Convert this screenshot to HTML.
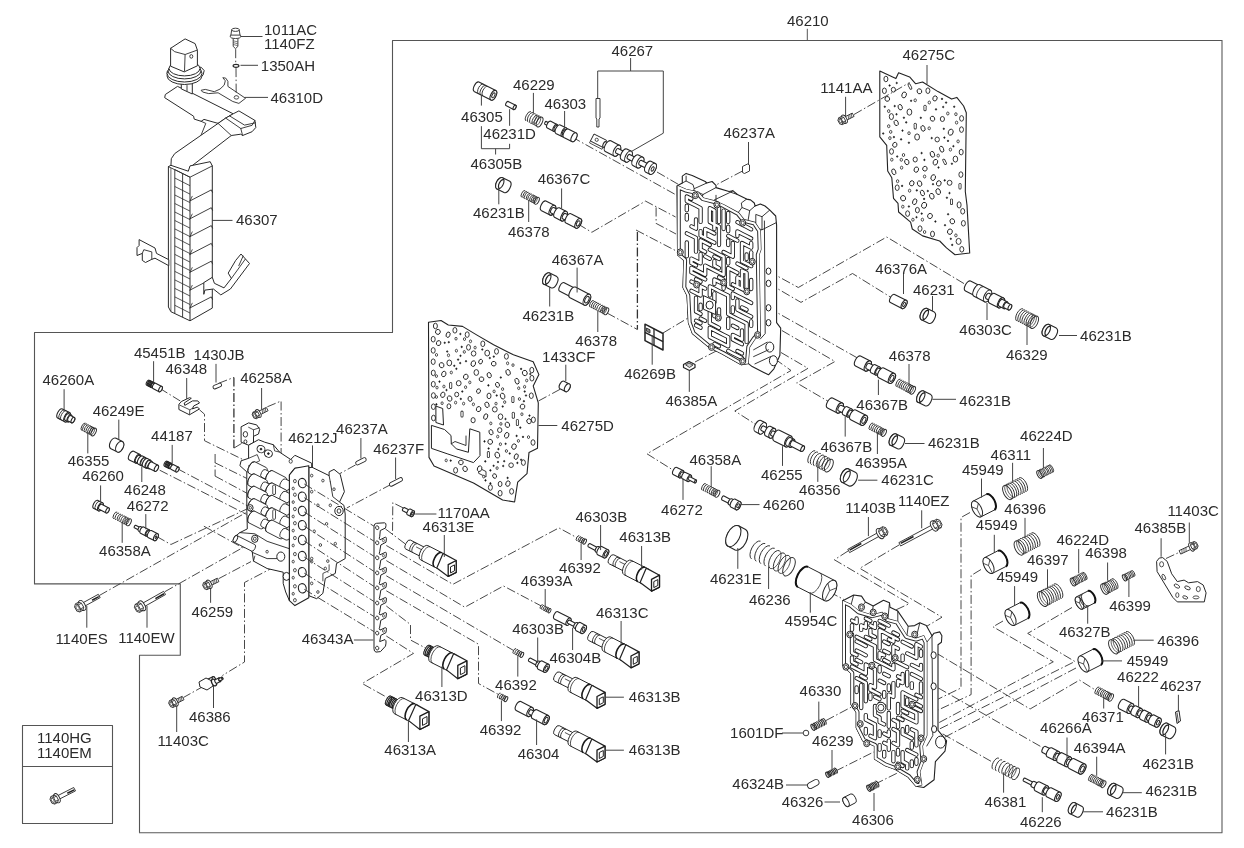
<!DOCTYPE html><html><head><meta charset="utf-8"><title>46210 valve body</title><style>html,body{margin:0;padding:0;background:#fff}svg{display:block;will-change:transform;font-family:"Liberation Sans",sans-serif}</style></head><body><svg width="1244" height="848" viewBox="0 0 1244 848"><path d="M1222 40.5 L392.5 40.5 L392.5 332.5 L34.5 332.5 L34.5 583.9 L180.3 583.9 L180.3 655.2 L139.5 655.2 L139.5 832.8" stroke="#555" stroke-width="1.1" fill="none" stroke-linejoin="round" />
<path d="M1222 40 L1222 832.8 L139 832.8" stroke="#5a5a5a" stroke-width="1.1" fill="none" stroke-linejoin="round" />
<line x1="807.3" y1="28.8" x2="807.3" y2="40.5" stroke="#555" stroke-width="1" />
<path d="M22.5 725.5 L112.5 725.5 L112.5 823.5 L22.5 823.5 Z" stroke="#555" stroke-width="1.1" fill="none" stroke-linejoin="round" />
<line x1="22.5" y1="766.5" x2="112.5" y2="766.5" stroke="#555" stroke-width="1.1" />
<path d="M159.7 388.3 L180.3 401" stroke="#333" stroke-width="0.9" fill="none" stroke-dasharray="9 2.5 1.5 2.5"/>
<path d="M199.5 409.8 L204.5 414.2 L204.5 440.7 L248 462" stroke="#333" stroke-width="0.9" fill="none" stroke-dasharray="9 2.5 1.5 2.5"/>
<path d="M215.1 454 L215.1 476.1" stroke="#333" stroke-width="0.9" fill="none" stroke-dasharray="9 2.5 1.5 2.5"/>
<path d="M215.1 462.8 L248 479" stroke="#333" stroke-width="0.9" fill="none" stroke-dasharray="9 2.5 1.5 2.5"/>
<path d="M215.1 476.1 L248 493.8" stroke="#333" stroke-width="0.9" fill="none" stroke-dasharray="9 2.5 1.5 2.5"/>
<path d="M267.3 406.8 L281.1 401 L281.1 467.3" stroke="#333" stroke-width="0.9" fill="none" stroke-dasharray="9 2.5 1.5 2.5"/>
<path d="M177.4 468.7 L249.6 507" stroke="#333" stroke-width="0.9" fill="none" stroke-dasharray="9 2.5 1.5 2.5"/>
<path d="M159.7 470.2 L246.6 514.4" stroke="#333" stroke-width="0.9" fill="none" stroke-dasharray="9 2.5 1.5 2.5"/>
<path d="M156.7 536.5 L170.9 544.5 L248 508.5" stroke="#333" stroke-width="0.9" fill="none" stroke-dasharray="9 2.5 1.5 2.5"/>
<path d="M203.9 526.2 L243.7 548.3 L255.5 541" stroke="#333" stroke-width="0.9" fill="none" stroke-dasharray="9 2.5 1.5 2.5"/>
<path d="M99.3 595.5 L248 511.5" stroke="#333" stroke-width="0.9" fill="none" stroke-dasharray="9 2.5 1.5 2.5"/>
<path d="M165 591.6 L255.5 540.4" stroke="#333" stroke-width="0.9" fill="none" stroke-dasharray="9 2.5 1.5 2.5"/>
<path d="M218.6 578.7 L251 561.6" stroke="#333" stroke-width="0.9" fill="none" stroke-dasharray="9 2.5 1.5 2.5"/>
<path d="M276 566 L244.5 582.5 L244.5 662 L222.4 675.5" stroke="#333" stroke-width="0.9" fill="none" stroke-dasharray="9 2.5 1.5 2.5"/>
<path d="M204 686 L183.4 697.5" stroke="#333" stroke-width="0.9" fill="none" stroke-dasharray="9 2.5 1.5 2.5"/>
<path d="M355.6 464.9 L339.7 473.7" stroke="#333" stroke-width="0.9" fill="none" stroke-dasharray="9 2.5 1.5 2.5"/>
<path d="M391 484.4 L346.8 508" stroke="#333" stroke-width="0.9" fill="none" stroke-dasharray="9 2.5 1.5 2.5"/>
<path d="M403.4 508 L392.8 502.7 L392.5 535.6" stroke="#333" stroke-width="0.9" fill="none" stroke-dasharray="9 2.5 1.5 2.5"/>
<path d="M385.5 529 L406.7 545" stroke="#333" stroke-width="0.9" fill="none" stroke-dasharray="9 2.5 1.5 2.5"/>
<path d="M386.3 545.5 L452.9 584.3 L558.9 527.9 L577.7 538.1" stroke="#333" stroke-width="0.9" fill="none" stroke-dasharray="9 2.5 1.5 2.5"/>
<path d="M386.3 560.6 L464.8 607.2 L503.5 586 L541.1 605.9" stroke="#333" stroke-width="0.9" fill="none" stroke-dasharray="9 2.5 1.5 2.5"/>
<path d="M386.3 575.8 L514.4 651" stroke="#333" stroke-width="0.9" fill="none" stroke-dasharray="9 2.5 1.5 2.5"/>
<path d="M386.3 590.8 L478.5 644.2 L478.5 683.5 L499 694.8" stroke="#333" stroke-width="0.9" fill="none" stroke-dasharray="9 2.5 1.5 2.5"/>
<path d="M386.3 606 L410.5 624.5 L410.5 640 L425.5 648" stroke="#333" stroke-width="0.9" fill="none" stroke-dasharray="9 2.5 1.5 2.5"/>
<path d="M386.3 636 L413.5 653.4 L362.2 683.5 L387.9 697.9" stroke="#333" stroke-width="0.9" fill="none" stroke-dasharray="9 2.5 1.5 2.5"/>
<path d="M572 137 L677.7 195.8" stroke="#333" stroke-width="0.9" fill="none" stroke-dasharray="9 2.5 1.5 2.5"/>
<path d="M657 172 L679.8 185.2" stroke="#333" stroke-width="0.9" fill="none" stroke-dasharray="9 2.5 1.5 2.5"/>
<path d="M578 224 L591.8 232.3 L645.5 201.1 L675.6 217" stroke="#333" stroke-width="0.9" fill="none" stroke-dasharray="9 2.5 1.5 2.5"/>
<path d="M656.1 207.5 L656.1 223.4 L676 234" stroke="#333" stroke-width="0.9" fill="none" stroke-dasharray="9 2.5 1.5 2.5"/>
<path d="M636 230 L684 255" stroke="#333" stroke-width="0.9" fill="none" stroke-dasharray="9 2.5 1.5 2.5"/>
<path d="M742.5 171 L716 185" stroke="#333" stroke-width="0.9" fill="none" stroke-dasharray="9 2.5 1.5 2.5"/>
<path d="M663 333 L688 318" stroke="#333" stroke-width="0.9" fill="none" stroke-dasharray="9 2.5 1.5 2.5"/>
<path d="M695 362 L722 348" stroke="#333" stroke-width="0.9" fill="none" stroke-dasharray="9 2.5 1.5 2.5"/>
<path d="M560.1 389.3 L537.5 401.5" stroke="#333" stroke-width="0.9" fill="none" stroke-dasharray="9 2.5 1.5 2.5"/>
<path d="M607 313 L637.4 329.5" stroke="#333" stroke-width="0.9" fill="none" stroke-dasharray="9 2.5 1.5 2.5"/>
<path d="M768.5 271.2 L798.3 287.5 L886.7 237 L968 286" stroke="#333" stroke-width="0.9" fill="none" stroke-dasharray="9 2.5 1.5 2.5"/>
<path d="M768.5 283.4 L801 302.4 L852.5 273.5 L892 298" stroke="#333" stroke-width="0.9" fill="none" stroke-dasharray="9 2.5 1.5 2.5"/>
<path d="M768.5 307.8 L857.5 358" stroke="#333" stroke-width="0.9" fill="none" stroke-dasharray="9 2.5 1.5 2.5"/>
<path d="M768.5 322.7 L835 361.5 L796.7 382.9 L829.3 402" stroke="#333" stroke-width="0.9" fill="none" stroke-dasharray="9 2.5 1.5 2.5"/>
<path d="M781 352.5 L808 368.3 L734.8 411 L757.7 425.7" stroke="#333" stroke-width="0.9" fill="none" stroke-dasharray="9 2.5 1.5 2.5"/>
<path d="M775 359 L791 370.5 L647 453.8 L674 470.7" stroke="#333" stroke-width="0.9" fill="none" stroke-dasharray="9 2.5 1.5 2.5"/>
<path d="M848 551 L834.4 559.8 L909.3 603.7 L892.4 611.5" stroke="#333" stroke-width="0.9" fill="none" stroke-dasharray="9 2.5 1.5 2.5"/>
<path d="M899 545 L859.8 568.3 L942 617.2 L925 627.3" stroke="#333" stroke-width="0.9" fill="none" stroke-dasharray="9 2.5 1.5 2.5"/>
<path d="M829.5 592 L844 599.6" stroke="#333" stroke-width="0.9" fill="none" stroke-dasharray="9 2.5 1.5 2.5"/>
<path d="M970 512.5 L961 517.5 L961 688 L938.3 699" stroke="#333" stroke-width="0.9" fill="none" stroke-dasharray="9 2.5 1.5 2.5"/>
<path d="M981 569.5 L971.1 575.5 L971.1 694.6 L938.3 709.9" stroke="#333" stroke-width="0.9" fill="none" stroke-dasharray="9 2.5 1.5 2.5"/>
<path d="M1003 621 L993 626.8 L1053.3 661.8 L938.3 723" stroke="#333" stroke-width="0.9" fill="none" stroke-dasharray="9 2.5 1.5 2.5"/>
<path d="M1072 607.5 L1027.7 633.4 L1074.9 661.5 L938.3 729.6" stroke="#333" stroke-width="0.9" fill="none" stroke-dasharray="9 2.5 1.5 2.5"/>
<path d="M1076 668 L942.7 738.3" stroke="#333" stroke-width="0.9" fill="none" stroke-dasharray="9 2.5 1.5 2.5"/>
<path d="M936.1 653 L1030.1 709 L1079.5 680.1 L1095.7 690.2" stroke="#333" stroke-width="0.9" fill="none" stroke-dasharray="9 2.5 1.5 2.5"/>
<path d="M938.3 688 L1045.4 749.2" stroke="#333" stroke-width="0.9" fill="none" stroke-dasharray="9 2.5 1.5 2.5"/>
<path d="M942.7 733.9 L993 762.4" stroke="#333" stroke-width="0.9" fill="none" stroke-dasharray="9 2.5 1.5 2.5"/>
<path d="M826 720.5 L855.3 705" stroke="#333" stroke-width="0.9" fill="none" stroke-dasharray="9 2.5 1.5 2.5"/>
<path d="M835.5 771.1 L874.9 751.4" stroke="#333" stroke-width="0.9" fill="none" stroke-dasharray="9 2.5 1.5 2.5"/>
<path d="M874.9 784.2 L896.8 773.3" stroke="#333" stroke-width="0.9" fill="none" stroke-dasharray="9 2.5 1.5 2.5"/>
<path d="M1166 558.5 L1180 552" stroke="#333" stroke-width="0.9" fill="none" stroke-dasharray="9 2.5 1.5 2.5"/>
<path d="M233.9 377.4 L233.9 448.1" stroke="#333" stroke-width="1.3" fill="none" stroke-dasharray="9 2.5 1.5 2.5"/>
<path d="M218.6 383.3 L233.9 377.4" stroke="#333" stroke-width="0.9" fill="none" stroke-dasharray="9 2.5 1.5 2.5"/>
<path d="M233.9 448.1 L243.7 442.2" stroke="#333" stroke-width="0.9" fill="none" stroke-dasharray="9 2.5 1.5 2.5"/>
<path d="M637.4 232 L637.4 329.5" stroke="#333" stroke-width="1.3" fill="none" stroke-dasharray="9 2.5 1.5 2.5"/>
<path d="M894.6 294.4 L906.2 300.3 A2.3 4.6 27 0 1 902 308.5 L890.4 302.6 A2.3 4.6 27 0 1 894.6 294.4 Z" stroke="#262626" stroke-width="1.1" fill="#fff" stroke-linejoin="round"/>
<ellipse cx="904.1" cy="304.4" rx="2.3" ry="4.6" transform="rotate(27 904.1 304.4)" stroke="#262626" stroke-width="1.1" fill="#fff"/>
<ellipse cx="904.1" cy="304.4" rx="1.1" ry="2.3" transform="rotate(27 904.1 304.4)" stroke="#262626" stroke-width="0.9900000000000001" fill="#fff"/>
<path d="M927.2 308.5 L934.3 312.1 A3.5 6.3 27 0 1 928.6 323.3 L921.4 319.7 A3.5 6.3 27 0 1 927.2 308.5 Z" stroke="#262626" stroke-width="1.1" fill="#fff" stroke-linejoin="round"/>
<ellipse cx="924.3" cy="314.1" rx="3.5" ry="6.3" transform="rotate(27 924.3 314.1)" stroke="#262626" stroke-width="1.1" fill="#fff"/>
<path d="M928.6 310.6 A2.8 5 27 0 0 924.1 319.6" stroke="#222" stroke-width="1.2" fill="none"/>
<path d="M970.5 281.1 L979.4 285.6 A2.8 5.5 27 0 1 974.4 295.4 L965.5 290.9 A2.8 5.5 27 0 1 970.5 281.1 Z" stroke="#262626" stroke-width="1.1" fill="#fff" stroke-linejoin="round"/>
<ellipse cx="976.9" cy="290.5" rx="2.8" ry="5.5" transform="rotate(27 976.9 290.5)" stroke="#262626" stroke-width="1.1" fill="#fff"/>
<path d="M979.9 284.7 L990.6 290.2 A3.2 6.5 27 0 1 984.7 301.8 L974 296.3 A3.2 6.5 27 0 1 979.9 284.7 Z" stroke="#262626" stroke-width="1.1" fill="#fff" stroke-linejoin="round"/>
<ellipse cx="987.6" cy="296" rx="3.2" ry="6.5" transform="rotate(27 987.6 296)" stroke="#262626" stroke-width="1.1" fill="#fff"/>
<path d="M989 293.3 L993.4 295.6 A1.5 3 27 0 1 990.7 300.9 L986.2 298.7 A1.5 3 27 0 1 989 293.3 Z" stroke="#262626" stroke-width="1.1" fill="#fff" stroke-linejoin="round"/>
<ellipse cx="992.1" cy="298.3" rx="1.5" ry="3" transform="rotate(27 992.1 298.3)" stroke="#262626" stroke-width="1.1" fill="#fff"/>
<path d="M994.6 293.4 L1003.5 297.9 A2.8 5.5 27 0 1 998.5 307.7 L989.6 303.2 A2.8 5.5 27 0 1 994.6 293.4 Z" stroke="#262626" stroke-width="1.1" fill="#fff" stroke-linejoin="round"/>
<ellipse cx="1001" cy="302.8" rx="2.8" ry="5.5" transform="rotate(27 1001 302.8)" stroke="#262626" stroke-width="1.1" fill="#fff"/>
<path d="M1002.7 299.4 L1007.1 301.7 A1.9 3.8 27 0 1 1003.7 308.5 L999.2 306.2 A1.9 3.8 27 0 1 1002.7 299.4 Z" stroke="#262626" stroke-width="1.1" fill="#fff" stroke-linejoin="round"/>
<ellipse cx="1005.4" cy="305.1" rx="1.9" ry="3.8" transform="rotate(27 1005.4 305.1)" stroke="#262626" stroke-width="1.1" fill="#fff"/>
<path d="M1006.8 302.4 L1011.2 304.7 A1.5 3 27 0 1 1008.5 310 L1004.1 307.7 A1.5 3 27 0 1 1006.8 302.4 Z" stroke="#262626" stroke-width="1.1" fill="#fff" stroke-linejoin="round"/>
<ellipse cx="1009.9" cy="307.3" rx="1.5" ry="3" transform="rotate(27 1009.9 307.3)" stroke="#262626" stroke-width="1.1" fill="#fff"/>
<path d="M983.4 286.6 A3.2 6.5 27 0 0 977.5 298.1" stroke="#262626" stroke-width="0.9" fill="none"/>
<path d="M1023.1 308.9 L1037.3 316.2 A3.4 6.8 27 0 1 1031.2 328.3 L1016.9 321.1 A3.4 6.8 27 0 1 1023.1 308.9 Z" stroke="none" stroke-width="0" fill="#fff" stroke-linejoin="round"/>
<path d="M1023.1 308.9 A3.4 6.8 27 0 0 1016.9 321.1" stroke="#2a2a2a" stroke-width="0.95" fill="none"/>
<path d="M1025.1 310 A3.4 6.8 27 0 0 1018.9 322.1" stroke="#2a2a2a" stroke-width="0.95" fill="none"/>
<path d="M1027.2 311 A3.4 6.8 27 0 0 1021 323.1" stroke="#2a2a2a" stroke-width="0.95" fill="none"/>
<path d="M1029.2 312.1 A3.4 6.8 27 0 0 1023 324.2" stroke="#2a2a2a" stroke-width="0.95" fill="none"/>
<path d="M1031.2 313.1 A3.4 6.8 27 0 0 1025.1 325.2" stroke="#2a2a2a" stroke-width="0.95" fill="none"/>
<path d="M1033.3 314.1 A3.4 6.8 27 0 0 1027.1 326.2" stroke="#2a2a2a" stroke-width="0.95" fill="none"/>
<path d="M1035.3 315.2 A3.4 6.8 27 0 0 1029.1 327.3" stroke="#2a2a2a" stroke-width="0.95" fill="none"/>
<ellipse cx="1034.3" cy="322.3" rx="3.4" ry="6.8" transform="rotate(27 1034.3 322.3)" stroke="#2a2a2a" stroke-width="0.95" fill="none"/>
<path d="M1031.2 313.1 A3.4 6.8 27 0 1 1025.1 325.2" stroke="#2a2a2a" stroke-width="0.76" fill="none"/>
<path d="M1033.3 314.1 A3.4 6.8 27 0 1 1027.1 326.2" stroke="#2a2a2a" stroke-width="0.76" fill="none"/>
<path d="M1035.3 315.2 A3.4 6.8 27 0 1 1029.1 327.3" stroke="#2a2a2a" stroke-width="0.76" fill="none"/>
<path d="M1049.2 324.5 L1056.3 328.1 A3.5 6.3 27 0 1 1050.6 339.3 L1043.4 335.7 A3.5 6.3 27 0 1 1049.2 324.5 Z" stroke="#262626" stroke-width="1.1" fill="#fff" stroke-linejoin="round"/>
<ellipse cx="1046.3" cy="330.1" rx="3.5" ry="6.3" transform="rotate(27 1046.3 330.1)" stroke="#262626" stroke-width="1.1" fill="#fff"/>
<path d="M1050.6 326.6 A2.8 5 27 0 0 1046.1 335.6" stroke="#222" stroke-width="1.2" fill="none"/>
<path d="M860.5 356.1 L870.3 361.1 A2.8 5.5 27 0 1 865.3 370.9 L855.5 365.9 A2.8 5.5 27 0 1 860.5 356.1 Z" stroke="#262626" stroke-width="1.1" fill="#fff" stroke-linejoin="round"/>
<ellipse cx="867.8" cy="366" rx="2.8" ry="5.5" transform="rotate(27 867.8 366)" stroke="#262626" stroke-width="1.1" fill="#fff"/>
<path d="M869.2 363.3 L874.5 366 A1.5 3 27 0 1 871.8 371.4 L866.4 368.7 A1.5 3 27 0 1 869.2 363.3 Z" stroke="#262626" stroke-width="1.1" fill="#fff" stroke-linejoin="round"/>
<ellipse cx="873.1" cy="368.7" rx="1.5" ry="3" transform="rotate(27 873.1 368.7)" stroke="#262626" stroke-width="1.1" fill="#fff"/>
<path d="M875.2 364.7 L879.6 367 A2.2 4.5 27 0 1 875.6 375 L871.1 372.7 A2.2 4.5 27 0 1 875.2 364.7 Z" stroke="#262626" stroke-width="1.1" fill="#fff" stroke-linejoin="round"/>
<ellipse cx="877.6" cy="371" rx="2.2" ry="4.5" transform="rotate(27 877.6 371)" stroke="#262626" stroke-width="1.1" fill="#fff"/>
<path d="M879 368.3 L882.5 370.1 A1.5 3 27 0 1 879.8 375.5 L876.2 373.7 A1.5 3 27 0 1 879 368.3 Z" stroke="#262626" stroke-width="1.1" fill="#fff" stroke-linejoin="round"/>
<ellipse cx="881.2" cy="372.8" rx="1.5" ry="3" transform="rotate(27 881.2 372.8)" stroke="#262626" stroke-width="1.1" fill="#fff"/>
<path d="M883.7 367.9 L894.4 373.4 A2.8 5.5 27 0 1 889.4 383.2 L878.7 377.7 A2.8 5.5 27 0 1 883.7 367.9 Z" stroke="#262626" stroke-width="1.1" fill="#fff" stroke-linejoin="round"/>
<ellipse cx="891.9" cy="378.3" rx="2.8" ry="5.5" transform="rotate(27 891.9 378.3)" stroke="#262626" stroke-width="1.1" fill="#fff"/>
<ellipse cx="891.9" cy="378.3" rx="1.6" ry="3.3" transform="rotate(27 891.9 378.3)" stroke="#262626" stroke-width="0.9900000000000001" fill="#fff"/>
<path d="M900.5 379.2 L914.7 386.4 A2.1 4.3 27 0 1 910.8 394.1 L896.5 386.8 A2.1 4.3 27 0 1 900.5 379.2 Z" stroke="none" stroke-width="0" fill="#fff" stroke-linejoin="round"/>
<path d="M900.5 379.2 A2.1 4.3 27 0 0 896.5 386.8" stroke="#2a2a2a" stroke-width="0.95" fill="none"/>
<path d="M902.2 380.1 A2.1 4.3 27 0 0 898.3 387.7" stroke="#2a2a2a" stroke-width="0.95" fill="none"/>
<path d="M904 381 A2.1 4.3 27 0 0 900.1 388.6" stroke="#2a2a2a" stroke-width="0.95" fill="none"/>
<path d="M905.8 381.9 A2.1 4.3 27 0 0 901.9 389.6" stroke="#2a2a2a" stroke-width="0.95" fill="none"/>
<path d="M907.6 382.8 A2.1 4.3 27 0 0 903.7 390.5" stroke="#2a2a2a" stroke-width="0.95" fill="none"/>
<path d="M909.4 383.7 A2.1 4.3 27 0 0 905.5 391.4" stroke="#2a2a2a" stroke-width="0.95" fill="none"/>
<path d="M911.1 384.6 A2.1 4.3 27 0 0 907.2 392.3" stroke="#2a2a2a" stroke-width="0.95" fill="none"/>
<path d="M912.9 385.5 A2.1 4.3 27 0 0 909 393.2" stroke="#2a2a2a" stroke-width="0.95" fill="none"/>
<ellipse cx="912.8" cy="390.3" rx="2.1" ry="4.3" transform="rotate(27 912.8 390.3)" stroke="#2a2a2a" stroke-width="0.95" fill="none"/>
<path d="M909.4 383.7 A2.1 4.3 27 0 1 905.5 391.4" stroke="#2a2a2a" stroke-width="0.76" fill="none"/>
<path d="M911.1 384.6 A2.1 4.3 27 0 1 907.2 392.3" stroke="#2a2a2a" stroke-width="0.76" fill="none"/>
<path d="M912.9 385.5 A2.1 4.3 27 0 1 909 393.2" stroke="#2a2a2a" stroke-width="0.76" fill="none"/>
<path d="M923.7 391 L930.8 394.6 A3.5 6.3 27 0 1 925.1 405.8 L917.9 402.2 A3.5 6.3 27 0 1 923.7 391 Z" stroke="#262626" stroke-width="1.1" fill="#fff" stroke-linejoin="round"/>
<ellipse cx="920.8" cy="396.6" rx="3.5" ry="6.3" transform="rotate(27 920.8 396.6)" stroke="#262626" stroke-width="1.1" fill="#fff"/>
<path d="M925.1 393.1 A2.8 5 27 0 0 920.6 402.1" stroke="#222" stroke-width="1.2" fill="none"/>
<path d="M832.5 398.1 L842.3 403.1 A2.8 5.5 27 0 1 837.3 412.9 L827.5 407.9 A2.8 5.5 27 0 1 832.5 398.1 Z" stroke="#262626" stroke-width="1.1" fill="#fff" stroke-linejoin="round"/>
<ellipse cx="839.8" cy="408" rx="2.8" ry="5.5" transform="rotate(27 839.8 408)" stroke="#262626" stroke-width="1.1" fill="#fff"/>
<path d="M841.2 405.3 L846.5 408 A1.5 3 27 0 1 843.8 413.4 L838.4 410.7 A1.5 3 27 0 1 841.2 405.3 Z" stroke="#262626" stroke-width="1.1" fill="#fff" stroke-linejoin="round"/>
<ellipse cx="845.1" cy="410.7" rx="1.5" ry="3" transform="rotate(27 845.1 410.7)" stroke="#262626" stroke-width="1.1" fill="#fff"/>
<path d="M847.2 406.7 L851.6 409 A2.2 4.5 27 0 1 847.6 417 L843.1 414.7 A2.2 4.5 27 0 1 847.2 406.7 Z" stroke="#262626" stroke-width="1.1" fill="#fff" stroke-linejoin="round"/>
<ellipse cx="849.6" cy="413" rx="2.2" ry="4.5" transform="rotate(27 849.6 413)" stroke="#262626" stroke-width="1.1" fill="#fff"/>
<path d="M851 410.3 L854.5 412.1 A1.5 3 27 0 1 851.8 417.5 L848.2 415.7 A1.5 3 27 0 1 851 410.3 Z" stroke="#262626" stroke-width="1.1" fill="#fff" stroke-linejoin="round"/>
<ellipse cx="853.2" cy="414.8" rx="1.5" ry="3" transform="rotate(27 853.2 414.8)" stroke="#262626" stroke-width="1.1" fill="#fff"/>
<path d="M855.7 409.9 L866.4 415.4 A2.8 5.5 27 0 1 861.4 425.2 L850.7 419.7 A2.8 5.5 27 0 1 855.7 409.9 Z" stroke="#262626" stroke-width="1.1" fill="#fff" stroke-linejoin="round"/>
<ellipse cx="863.9" cy="420.3" rx="2.8" ry="5.5" transform="rotate(27 863.9 420.3)" stroke="#262626" stroke-width="1.1" fill="#fff"/>
<ellipse cx="863.9" cy="420.3" rx="1.6" ry="3.3" transform="rotate(27 863.9 420.3)" stroke="#262626" stroke-width="0.9900000000000001" fill="#fff"/>
<path d="M873.2 423.1 L885.7 429.5 A1.9 3.8 27 0 1 882.2 436.2 L869.8 429.9 A1.9 3.8 27 0 1 873.2 423.1 Z" stroke="none" stroke-width="0" fill="#fff" stroke-linejoin="round"/>
<path d="M873.2 423.1 A1.9 3.8 27 0 0 869.8 429.9" stroke="#2a2a2a" stroke-width="0.95" fill="none"/>
<path d="M875 424 A1.9 3.8 27 0 0 871.6 430.8" stroke="#2a2a2a" stroke-width="0.95" fill="none"/>
<path d="M876.8 424.9 A1.9 3.8 27 0 0 873.3 431.7" stroke="#2a2a2a" stroke-width="0.95" fill="none"/>
<path d="M878.6 425.8 A1.9 3.8 27 0 0 875.1 432.6" stroke="#2a2a2a" stroke-width="0.95" fill="none"/>
<path d="M880.4 426.7 A1.9 3.8 27 0 0 876.9 433.5" stroke="#2a2a2a" stroke-width="0.95" fill="none"/>
<path d="M882.1 427.7 A1.9 3.8 27 0 0 878.7 434.4" stroke="#2a2a2a" stroke-width="0.95" fill="none"/>
<path d="M883.9 428.6 A1.9 3.8 27 0 0 880.5 435.3" stroke="#2a2a2a" stroke-width="0.95" fill="none"/>
<ellipse cx="884" cy="432.9" rx="1.9" ry="3.8" transform="rotate(27 884 432.9)" stroke="#2a2a2a" stroke-width="0.95" fill="none"/>
<path d="M880.4 426.7 A1.9 3.8 27 0 1 876.9 433.5" stroke="#2a2a2a" stroke-width="0.76" fill="none"/>
<path d="M882.1 427.7 A1.9 3.8 27 0 1 878.7 434.4" stroke="#2a2a2a" stroke-width="0.76" fill="none"/>
<path d="M883.9 428.6 A1.9 3.8 27 0 1 880.5 435.3" stroke="#2a2a2a" stroke-width="0.76" fill="none"/>
<path d="M896.2 434 L903.3 437.6 A3.5 6.3 27 0 1 897.6 448.8 L890.4 445.2 A3.5 6.3 27 0 1 896.2 434 Z" stroke="#262626" stroke-width="1.1" fill="#fff" stroke-linejoin="round"/>
<ellipse cx="893.3" cy="439.6" rx="3.5" ry="6.3" transform="rotate(27 893.3 439.6)" stroke="#262626" stroke-width="1.1" fill="#fff"/>
<path d="M897.6 436.1 A2.8 5 27 0 0 893.1 445.1" stroke="#222" stroke-width="1.2" fill="none"/>
<path d="M760.9 420.4 L765.3 422.7 A3.1 6.3 27 0 1 759.6 433.9 L755.1 431.6 A3.1 6.3 27 0 1 760.9 420.4 Z" stroke="#262626" stroke-width="1.1" fill="#fff" stroke-linejoin="round"/>
<ellipse cx="762.5" cy="428.3" rx="3.1" ry="6.3" transform="rotate(27 762.5 428.3)" stroke="#262626" stroke-width="1.1" fill="#fff"/>
<path d="M763.6 426 L768.9 428.8 A1.2 2.5 27 0 1 766.7 433.2 L761.3 430.5 A1.2 2.5 27 0 1 763.6 426 Z" stroke="#262626" stroke-width="1.1" fill="#fff" stroke-linejoin="round"/>
<ellipse cx="767.8" cy="431" rx="1.2" ry="2.5" transform="rotate(27 767.8 431)" stroke="#262626" stroke-width="1.1" fill="#fff"/>
<path d="M770.2 426.3 L774.7 428.5 A2.6 5.3 27 0 1 769.8 438 L765.4 435.7 A2.6 5.3 27 0 1 770.2 426.3 Z" stroke="#262626" stroke-width="1.1" fill="#fff" stroke-linejoin="round"/>
<ellipse cx="772.3" cy="433.3" rx="2.6" ry="5.3" transform="rotate(27 772.3 433.3)" stroke="#262626" stroke-width="1.1" fill="#fff"/>
<path d="M773.4 431 L777.8 433.3 A1.2 2.5 27 0 1 775.6 437.8 L771.1 435.5 A1.2 2.5 27 0 1 773.4 431 Z" stroke="#262626" stroke-width="1.1" fill="#fff" stroke-linejoin="round"/>
<ellipse cx="776.7" cy="435.5" rx="1.2" ry="2.5" transform="rotate(27 776.7 435.5)" stroke="#262626" stroke-width="1.1" fill="#fff"/>
<path d="M779.4 430.2 L791 436.1 A3 6 27 0 1 785.6 446.8 L774 440.9 A3 6 27 0 1 779.4 430.2 Z" stroke="#262626" stroke-width="1.1" fill="#fff" stroke-linejoin="round"/>
<ellipse cx="788.3" cy="441.4" rx="3" ry="6" transform="rotate(27 788.3 441.4)" stroke="#262626" stroke-width="1.1" fill="#fff"/>
<path d="M790.3 437.4 L793.9 439.2 A2.2 4.5 27 0 1 789.8 447.3 L786.3 445.4 A2.2 4.5 27 0 1 790.3 437.4 Z" stroke="#262626" stroke-width="1.1" fill="#fff" stroke-linejoin="round"/>
<ellipse cx="791.9" cy="443.3" rx="2.2" ry="4.5" transform="rotate(27 791.9 443.3)" stroke="#262626" stroke-width="1.1" fill="#fff"/>
<path d="M793.2 440.6 L803.9 446 A1.5 3 27 0 1 801.2 451.4 L790.5 445.9 A1.5 3 27 0 1 793.2 440.6 Z" stroke="#262626" stroke-width="1.1" fill="#fff" stroke-linejoin="round"/>
<ellipse cx="802.6" cy="448.7" rx="1.5" ry="3" transform="rotate(27 802.6 448.7)" stroke="#262626" stroke-width="1.1" fill="#fff"/>
<path d="M815.2 450.8 L832.1 459.4 A3.5 7 27 0 1 825.8 471.9 L808.8 463.2 A3.5 7 27 0 1 815.2 450.8 Z" stroke="none" stroke-width="0" fill="#fff" stroke-linejoin="round"/>
<path d="M815.2 450.8 A3.5 7 27 0 0 808.8 463.2" stroke="#2a2a2a" stroke-width="0.95" fill="none"/>
<path d="M818 452.2 A3.5 7 27 0 0 811.6 464.7" stroke="#2a2a2a" stroke-width="0.95" fill="none"/>
<path d="M820.8 453.6 A3.5 7 27 0 0 814.5 466.1" stroke="#2a2a2a" stroke-width="0.95" fill="none"/>
<path d="M823.6 455.1 A3.5 7 27 0 0 817.3 467.5" stroke="#2a2a2a" stroke-width="0.95" fill="none"/>
<path d="M826.5 456.5 A3.5 7 27 0 0 820.1 469" stroke="#2a2a2a" stroke-width="0.95" fill="none"/>
<path d="M829.3 458 A3.5 7 27 0 0 822.9 470.4" stroke="#2a2a2a" stroke-width="0.95" fill="none"/>
<ellipse cx="828.9" cy="465.6" rx="3.5" ry="7" transform="rotate(27 828.9 465.6)" stroke="#2a2a2a" stroke-width="0.95" fill="none"/>
<path d="M823.6 455.1 A3.5 7 27 0 1 817.3 467.5" stroke="#2a2a2a" stroke-width="0.76" fill="none"/>
<path d="M826.5 456.5 A3.5 7 27 0 1 820.1 469" stroke="#2a2a2a" stroke-width="0.76" fill="none"/>
<path d="M829.3 458 A3.5 7 27 0 1 822.9 470.4" stroke="#2a2a2a" stroke-width="0.76" fill="none"/>
<path d="M848.7 468.9 L855.8 472.5 A4.1 7.5 27 0 1 849 485.9 L841.9 482.3 A4.1 7.5 27 0 1 848.7 468.9 Z" stroke="#262626" stroke-width="1.1" fill="#fff" stroke-linejoin="round"/>
<ellipse cx="845.3" cy="475.6" rx="4.1" ry="7.5" transform="rotate(27 845.3 475.6)" stroke="#262626" stroke-width="1.1" fill="#fff"/>
<path d="M850.1 471.3 A3.3 6 27 0 0 844.6 482" stroke="#222" stroke-width="1.2" fill="none"/>
<path d="M676.8 467.4 L683.1 470.6 A2 4 27 0 1 679.4 477.7 L673.2 474.6 A2 4 27 0 1 676.8 467.4 Z" stroke="#262626" stroke-width="1.1" fill="#fff" stroke-linejoin="round"/>
<ellipse cx="681.2" cy="474.2" rx="2" ry="4" transform="rotate(27 681.2 474.2)" stroke="#262626" stroke-width="1.1" fill="#fff"/>
<path d="M682.4 472 L685 473.3 A1.2 2.5 27 0 1 682.8 477.8 L680.1 476.4 A1.2 2.5 27 0 1 682.4 472 Z" stroke="#262626" stroke-width="1.1" fill="#fff" stroke-linejoin="round"/>
<ellipse cx="683.9" cy="475.5" rx="1.2" ry="2.5" transform="rotate(27 683.9 475.5)" stroke="#262626" stroke-width="1.1" fill="#fff"/>
<path d="M685.5 472.4 L690.8 475.1 A1.8 3.5 27 0 1 687.7 481.4 L682.3 478.7 A1.8 3.5 27 0 1 685.5 472.4 Z" stroke="#262626" stroke-width="1.1" fill="#fff" stroke-linejoin="round"/>
<ellipse cx="689.3" cy="478.3" rx="1.8" ry="3.5" transform="rotate(27 689.3 478.3)" stroke="#262626" stroke-width="1.1" fill="#fff"/>
<path d="M690 476.8 L696.2 480 A0.8 1.6 27 0 1 694.8 482.9 L688.5 479.7 A0.8 1.6 27 0 1 690 476.8 Z" stroke="#262626" stroke-width="1.1" fill="#fff" stroke-linejoin="round"/>
<ellipse cx="695.5" cy="481.4" rx="0.8" ry="1.6" transform="rotate(27 695.5 481.4)" stroke="#262626" stroke-width="1.1" fill="#fff"/>
<path d="M705.7 483.6 L719.1 490.4 A1.9 3.8 27 0 1 715.6 497.2 L702.3 490.4 A1.9 3.8 27 0 1 705.7 483.6 Z" stroke="none" stroke-width="0" fill="#fff" stroke-linejoin="round"/>
<path d="M705.7 483.6 A1.9 3.8 27 0 0 702.3 490.4" stroke="#2a2a2a" stroke-width="0.95" fill="none"/>
<path d="M707.6 484.6 A1.9 3.8 27 0 0 704.2 491.4" stroke="#2a2a2a" stroke-width="0.95" fill="none"/>
<path d="M709.5 485.6 A1.9 3.8 27 0 0 706.1 492.3" stroke="#2a2a2a" stroke-width="0.95" fill="none"/>
<path d="M711.5 486.5 A1.9 3.8 27 0 0 708 493.3" stroke="#2a2a2a" stroke-width="0.95" fill="none"/>
<path d="M713.4 487.5 A1.9 3.8 27 0 0 709.9 494.3" stroke="#2a2a2a" stroke-width="0.95" fill="none"/>
<path d="M715.3 488.5 A1.9 3.8 27 0 0 711.8 495.3" stroke="#2a2a2a" stroke-width="0.95" fill="none"/>
<path d="M717.2 489.5 A1.9 3.8 27 0 0 713.7 496.2" stroke="#2a2a2a" stroke-width="0.95" fill="none"/>
<ellipse cx="717.4" cy="493.8" rx="1.9" ry="3.8" transform="rotate(27 717.4 493.8)" stroke="#2a2a2a" stroke-width="0.95" fill="none"/>
<path d="M713.4 487.5 A1.9 3.8 27 0 1 709.9 494.3" stroke="#2a2a2a" stroke-width="0.76" fill="none"/>
<path d="M715.3 488.5 A1.9 3.8 27 0 1 711.8 495.3" stroke="#2a2a2a" stroke-width="0.76" fill="none"/>
<path d="M717.2 489.5 A1.9 3.8 27 0 1 713.7 496.2" stroke="#2a2a2a" stroke-width="0.76" fill="none"/>
<path d="M724 496 L731.1 499.7 A1.1 2.2 27 0 1 729.1 503.6 L722 500 A1.1 2.2 27 0 1 724 496 Z" stroke="#262626" stroke-width="1.1" fill="#fff" stroke-linejoin="round"/>
<ellipse cx="730.1" cy="501.6" rx="1.1" ry="2.2" transform="rotate(27 730.1 501.6)" stroke="#262626" stroke-width="1.1" fill="#fff"/>
<path d="M731.6 498.8 L734.3 500.1 A1.6 3.2 27 0 1 731.3 505.8 L728.7 504.5 A1.6 3.2 27 0 1 731.6 498.8 Z" stroke="#262626" stroke-width="1.1" fill="#fff" stroke-linejoin="round"/>
<ellipse cx="732.8" cy="503" rx="1.6" ry="3.2" transform="rotate(27 732.8 503)" stroke="#262626" stroke-width="1.1" fill="#fff"/>
<path d="M734.8 499 L740.2 501.7 A2.2 4.5 27 0 1 736.1 509.7 L730.8 507 A2.2 4.5 27 0 1 734.8 499 Z" stroke="#262626" stroke-width="1.1" fill="#fff" stroke-linejoin="round"/>
<ellipse cx="738.1" cy="505.7" rx="2.2" ry="4.5" transform="rotate(27 738.1 505.7)" stroke="#262626" stroke-width="1.1" fill="#fff"/>
<ellipse cx="738.1" cy="505.7" rx="1.1" ry="2.2" transform="rotate(27 738.1 505.7)" stroke="#262626" stroke-width="0.9900000000000001" fill="#fff"/>
<path d="M973 501.2 L986.4 494.3 A4.4 8.8 -27 0 1 994.4 510 L981 516.8 A4.4 8.8 -27 0 1 973 501.2 Z" stroke="#262626" stroke-width="1" fill="#fff" stroke-linejoin="round"/>
<path d="M986.4 494.3 A4.4 8.8 -27 0 1 994.4 510" stroke="#111" stroke-width="2" fill="none"/>
<ellipse cx="977" cy="509" rx="4.4" ry="8.8" transform="rotate(-27 977 509)" stroke="#262626" stroke-width="1" fill="#fff"/>
<line x1="977" y1="509" x2="981" y2="516.8" stroke="#262626" stroke-width="0.8" />
<line x1="977" y1="509" x2="971.6" y2="506.8" stroke="#262626" stroke-width="0.8" />
<line x1="977" y1="509" x2="978.4" y2="503.3" stroke="#262626" stroke-width="0.8" />
<path d="M1004 485.6 L1019.1 477.8 A3.9 7.8 -27 0 1 1026.2 491.7 L1011 499.4 A3.9 7.8 -27 0 1 1004 485.6 Z" stroke="none" stroke-width="0" fill="#fff" stroke-linejoin="round"/>
<path d="M1006.1 484.4 A3.9 7.8 -27 0 1 1013.2 498.3" stroke="#2a2a2a" stroke-width="0.95" fill="none"/>
<path d="M1008.3 483.3 A3.9 7.8 -27 0 1 1015.4 497.2" stroke="#2a2a2a" stroke-width="0.95" fill="none"/>
<path d="M1010.5 482.2 A3.9 7.8 -27 0 1 1017.5 496.1" stroke="#2a2a2a" stroke-width="0.95" fill="none"/>
<path d="M1012.6 481.1 A3.9 7.8 -27 0 1 1019.7 495" stroke="#2a2a2a" stroke-width="0.95" fill="none"/>
<path d="M1014.8 480 A3.9 7.8 -27 0 1 1021.9 493.9" stroke="#2a2a2a" stroke-width="0.95" fill="none"/>
<path d="M1016.9 478.9 A3.9 7.8 -27 0 1 1024 492.8" stroke="#2a2a2a" stroke-width="0.95" fill="none"/>
<path d="M1019.1 477.8 A3.9 7.8 -27 0 1 1026.2 491.7" stroke="#2a2a2a" stroke-width="0.95" fill="none"/>
<ellipse cx="1007.5" cy="492.5" rx="3.9" ry="7.8" transform="rotate(-27 1007.5 492.5)" stroke="#2a2a2a" stroke-width="0.95" fill="none"/>
<path d="M1006.1 484.4 A3.9 7.8 -27 0 0 1013.2 498.3" stroke="#2a2a2a" stroke-width="0.76" fill="none"/>
<path d="M1008.3 483.3 A3.9 7.8 -27 0 0 1015.4 497.2" stroke="#2a2a2a" stroke-width="0.76" fill="none"/>
<path d="M1037.5 470.7 L1049.1 464.8 A2.1 4.3 -27 0 1 1053 472.4 L1041.5 478.3 A2.1 4.3 -27 0 1 1037.5 470.7 Z" stroke="none" stroke-width="0" fill="#fff" stroke-linejoin="round"/>
<path d="M1039 469.9 A2.1 4.3 -27 0 1 1042.9 477.6" stroke="#2a2a2a" stroke-width="0.95" fill="none"/>
<path d="M1040.4 469.2 A2.1 4.3 -27 0 1 1044.3 476.9" stroke="#2a2a2a" stroke-width="0.95" fill="none"/>
<path d="M1041.9 468.5 A2.1 4.3 -27 0 1 1045.8 476.1" stroke="#2a2a2a" stroke-width="0.95" fill="none"/>
<path d="M1043.3 467.7 A2.1 4.3 -27 0 1 1047.2 475.4" stroke="#2a2a2a" stroke-width="0.95" fill="none"/>
<path d="M1044.8 467 A2.1 4.3 -27 0 1 1048.7 474.6" stroke="#2a2a2a" stroke-width="0.95" fill="none"/>
<path d="M1046.2 466.2 A2.1 4.3 -27 0 1 1050.1 473.9" stroke="#2a2a2a" stroke-width="0.95" fill="none"/>
<path d="M1047.7 465.5 A2.1 4.3 -27 0 1 1051.6 473.2" stroke="#2a2a2a" stroke-width="0.95" fill="none"/>
<path d="M1049.1 464.8 A2.1 4.3 -27 0 1 1053 472.4" stroke="#2a2a2a" stroke-width="0.95" fill="none"/>
<ellipse cx="1039.5" cy="474.5" rx="2.1" ry="4.3" transform="rotate(-27 1039.5 474.5)" stroke="#2a2a2a" stroke-width="0.95" fill="none"/>
<path d="M1039 469.9 A2.1 4.3 -27 0 0 1042.9 477.6" stroke="#2a2a2a" stroke-width="0.76" fill="none"/>
<path d="M1040.4 469.2 A2.1 4.3 -27 0 0 1044.3 476.9" stroke="#2a2a2a" stroke-width="0.76" fill="none"/>
<path d="M1015.5 541.1 L1031.5 532.9 A3.9 7.8 -27 0 1 1038.6 546.8 L1022.5 554.9 A3.9 7.8 -27 0 1 1015.5 541.1 Z" stroke="none" stroke-width="0" fill="#fff" stroke-linejoin="round"/>
<path d="M1017.8 539.9 A3.9 7.8 -27 0 1 1024.8 553.8" stroke="#2a2a2a" stroke-width="0.95" fill="none"/>
<path d="M1020 538.7 A3.9 7.8 -27 0 1 1027.1 552.6" stroke="#2a2a2a" stroke-width="0.95" fill="none"/>
<path d="M1022.3 537.5 A3.9 7.8 -27 0 1 1029.4 551.4" stroke="#2a2a2a" stroke-width="0.95" fill="none"/>
<path d="M1024.6 536.4 A3.9 7.8 -27 0 1 1031.7 550.3" stroke="#2a2a2a" stroke-width="0.95" fill="none"/>
<path d="M1026.9 535.2 A3.9 7.8 -27 0 1 1034 549.1" stroke="#2a2a2a" stroke-width="0.95" fill="none"/>
<path d="M1029.2 534 A3.9 7.8 -27 0 1 1036.3 547.9" stroke="#2a2a2a" stroke-width="0.95" fill="none"/>
<path d="M1031.5 532.9 A3.9 7.8 -27 0 1 1038.6 546.8" stroke="#2a2a2a" stroke-width="0.95" fill="none"/>
<ellipse cx="1019" cy="548" rx="3.9" ry="7.8" transform="rotate(-27 1019 548)" stroke="#2a2a2a" stroke-width="0.95" fill="none"/>
<path d="M1017.8 539.9 A3.9 7.8 -27 0 0 1024.8 553.8" stroke="#2a2a2a" stroke-width="0.76" fill="none"/>
<path d="M1020 538.7 A3.9 7.8 -27 0 0 1027.1 552.6" stroke="#2a2a2a" stroke-width="0.76" fill="none"/>
<path d="M984.5 557.7 L997.9 550.8 A4.4 8.8 -27 0 1 1005.9 566.5 L992.5 573.3 A4.4 8.8 -27 0 1 984.5 557.7 Z" stroke="#262626" stroke-width="1" fill="#fff" stroke-linejoin="round"/>
<path d="M997.9 550.8 A4.4 8.8 -27 0 1 1005.9 566.5" stroke="#111" stroke-width="2" fill="none"/>
<ellipse cx="988.5" cy="565.5" rx="4.4" ry="8.8" transform="rotate(-27 988.5 565.5)" stroke="#262626" stroke-width="1" fill="#fff"/>
<line x1="988.5" y1="565.5" x2="992.5" y2="573.3" stroke="#262626" stroke-width="0.8" />
<line x1="988.5" y1="565.5" x2="983.1" y2="563.3" stroke="#262626" stroke-width="0.8" />
<line x1="988.5" y1="565.5" x2="989.9" y2="559.8" stroke="#262626" stroke-width="0.8" />
<path d="M1038.8 591.7 L1053.9 584 A4.1 8.2 -27 0 1 1061.4 598.6 L1046.2 606.3 A4.1 8.2 -27 0 1 1038.8 591.7 Z" stroke="none" stroke-width="0" fill="#fff" stroke-linejoin="round"/>
<path d="M1040.9 590.6 A4.1 8.2 -27 0 1 1048.4 605.2" stroke="#2a2a2a" stroke-width="0.95" fill="none"/>
<path d="M1043.1 589.5 A4.1 8.2 -27 0 1 1050.6 604.1" stroke="#2a2a2a" stroke-width="0.95" fill="none"/>
<path d="M1045.3 588.4 A4.1 8.2 -27 0 1 1052.7 603" stroke="#2a2a2a" stroke-width="0.95" fill="none"/>
<path d="M1047.4 587.3 A4.1 8.2 -27 0 1 1054.9 601.9" stroke="#2a2a2a" stroke-width="0.95" fill="none"/>
<path d="M1049.6 586.2 A4.1 8.2 -27 0 1 1057 600.8" stroke="#2a2a2a" stroke-width="0.95" fill="none"/>
<path d="M1051.8 585.1 A4.1 8.2 -27 0 1 1059.2 599.7" stroke="#2a2a2a" stroke-width="0.95" fill="none"/>
<path d="M1053.9 584 A4.1 8.2 -27 0 1 1061.4 598.6" stroke="#2a2a2a" stroke-width="0.95" fill="none"/>
<ellipse cx="1042.5" cy="599" rx="4.1" ry="8.2" transform="rotate(-27 1042.5 599)" stroke="#2a2a2a" stroke-width="0.95" fill="none"/>
<path d="M1040.9 590.6 A4.1 8.2 -27 0 0 1048.4 605.2" stroke="#2a2a2a" stroke-width="0.76" fill="none"/>
<path d="M1043.1 589.5 A4.1 8.2 -27 0 0 1050.6 604.1" stroke="#2a2a2a" stroke-width="0.76" fill="none"/>
<path d="M1071 578.2 L1082.6 572.3 A2.1 4.3 -27 0 1 1086.5 579.9 L1075 585.8 A2.1 4.3 -27 0 1 1071 578.2 Z" stroke="none" stroke-width="0" fill="#fff" stroke-linejoin="round"/>
<path d="M1072.5 577.4 A2.1 4.3 -27 0 1 1076.4 585.1" stroke="#2a2a2a" stroke-width="0.95" fill="none"/>
<path d="M1073.9 576.7 A2.1 4.3 -27 0 1 1077.8 584.4" stroke="#2a2a2a" stroke-width="0.95" fill="none"/>
<path d="M1075.4 576 A2.1 4.3 -27 0 1 1079.3 583.6" stroke="#2a2a2a" stroke-width="0.95" fill="none"/>
<path d="M1076.8 575.2 A2.1 4.3 -27 0 1 1080.7 582.9" stroke="#2a2a2a" stroke-width="0.95" fill="none"/>
<path d="M1078.3 574.5 A2.1 4.3 -27 0 1 1082.2 582.1" stroke="#2a2a2a" stroke-width="0.95" fill="none"/>
<path d="M1079.7 573.7 A2.1 4.3 -27 0 1 1083.6 581.4" stroke="#2a2a2a" stroke-width="0.95" fill="none"/>
<path d="M1081.2 573 A2.1 4.3 -27 0 1 1085.1 580.7" stroke="#2a2a2a" stroke-width="0.95" fill="none"/>
<path d="M1082.6 572.3 A2.1 4.3 -27 0 1 1086.5 579.9" stroke="#2a2a2a" stroke-width="0.95" fill="none"/>
<ellipse cx="1073" cy="582" rx="2.1" ry="4.3" transform="rotate(-27 1073 582)" stroke="#2a2a2a" stroke-width="0.95" fill="none"/>
<path d="M1072.5 577.4 A2.1 4.3 -27 0 0 1076.4 585.1" stroke="#2a2a2a" stroke-width="0.76" fill="none"/>
<path d="M1073.9 576.7 A2.1 4.3 -27 0 0 1077.8 584.4" stroke="#2a2a2a" stroke-width="0.76" fill="none"/>
<path d="M1101.9 583.8 L1111.7 578.8 A2.9 5.8 -27 0 1 1116.9 589.2 L1107.1 594.2 A2.9 5.8 -27 0 1 1101.9 583.8 Z" stroke="none" stroke-width="0" fill="#fff" stroke-linejoin="round"/>
<path d="M1103.5 583 A2.9 5.8 -27 0 1 1108.8 593.3" stroke="#2a2a2a" stroke-width="0.95" fill="none"/>
<path d="M1105.1 582.2 A2.9 5.8 -27 0 1 1110.4 592.5" stroke="#2a2a2a" stroke-width="0.95" fill="none"/>
<path d="M1106.8 581.3 A2.9 5.8 -27 0 1 1112 591.7" stroke="#2a2a2a" stroke-width="0.95" fill="none"/>
<path d="M1108.4 580.5 A2.9 5.8 -27 0 1 1113.7 590.8" stroke="#2a2a2a" stroke-width="0.95" fill="none"/>
<path d="M1110 579.7 A2.9 5.8 -27 0 1 1115.3 590" stroke="#2a2a2a" stroke-width="0.95" fill="none"/>
<path d="M1111.7 578.8 A2.9 5.8 -27 0 1 1116.9 589.2" stroke="#2a2a2a" stroke-width="0.95" fill="none"/>
<ellipse cx="1104.5" cy="589" rx="2.9" ry="5.8" transform="rotate(-27 1104.5 589)" stroke="#2a2a2a" stroke-width="0.95" fill="none"/>
<path d="M1103.5 583 A2.9 5.8 -27 0 0 1108.8 593.3" stroke="#2a2a2a" stroke-width="0.76" fill="none"/>
<path d="M1105.1 582.2 A2.9 5.8 -27 0 0 1110.4 592.5" stroke="#2a2a2a" stroke-width="0.76" fill="none"/>
<path d="M1123 574.8 L1131.4 570.5 A1.7 3.4 -27 0 1 1134.5 576.5 L1126 580.8 A1.7 3.4 -27 0 1 1123 574.8 Z" stroke="none" stroke-width="0" fill="#fff" stroke-linejoin="round"/>
<path d="M1124.4 574.1 A1.7 3.4 -27 0 1 1127.5 580.1" stroke="#2a2a2a" stroke-width="0.95" fill="none"/>
<path d="M1125.8 573.3 A1.7 3.4 -27 0 1 1128.9 579.4" stroke="#2a2a2a" stroke-width="0.95" fill="none"/>
<path d="M1127.2 572.6 A1.7 3.4 -27 0 1 1130.3 578.7" stroke="#2a2a2a" stroke-width="0.95" fill="none"/>
<path d="M1128.6 571.9 A1.7 3.4 -27 0 1 1131.7 578" stroke="#2a2a2a" stroke-width="0.95" fill="none"/>
<path d="M1130 571.2 A1.7 3.4 -27 0 1 1133.1 577.2" stroke="#2a2a2a" stroke-width="0.95" fill="none"/>
<path d="M1131.4 570.5 A1.7 3.4 -27 0 1 1134.5 576.5" stroke="#2a2a2a" stroke-width="0.95" fill="none"/>
<ellipse cx="1124.5" cy="577.8" rx="1.7" ry="3.4" transform="rotate(-27 1124.5 577.8)" stroke="#2a2a2a" stroke-width="0.95" fill="none"/>
<path d="M1124.4 574.1 A1.7 3.4 -27 0 0 1127.5 580.1" stroke="#2a2a2a" stroke-width="0.76" fill="none"/>
<path d="M1125.8 573.3 A1.7 3.4 -27 0 0 1128.9 579.4" stroke="#2a2a2a" stroke-width="0.76" fill="none"/>
<path d="M1006.5 609.7 L1019.9 602.8 A4.4 8.8 -27 0 1 1027.9 618.5 L1014.5 625.3 A4.4 8.8 -27 0 1 1006.5 609.7 Z" stroke="#262626" stroke-width="1" fill="#fff" stroke-linejoin="round"/>
<path d="M1019.9 602.8 A4.4 8.8 -27 0 1 1027.9 618.5" stroke="#111" stroke-width="2" fill="none"/>
<ellipse cx="1010.5" cy="617.5" rx="4.4" ry="8.8" transform="rotate(-27 1010.5 617.5)" stroke="#262626" stroke-width="1" fill="#fff"/>
<line x1="1010.5" y1="617.5" x2="1014.5" y2="625.3" stroke="#262626" stroke-width="0.8" />
<line x1="1010.5" y1="617.5" x2="1005.1" y2="615.3" stroke="#262626" stroke-width="0.8" />
<line x1="1010.5" y1="617.5" x2="1011.9" y2="611.8" stroke="#262626" stroke-width="0.8" />
<path d="M1076.4 596.9 L1088 591 A3.4 6.8 -27 0 1 1094.2 603.2 L1082.6 609.1 A3.4 6.8 -27 0 1 1076.4 596.9 Z" stroke="#262626" stroke-width="1" fill="#fff" stroke-linejoin="round"/>
<path d="M1088 591 A3.4 6.8 -27 0 1 1094.2 603.2" stroke="#111" stroke-width="2" fill="none"/>
<ellipse cx="1079.5" cy="603" rx="3.4" ry="6.8" transform="rotate(-27 1079.5 603)" stroke="#262626" stroke-width="1" fill="#fff"/>
<line x1="1079.5" y1="603" x2="1082.6" y2="609.1" stroke="#262626" stroke-width="0.8" />
<line x1="1079.5" y1="603" x2="1075.3" y2="601.3" stroke="#262626" stroke-width="0.8" />
<line x1="1079.5" y1="603" x2="1080.6" y2="598.6" stroke="#262626" stroke-width="0.8" />
<path d="M1080.9 594.7 A3.4 6.8 -27 0 0 1087 606.8" stroke="#262626" stroke-width="0.9" fill="none"/>
<path d="M1082.6 593.8 A3.4 6.8 -27 0 0 1088.8 605.9" stroke="#262626" stroke-width="0.9" fill="none"/>
<path d="M1110 639.9 L1126 631.7 A3.9 7.8 -27 0 1 1133.1 645.6 L1117 653.7 A3.9 7.8 -27 0 1 1110 639.9 Z" stroke="none" stroke-width="0" fill="#fff" stroke-linejoin="round"/>
<path d="M1112.3 638.7 A3.9 7.8 -27 0 1 1119.3 652.6" stroke="#2a2a2a" stroke-width="0.95" fill="none"/>
<path d="M1114.5 637.5 A3.9 7.8 -27 0 1 1121.6 651.4" stroke="#2a2a2a" stroke-width="0.95" fill="none"/>
<path d="M1116.8 636.3 A3.9 7.8 -27 0 1 1123.9 650.2" stroke="#2a2a2a" stroke-width="0.95" fill="none"/>
<path d="M1119.1 635.2 A3.9 7.8 -27 0 1 1126.2 649.1" stroke="#2a2a2a" stroke-width="0.95" fill="none"/>
<path d="M1121.4 634 A3.9 7.8 -27 0 1 1128.5 647.9" stroke="#2a2a2a" stroke-width="0.95" fill="none"/>
<path d="M1123.7 632.8 A3.9 7.8 -27 0 1 1130.8 646.7" stroke="#2a2a2a" stroke-width="0.95" fill="none"/>
<path d="M1126 631.7 A3.9 7.8 -27 0 1 1133.1 645.6" stroke="#2a2a2a" stroke-width="0.95" fill="none"/>
<ellipse cx="1113.5" cy="646.8" rx="3.9" ry="7.8" transform="rotate(-27 1113.5 646.8)" stroke="#2a2a2a" stroke-width="0.95" fill="none"/>
<path d="M1112.3 638.7 A3.9 7.8 -27 0 0 1119.3 652.6" stroke="#2a2a2a" stroke-width="0.76" fill="none"/>
<path d="M1114.5 637.5 A3.9 7.8 -27 0 0 1121.6 651.4" stroke="#2a2a2a" stroke-width="0.76" fill="none"/>
<path d="M1079.5 656.2 L1092.9 649.3 A4.4 8.8 -27 0 1 1100.9 665 L1087.5 671.8 A4.4 8.8 -27 0 1 1079.5 656.2 Z" stroke="#262626" stroke-width="1" fill="#fff" stroke-linejoin="round"/>
<path d="M1092.9 649.3 A4.4 8.8 -27 0 1 1100.9 665" stroke="#111" stroke-width="2" fill="none"/>
<ellipse cx="1083.5" cy="664" rx="4.4" ry="8.8" transform="rotate(-27 1083.5 664)" stroke="#262626" stroke-width="1" fill="#fff"/>
<line x1="1083.5" y1="664" x2="1087.5" y2="671.8" stroke="#262626" stroke-width="0.8" />
<line x1="1083.5" y1="664" x2="1078.1" y2="661.8" stroke="#262626" stroke-width="0.8" />
<line x1="1083.5" y1="664" x2="1084.9" y2="658.3" stroke="#262626" stroke-width="0.8" />
<path d="M1099.3 687.1 L1112.7 693.9 A2 4 27 0 1 1109 701.1 L1095.7 694.3 A2 4 27 0 1 1099.3 687.1 Z" stroke="none" stroke-width="0" fill="#fff" stroke-linejoin="round"/>
<path d="M1099.3 687.1 A2 4 27 0 0 1095.7 694.3" stroke="#2a2a2a" stroke-width="0.95" fill="none"/>
<path d="M1101 688 A2 4 27 0 0 1097.4 695.1" stroke="#2a2a2a" stroke-width="0.95" fill="none"/>
<path d="M1102.7 688.8 A2 4 27 0 0 1099 696" stroke="#2a2a2a" stroke-width="0.95" fill="none"/>
<path d="M1104.3 689.7 A2 4 27 0 0 1100.7 696.8" stroke="#2a2a2a" stroke-width="0.95" fill="none"/>
<path d="M1106 690.5 A2 4 27 0 0 1102.4 697.7" stroke="#2a2a2a" stroke-width="0.95" fill="none"/>
<path d="M1107.7 691.4 A2 4 27 0 0 1104 698.5" stroke="#2a2a2a" stroke-width="0.95" fill="none"/>
<path d="M1109.3 692.2 A2 4 27 0 0 1105.7 699.4" stroke="#2a2a2a" stroke-width="0.95" fill="none"/>
<path d="M1111 693.1 A2 4 27 0 0 1107.4 700.2" stroke="#2a2a2a" stroke-width="0.95" fill="none"/>
<ellipse cx="1110.9" cy="697.5" rx="2" ry="4" transform="rotate(27 1110.9 697.5)" stroke="#2a2a2a" stroke-width="0.95" fill="none"/>
<path d="M1107.7 691.4 A2 4 27 0 1 1104 698.5" stroke="#2a2a2a" stroke-width="0.76" fill="none"/>
<path d="M1109.3 692.2 A2 4 27 0 1 1105.7 699.4" stroke="#2a2a2a" stroke-width="0.76" fill="none"/>
<path d="M1111 693.1 A2 4 27 0 1 1107.4 700.2" stroke="#2a2a2a" stroke-width="0.76" fill="none"/>
<path d="M1123.9 699.3 L1132.8 703.8 A2.6 5.3 27 0 1 1128 713.3 L1119.1 708.7 A2.6 5.3 27 0 1 1123.9 699.3 Z" stroke="#262626" stroke-width="1.1" fill="#fff" stroke-linejoin="round"/>
<ellipse cx="1130.4" cy="708.5" rx="2.6" ry="5.3" transform="rotate(27 1130.4 708.5)" stroke="#262626" stroke-width="1.1" fill="#fff"/>
<path d="M1131.7 706 L1135.2 707.9 A1.4 2.8 27 0 1 1132.7 712.9 L1129.1 711 A1.4 2.8 27 0 1 1131.7 706 Z" stroke="#262626" stroke-width="1.1" fill="#fff" stroke-linejoin="round"/>
<ellipse cx="1134" cy="710.4" rx="1.4" ry="2.8" transform="rotate(27 1134 710.4)" stroke="#262626" stroke-width="1.1" fill="#fff"/>
<path d="M1136.2 705.9 L1141.6 708.6 A2.5 5 27 0 1 1137.1 717.5 L1131.7 714.8 A2.5 5 27 0 1 1136.2 705.9 Z" stroke="#262626" stroke-width="1.1" fill="#fff" stroke-linejoin="round"/>
<ellipse cx="1139.3" cy="713.1" rx="2.5" ry="5" transform="rotate(27 1139.3 713.1)" stroke="#262626" stroke-width="1.1" fill="#fff"/>
<path d="M1140.6 710.6 L1144.2 712.4 A1.4 2.8 27 0 1 1141.6 717.4 L1138 715.6 A1.4 2.8 27 0 1 1140.6 710.6 Z" stroke="#262626" stroke-width="1.1" fill="#fff" stroke-linejoin="round"/>
<ellipse cx="1142.9" cy="714.9" rx="1.4" ry="2.8" transform="rotate(27 1142.9 714.9)" stroke="#262626" stroke-width="1.1" fill="#fff"/>
<path d="M1145.2 710.4 L1150.5 713.2 A2.5 5 27 0 1 1146 722.1 L1140.6 719.4 A2.5 5 27 0 1 1145.2 710.4 Z" stroke="#262626" stroke-width="1.1" fill="#fff" stroke-linejoin="round"/>
<ellipse cx="1148.2" cy="717.6" rx="2.5" ry="5" transform="rotate(27 1148.2 717.6)" stroke="#262626" stroke-width="1.1" fill="#fff"/>
<path d="M1149.5 715.1 L1153.1 716.9 A1.4 2.8 27 0 1 1150.5 721.9 L1147 720.1 A1.4 2.8 27 0 1 1149.5 715.1 Z" stroke="#262626" stroke-width="1.1" fill="#fff" stroke-linejoin="round"/>
<ellipse cx="1151.8" cy="719.4" rx="1.4" ry="2.8" transform="rotate(27 1151.8 719.4)" stroke="#262626" stroke-width="1.1" fill="#fff"/>
<path d="M1154.1 715 L1160.3 718.2 A2.5 5 27 0 1 1155.8 727.1 L1149.5 723.9 A2.5 5 27 0 1 1154.1 715 Z" stroke="#262626" stroke-width="1.1" fill="#fff" stroke-linejoin="round"/>
<ellipse cx="1158" cy="722.6" rx="2.5" ry="5" transform="rotate(27 1158 722.6)" stroke="#262626" stroke-width="1.1" fill="#fff"/>
<ellipse cx="1158" cy="722.6" rx="1.2" ry="2.5" transform="rotate(27 1158 722.6)" stroke="#262626" stroke-width="0.9900000000000001" fill="#fff"/>
<path d="M1175.5 712 L1179 710.5 L1180.5 721 L1177 723.5 Z" stroke="#262626" stroke-width="1" fill="#fff" stroke-linejoin="round" />
<line x1="1177" y1="712.5" x2="1178.5" y2="722.5" stroke="#262626" stroke-width="0.8" />
<path d="M1167.2 723.3 L1174.4 726.9 A3.6 6.5 27 0 1 1168.5 738.5 L1161.3 734.9 A3.6 6.5 27 0 1 1167.2 723.3 Z" stroke="#262626" stroke-width="1.1" fill="#fff" stroke-linejoin="round"/>
<ellipse cx="1164.3" cy="729.1" rx="3.6" ry="6.5" transform="rotate(27 1164.3 729.1)" stroke="#262626" stroke-width="1.1" fill="#fff"/>
<path d="M1168.7 725.5 A2.9 5.2 27 0 0 1164 734.8" stroke="#222" stroke-width="1.2" fill="none"/>
<path d="M1045.6 746.4 L1050.9 749.1 A1.8 3.5 27 0 1 1047.8 755.3 L1042.4 752.6 A1.8 3.5 27 0 1 1045.6 746.4 Z" stroke="#262626" stroke-width="1.1" fill="#fff" stroke-linejoin="round"/>
<ellipse cx="1049.3" cy="752.2" rx="1.8" ry="3.5" transform="rotate(27 1049.3 752.2)" stroke="#262626" stroke-width="1.1" fill="#fff"/>
<path d="M1051.6 747.8 L1058.7 751.4 A2.5 5 27 0 1 1054.2 760.3 L1047.1 756.7 A2.5 5 27 0 1 1051.6 747.8 Z" stroke="#262626" stroke-width="1.1" fill="#fff" stroke-linejoin="round"/>
<ellipse cx="1056.5" cy="755.9" rx="2.5" ry="5" transform="rotate(27 1056.5 755.9)" stroke="#262626" stroke-width="1.1" fill="#fff"/>
<path d="M1057.8 753.2 L1061.4 755 A1.5 3 27 0 1 1058.7 760.3 L1055.1 758.5 A1.5 3 27 0 1 1057.8 753.2 Z" stroke="#262626" stroke-width="1.1" fill="#fff" stroke-linejoin="round"/>
<ellipse cx="1060" cy="757.7" rx="1.5" ry="3" transform="rotate(27 1060 757.7)" stroke="#262626" stroke-width="1.1" fill="#fff"/>
<path d="M1062.4 752.9 L1070.5 757 A2.6 5.3 27 0 1 1065.7 766.5 L1057.6 762.4 A2.6 5.3 27 0 1 1062.4 752.9 Z" stroke="#262626" stroke-width="1.1" fill="#fff" stroke-linejoin="round"/>
<ellipse cx="1068.1" cy="761.8" rx="2.6" ry="5.3" transform="rotate(27 1068.1 761.8)" stroke="#262626" stroke-width="1.1" fill="#fff"/>
<path d="M1069.4 759.1 L1073 760.9 A1.5 3 27 0 1 1070.3 766.2 L1066.7 764.4 A1.5 3 27 0 1 1069.4 759.1 Z" stroke="#262626" stroke-width="1.1" fill="#fff" stroke-linejoin="round"/>
<ellipse cx="1071.6" cy="763.6" rx="1.5" ry="3" transform="rotate(27 1071.6 763.6)" stroke="#262626" stroke-width="1.1" fill="#fff"/>
<path d="M1074.1 758.7 L1084.8 764.1 A2.8 5.5 27 0 1 1079.8 773.9 L1069.1 768.5 A2.8 5.5 27 0 1 1074.1 758.7 Z" stroke="#262626" stroke-width="1.1" fill="#fff" stroke-linejoin="round"/>
<ellipse cx="1082.3" cy="769" rx="2.8" ry="5.5" transform="rotate(27 1082.3 769)" stroke="#262626" stroke-width="1.1" fill="#fff"/>
<ellipse cx="1082.3" cy="769" rx="1.6" ry="3.3" transform="rotate(27 1082.3 769)" stroke="#262626" stroke-width="0.9900000000000001" fill="#fff"/>
<path d="M1092.7 774.4 L1105.2 780.8 A1.9 3.8 27 0 1 1101.7 787.5 L1089.3 781.2 A1.9 3.8 27 0 1 1092.7 774.4 Z" stroke="none" stroke-width="0" fill="#fff" stroke-linejoin="round"/>
<path d="M1092.7 774.4 A1.9 3.8 27 0 0 1089.3 781.2" stroke="#2a2a2a" stroke-width="0.95" fill="none"/>
<path d="M1094.3 775.2 A1.9 3.8 27 0 0 1090.8 782" stroke="#2a2a2a" stroke-width="0.95" fill="none"/>
<path d="M1095.8 776 A1.9 3.8 27 0 0 1092.4 782.8" stroke="#2a2a2a" stroke-width="0.95" fill="none"/>
<path d="M1097.4 776.8 A1.9 3.8 27 0 0 1094 783.6" stroke="#2a2a2a" stroke-width="0.95" fill="none"/>
<path d="M1099 777.6 A1.9 3.8 27 0 0 1095.5 784.4" stroke="#2a2a2a" stroke-width="0.95" fill="none"/>
<path d="M1100.5 778.4 A1.9 3.8 27 0 0 1097.1 785.2" stroke="#2a2a2a" stroke-width="0.95" fill="none"/>
<path d="M1102.1 779.2 A1.9 3.8 27 0 0 1098.6 786" stroke="#2a2a2a" stroke-width="0.95" fill="none"/>
<path d="M1103.6 780 A1.9 3.8 27 0 0 1100.2 786.7" stroke="#2a2a2a" stroke-width="0.95" fill="none"/>
<ellipse cx="1103.5" cy="784.2" rx="1.9" ry="3.8" transform="rotate(27 1103.5 784.2)" stroke="#2a2a2a" stroke-width="0.95" fill="none"/>
<path d="M1100.5 778.4 A1.9 3.8 27 0 1 1097.1 785.2" stroke="#2a2a2a" stroke-width="0.76" fill="none"/>
<path d="M1102.1 779.2 A1.9 3.8 27 0 1 1098.6 786" stroke="#2a2a2a" stroke-width="0.76" fill="none"/>
<path d="M1103.6 780 A1.9 3.8 27 0 1 1100.2 786.7" stroke="#2a2a2a" stroke-width="0.76" fill="none"/>
<path d="M1114.7 783.5 L1121.8 787.1 A3.5 6.3 27 0 1 1116.1 798.3 L1108.9 794.7 A3.5 6.3 27 0 1 1114.7 783.5 Z" stroke="#262626" stroke-width="1.1" fill="#fff" stroke-linejoin="round"/>
<ellipse cx="1111.8" cy="789.1" rx="3.5" ry="6.3" transform="rotate(27 1111.8 789.1)" stroke="#262626" stroke-width="1.1" fill="#fff"/>
<path d="M1116.1 785.6 A2.8 5 27 0 0 1111.6 794.6" stroke="#222" stroke-width="1.2" fill="none"/>
<path d="M998.9 758.2 L1018.5 768.2 A3.1 6.3 27 0 1 1012.7 779.4 L993.1 769.4 A3.1 6.3 27 0 1 998.9 758.2 Z" stroke="none" stroke-width="0" fill="#fff" stroke-linejoin="round"/>
<path d="M998.9 758.2 A3.1 6.3 27 0 0 993.1 769.4" stroke="#2a2a2a" stroke-width="0.95" fill="none"/>
<path d="M1002.1 759.9 A3.1 6.3 27 0 0 996.4 771.1" stroke="#2a2a2a" stroke-width="0.95" fill="none"/>
<path d="M1005.4 761.5 A3.1 6.3 27 0 0 999.7 772.7" stroke="#2a2a2a" stroke-width="0.95" fill="none"/>
<path d="M1008.7 763.2 A3.1 6.3 27 0 0 1002.9 774.4" stroke="#2a2a2a" stroke-width="0.95" fill="none"/>
<path d="M1011.9 764.8 A3.1 6.3 27 0 0 1006.2 776.1" stroke="#2a2a2a" stroke-width="0.95" fill="none"/>
<path d="M1015.2 766.5 A3.1 6.3 27 0 0 1009.5 777.7" stroke="#2a2a2a" stroke-width="0.95" fill="none"/>
<ellipse cx="1015.6" cy="773.8" rx="3.1" ry="6.3" transform="rotate(27 1015.6 773.8)" stroke="#2a2a2a" stroke-width="0.95" fill="none"/>
<path d="M1008.7 763.2 A3.1 6.3 27 0 1 1002.9 774.4" stroke="#2a2a2a" stroke-width="0.76" fill="none"/>
<path d="M1011.9 764.8 A3.1 6.3 27 0 1 1006.2 776.1" stroke="#2a2a2a" stroke-width="0.76" fill="none"/>
<path d="M1015.2 766.5 A3.1 6.3 27 0 1 1009.5 777.7" stroke="#2a2a2a" stroke-width="0.76" fill="none"/>
<path d="M1024.7 778.1 L1033.6 782.6 A0.8 1.6 27 0 1 1032.2 785.5 L1023.3 780.9 A0.8 1.6 27 0 1 1024.7 778.1 Z" stroke="#262626" stroke-width="1.1" fill="#fff" stroke-linejoin="round"/>
<ellipse cx="1032.9" cy="784" rx="0.8" ry="1.6" transform="rotate(27 1032.9 784)" stroke="#262626" stroke-width="1.1" fill="#fff"/>
<path d="M1034.3 781.4 L1038.7 783.6 A1.5 3 27 0 1 1036 789 L1031.5 786.7 A1.5 3 27 0 1 1034.3 781.4 Z" stroke="#262626" stroke-width="1.1" fill="#fff" stroke-linejoin="round"/>
<ellipse cx="1037.4" cy="786.3" rx="1.5" ry="3" transform="rotate(27 1037.4 786.3)" stroke="#262626" stroke-width="1.1" fill="#fff"/>
<path d="M1039.6 781.9 L1047.7 785.9 A2.5 5 27 0 1 1043.1 794.9 L1035.1 790.8 A2.5 5 27 0 1 1039.6 781.9 Z" stroke="#262626" stroke-width="1.1" fill="#fff" stroke-linejoin="round"/>
<ellipse cx="1045.4" cy="790.4" rx="2.5" ry="5" transform="rotate(27 1045.4 790.4)" stroke="#262626" stroke-width="1.1" fill="#fff"/>
<path d="M1046.7 787.7 L1050.3 789.5 A1.5 3 27 0 1 1047.6 794.9 L1044 793.1 A1.5 3 27 0 1 1046.7 787.7 Z" stroke="#262626" stroke-width="1.1" fill="#fff" stroke-linejoin="round"/>
<ellipse cx="1048.9" cy="792.2" rx="1.5" ry="3" transform="rotate(27 1048.9 792.2)" stroke="#262626" stroke-width="1.1" fill="#fff"/>
<path d="M1051.2 787.8 L1060.1 792.3 A2.5 5 27 0 1 1055.6 801.2 L1046.7 796.7 A2.5 5 27 0 1 1051.2 787.8 Z" stroke="#262626" stroke-width="1.1" fill="#fff" stroke-linejoin="round"/>
<ellipse cx="1057.9" cy="796.8" rx="2.5" ry="5" transform="rotate(27 1057.9 796.8)" stroke="#262626" stroke-width="1.1" fill="#fff"/>
<ellipse cx="1057.9" cy="796.8" rx="1.2" ry="2.5" transform="rotate(27 1057.9 796.8)" stroke="#262626" stroke-width="0.9900000000000001" fill="#fff"/>
<path d="M1075 802.7 L1082.1 806.4 A3.3 6 27 0 1 1076.7 817.1 L1069.6 813.4 A3.3 6 27 0 1 1075 802.7 Z" stroke="#262626" stroke-width="1.1" fill="#fff" stroke-linejoin="round"/>
<ellipse cx="1072.3" cy="808.1" rx="3.3" ry="6" transform="rotate(27 1072.3 808.1)" stroke="#262626" stroke-width="1.1" fill="#fff"/>
<path d="M1076.5 804.9 A2.6 4.8 27 0 0 1072.2 813.4" stroke="#222" stroke-width="1.2" fill="none"/>
<path d="M738.5 525.8 L745.6 529.5 A6.3 11.5 27 0 1 735.2 550 L728.1 546.3 A6.3 11.5 27 0 1 738.5 525.8 Z" stroke="#262626" stroke-width="1.1" fill="#fff" stroke-linejoin="round"/>
<ellipse cx="733.3" cy="536.1" rx="6.3" ry="11.5" transform="rotate(27 733.3 536.1)" stroke="#262626" stroke-width="1.1" fill="#fff"/>
<path d="M760.5 541.1 L793.5 557.9 A5 10 27 0 1 784.4 575.7 L751.5 558.9 A5 10 27 0 1 760.5 541.1 Z" stroke="none" stroke-width="0" fill="#fff" stroke-linejoin="round"/>
<path d="M760.5 541.1 A5 10 27 0 0 751.5 558.9" stroke="#333" stroke-width="1" fill="none"/>
<path d="M765.2 543.5 A5 10 27 0 0 756.2 561.3" stroke="#333" stroke-width="1" fill="none"/>
<path d="M770 545.9 A5 10 27 0 0 760.9 563.7" stroke="#333" stroke-width="1" fill="none"/>
<path d="M774.7 548.3 A5 10 27 0 0 765.6 566.1" stroke="#333" stroke-width="1" fill="none"/>
<path d="M779.4 550.7 A5 10 27 0 0 770.3 568.5" stroke="#333" stroke-width="1" fill="none"/>
<path d="M784.1 553.1 A5 10 27 0 0 775 570.9" stroke="#333" stroke-width="1" fill="none"/>
<path d="M788.8 555.5 A5 10 27 0 0 779.7 573.3" stroke="#333" stroke-width="1" fill="none"/>
<ellipse cx="789" cy="566.8" rx="5" ry="10" transform="rotate(27 789 566.8)" stroke="#333" stroke-width="1" fill="none"/>
<path d="M779.4 550.7 A5 10 27 0 1 770.3 568.5" stroke="#333" stroke-width="0.8" fill="none"/>
<path d="M784.1 553.1 A5 10 27 0 1 775 570.9" stroke="#333" stroke-width="0.8" fill="none"/>
<path d="M788.8 555.5 A5 10 27 0 1 779.7 573.3" stroke="#333" stroke-width="0.8" fill="none"/>
<path d="M808.1 566.9 L834.9 580.6 A5.7 11.3 27 0 1 824.6 600.7 L797.9 587.1 A5.7 11.3 27 0 1 808.1 566.9 Z" stroke="#262626" stroke-width="1" fill="#fff" stroke-linejoin="round"/>
<path d="M797.9 587.1 A5.7 11.3 27 0 1 808.1 566.9" stroke="#111" stroke-width="2" fill="none"/>
<ellipse cx="829.7" cy="590.6" rx="5.7" ry="11.3" transform="rotate(27 829.7 590.6)" stroke="#262626" stroke-width="1" fill="#fff"/>
<line x1="829.7" y1="590.6" x2="824.6" y2="600.7" stroke="#262626" stroke-width="0.8" />
<line x1="829.7" y1="590.6" x2="827.9" y2="583.4" stroke="#262626" stroke-width="0.8" />
<line x1="829.7" y1="590.6" x2="836.7" y2="587.8" stroke="#262626" stroke-width="0.8" />
<path d="M819.7 572.8 A5.7 11.3 27 0 1 809.5 593" stroke="#262626" stroke-width="0.8" fill="none"/>
<path d="M811.5 724.4 L822.6 718.7 A1.6 3.3 -27 0 1 825.6 724.6 L814.5 730.2 A1.6 3.3 -27 0 1 811.5 724.4 Z" stroke="none" stroke-width="0" fill="#fff" stroke-linejoin="round"/>
<path d="M813.1 723.5 A1.6 3.3 -27 0 1 816.1 729.4" stroke="#2a2a2a" stroke-width="1.1" fill="none"/>
<path d="M814.7 722.7 A1.6 3.3 -27 0 1 817.7 728.6" stroke="#2a2a2a" stroke-width="1.1" fill="none"/>
<path d="M816.3 721.9 A1.6 3.3 -27 0 1 819.3 727.8" stroke="#2a2a2a" stroke-width="1.1" fill="none"/>
<path d="M817.9 721.1 A1.6 3.3 -27 0 1 820.9 727" stroke="#2a2a2a" stroke-width="1.1" fill="none"/>
<path d="M819.5 720.3 A1.6 3.3 -27 0 1 822.5 726.2" stroke="#2a2a2a" stroke-width="1.1" fill="none"/>
<path d="M821 719.5 A1.6 3.3 -27 0 1 824 725.4" stroke="#2a2a2a" stroke-width="1.1" fill="none"/>
<path d="M822.6 718.7 A1.6 3.3 -27 0 1 825.6 724.6" stroke="#2a2a2a" stroke-width="1.1" fill="none"/>
<ellipse cx="813" cy="727.3" rx="1.6" ry="3.3" transform="rotate(-27 813 727.3)" stroke="#2a2a2a" stroke-width="1.1" fill="none"/>
<path d="M813.1 723.5 A1.6 3.3 -27 0 0 816.1 729.4" stroke="#2a2a2a" stroke-width="0.8800000000000001" fill="none"/>
<path d="M814.7 722.7 A1.6 3.3 -27 0 0 817.7 728.6" stroke="#2a2a2a" stroke-width="0.8800000000000001" fill="none"/>
<ellipse cx="806" cy="733" rx="2.8" ry="2.8" transform="rotate(0 806 733)" stroke="#262626" stroke-width="0.9" fill="#fff"/>
<path d="M826.2 772.3 L834.2 768.2 A1.4 2.8 -27 0 1 836.8 773.2 L828.8 777.3 A1.4 2.8 -27 0 1 826.2 772.3 Z" stroke="none" stroke-width="0" fill="#fff" stroke-linejoin="round"/>
<path d="M827.6 771.6 A1.4 2.8 -27 0 1 830.1 776.6" stroke="#2a2a2a" stroke-width="1.1" fill="none"/>
<path d="M828.9 770.9 A1.4 2.8 -27 0 1 831.4 775.9" stroke="#2a2a2a" stroke-width="1.1" fill="none"/>
<path d="M830.2 770.3 A1.4 2.8 -27 0 1 832.8 775.3" stroke="#2a2a2a" stroke-width="1.1" fill="none"/>
<path d="M831.6 769.6 A1.4 2.8 -27 0 1 834.1 774.6" stroke="#2a2a2a" stroke-width="1.1" fill="none"/>
<path d="M832.9 768.9 A1.4 2.8 -27 0 1 835.5 773.9" stroke="#2a2a2a" stroke-width="1.1" fill="none"/>
<path d="M834.2 768.2 A1.4 2.8 -27 0 1 836.8 773.2" stroke="#2a2a2a" stroke-width="1.1" fill="none"/>
<ellipse cx="827.5" cy="774.8" rx="1.4" ry="2.8" transform="rotate(-27 827.5 774.8)" stroke="#2a2a2a" stroke-width="1.1" fill="none"/>
<path d="M827.6 771.6 A1.4 2.8 -27 0 0 830.1 776.6" stroke="#2a2a2a" stroke-width="0.8800000000000001" fill="none"/>
<path d="M828.9 770.9 A1.4 2.8 -27 0 0 831.4 775.9" stroke="#2a2a2a" stroke-width="0.8800000000000001" fill="none"/>
<line x1="810.5" y1="785.5" x2="816" y2="782.5" stroke="#262626" stroke-width="6.9" stroke-linecap="round"/>
<line x1="810.5" y1="785.5" x2="816" y2="782.5" stroke="#fff" stroke-width="5.1" stroke-linecap="round"/>
<path d="M843.7 797.5 L850.9 793.9 A2.5 5 -27 0 1 855.4 802.8 L848.3 806.5 A2.5 5 -27 0 1 843.7 797.5 Z" stroke="#262626" stroke-width="1" fill="#fff" stroke-linejoin="round"/>
<ellipse cx="846" cy="802" rx="2.5" ry="5" transform="rotate(-27 846 802)" stroke="#262626" stroke-width="1" fill="#fff"/>
<path d="M867.3 785.4 L875.3 781.3 A1.6 3.3 -27 0 1 878.3 787.2 L870.3 791.2 A1.6 3.3 -27 0 1 867.3 785.4 Z" stroke="none" stroke-width="0" fill="#fff" stroke-linejoin="round"/>
<path d="M868.6 784.7 A1.6 3.3 -27 0 1 871.6 790.6" stroke="#2a2a2a" stroke-width="1.1" fill="none"/>
<path d="M870 784 A1.6 3.3 -27 0 1 873 789.9" stroke="#2a2a2a" stroke-width="1.1" fill="none"/>
<path d="M871.3 783.3 A1.6 3.3 -27 0 1 874.3 789.2" stroke="#2a2a2a" stroke-width="1.1" fill="none"/>
<path d="M872.6 782.6 A1.6 3.3 -27 0 1 875.6 788.5" stroke="#2a2a2a" stroke-width="1.1" fill="none"/>
<path d="M874 782 A1.6 3.3 -27 0 1 877 787.8" stroke="#2a2a2a" stroke-width="1.1" fill="none"/>
<path d="M875.3 781.3 A1.6 3.3 -27 0 1 878.3 787.2" stroke="#2a2a2a" stroke-width="1.1" fill="none"/>
<ellipse cx="868.8" cy="788.3" rx="1.6" ry="3.3" transform="rotate(-27 868.8 788.3)" stroke="#2a2a2a" stroke-width="1.1" fill="none"/>
<path d="M868.6 784.7 A1.6 3.3 -27 0 0 871.6 790.6" stroke="#2a2a2a" stroke-width="0.8800000000000001" fill="none"/>
<path d="M870 784 A1.6 3.3 -27 0 0 873 789.9" stroke="#2a2a2a" stroke-width="0.8800000000000001" fill="none"/>
<path d="M881.5 530.6 L847.8 549.3 L849.6 552.6 L883.3 534 Z" stroke="#262626" stroke-width="0.9" fill="#fff" stroke-linejoin="round" />
<line x1="861.3" y1="543.5" x2="849.6" y2="550.1" stroke="#222" stroke-width="1.6" />
<ellipse cx="880.1" cy="533.6" rx="2.9" ry="5.6" transform="rotate(151 880.1 533.6)" stroke="#262626" stroke-width="0.9" fill="#fff"/>
<path d="M878.6 531.7 L879.4 528.5 L882.5 529.5 L884.8 533.7 L884 536.9 L880.9 535.9 Z" stroke="#262626" stroke-width="0.9" fill="#fff" stroke-linejoin="round" />
<line x1="878.6" y1="531.7" x2="881.8" y2="529.9" stroke="#262626" stroke-width="0.81" />
<line x1="879.4" y1="528.5" x2="882.6" y2="526.7" stroke="#262626" stroke-width="0.81" />
<line x1="882.5" y1="529.5" x2="885.7" y2="527.7" stroke="#262626" stroke-width="0.81" />
<line x1="884.8" y1="533.7" x2="888" y2="531.9" stroke="#262626" stroke-width="0.81" />
<line x1="884" y1="536.9" x2="887.2" y2="535.1" stroke="#262626" stroke-width="0.81" />
<line x1="880.9" y1="535.9" x2="884.1" y2="534.1" stroke="#262626" stroke-width="0.81" />
<path d="M881.8 529.9 L882.6 526.7 L885.7 527.7 L888 531.9 L887.2 535.1 L884.1 534.1 Z" stroke="#262626" stroke-width="0.9" fill="#fff" stroke-linejoin="round" />
<ellipse cx="884.9" cy="530.9" rx="1.4" ry="2.6" transform="rotate(151 884.9 530.9)" stroke="#262626" stroke-width="0.7200000000000001" fill="#fff"/>
<path d="M935.5 523.1 L898.9 542.6 L900.6 546 L937.3 526.5 Z" stroke="#262626" stroke-width="0.9" fill="#fff" stroke-linejoin="round" />
<line x1="913.5" y1="536.5" x2="900.7" y2="543.4" stroke="#222" stroke-width="1.6" />
<ellipse cx="934.1" cy="526" rx="2.9" ry="5.6" transform="rotate(152 934.1 526)" stroke="#262626" stroke-width="0.9" fill="#fff"/>
<path d="M932.6 524.1 L933.5 520.9 L936.6 522 L938.8 526.2 L938 529.4 L934.8 528.3 Z" stroke="#262626" stroke-width="0.9" fill="#fff" stroke-linejoin="round" />
<line x1="932.6" y1="524.1" x2="935.8" y2="522.4" stroke="#262626" stroke-width="0.81" />
<line x1="933.5" y1="520.9" x2="936.7" y2="519.2" stroke="#262626" stroke-width="0.81" />
<line x1="936.6" y1="522" x2="939.8" y2="520.3" stroke="#262626" stroke-width="0.81" />
<line x1="938.8" y1="526.2" x2="942" y2="524.5" stroke="#262626" stroke-width="0.81" />
<line x1="938" y1="529.4" x2="941.2" y2="527.7" stroke="#262626" stroke-width="0.81" />
<line x1="934.8" y1="528.3" x2="938.1" y2="526.6" stroke="#262626" stroke-width="0.81" />
<path d="M935.8 522.4 L936.7 519.2 L939.8 520.3 L942 524.5 L941.2 527.7 L938.1 526.6 Z" stroke="#262626" stroke-width="0.9" fill="#fff" stroke-linejoin="round" />
<ellipse cx="938.9" cy="523.5" rx="1.4" ry="2.6" transform="rotate(152 938.9 523.5)" stroke="#262626" stroke-width="0.7200000000000001" fill="#fff"/>
<path d="M1192.7 544.3 L1179.1 550.6 L1180.7 554.1 L1194.3 547.7 Z" stroke="#262626" stroke-width="0.9" fill="#fff" stroke-linejoin="round" />
<line x1="1185.9" y1="547.4" x2="1186.1" y2="551.5" stroke="#262626" stroke-width="0.7" />
<line x1="1183.9" y1="548.4" x2="1184.1" y2="552.5" stroke="#262626" stroke-width="0.7" />
<line x1="1181.8" y1="549.3" x2="1182.1" y2="553.4" stroke="#262626" stroke-width="0.7" />
<ellipse cx="1191.6" cy="546.9" rx="2.3" ry="4.5" transform="rotate(155 1191.6 546.9)" stroke="#262626" stroke-width="0.9" fill="#fff"/>
<path d="M1190.5 545.3 L1191.3 542.8 L1193.8 543.7 L1195.4 547.2 L1194.6 549.8 L1192.1 548.8 Z" stroke="#262626" stroke-width="0.9" fill="#fff" stroke-linejoin="round" />
<line x1="1190.5" y1="545.3" x2="1193.1" y2="544" stroke="#262626" stroke-width="0.81" />
<line x1="1191.3" y1="542.8" x2="1194" y2="541.5" stroke="#262626" stroke-width="0.81" />
<line x1="1193.8" y1="543.7" x2="1196.4" y2="542.5" stroke="#262626" stroke-width="0.81" />
<line x1="1195.4" y1="547.2" x2="1198.1" y2="546" stroke="#262626" stroke-width="0.81" />
<line x1="1194.6" y1="549.8" x2="1197.2" y2="548.5" stroke="#262626" stroke-width="0.81" />
<line x1="1192.1" y1="548.8" x2="1194.8" y2="547.5" stroke="#262626" stroke-width="0.81" />
<path d="M1193.1 544 L1194 541.5 L1196.4 542.5 L1198.1 546 L1197.2 548.5 L1194.8 547.5 Z" stroke="#262626" stroke-width="0.9" fill="#fff" stroke-linejoin="round" />
<ellipse cx="1195.6" cy="545" rx="1.1" ry="2.1" transform="rotate(155 1195.6 545)" stroke="#262626" stroke-width="0.7200000000000001" fill="#fff"/>
<path d="M843.4 121.9 L854.1 116.4 L852.3 113.1 L841.6 118.5 Z" stroke="#262626" stroke-width="0.9" fill="#fff" stroke-linejoin="round" />
<line x1="848.7" y1="119.2" x2="848.1" y2="115.2" stroke="#262626" stroke-width="0.7" />
<line x1="850.3" y1="118.4" x2="849.7" y2="114.4" stroke="#262626" stroke-width="0.7" />
<line x1="851.9" y1="117.5" x2="851.3" y2="113.6" stroke="#262626" stroke-width="0.7" />
<ellipse cx="844.4" cy="119.2" rx="2.3" ry="4.5" transform="rotate(-27 844.4 119.2)" stroke="#262626" stroke-width="0.9" fill="#fff"/>
<path d="M845.6 120.8 L844.8 123.4 L842.3 122.5 L840.6 119 L841.3 116.5 L843.8 117.4 Z" stroke="#262626" stroke-width="0.9" fill="#fff" stroke-linejoin="round" />
<line x1="845.6" y1="120.8" x2="842.9" y2="122.1" stroke="#262626" stroke-width="0.81" />
<line x1="844.8" y1="123.4" x2="842.2" y2="124.7" stroke="#262626" stroke-width="0.81" />
<line x1="842.3" y1="122.5" x2="839.7" y2="123.8" stroke="#262626" stroke-width="0.81" />
<line x1="840.6" y1="119" x2="837.9" y2="120.4" stroke="#262626" stroke-width="0.81" />
<line x1="841.3" y1="116.5" x2="838.7" y2="117.8" stroke="#262626" stroke-width="0.81" />
<line x1="843.8" y1="117.4" x2="841.2" y2="118.7" stroke="#262626" stroke-width="0.81" />
<path d="M842.9 122.1 L842.2 124.7 L839.7 123.8 L837.9 120.4 L838.7 117.8 L841.2 118.7 Z" stroke="#262626" stroke-width="0.9" fill="#fff" stroke-linejoin="round" />
<ellipse cx="840.4" cy="121.2" rx="1.1" ry="2.1" transform="rotate(-27 840.4 121.2)" stroke="#262626" stroke-width="0.7200000000000001" fill="#fff"/>
<path d="M1156.6 561.4 L1159.3 558 L1162.7 557.6 L1167.2 561.4 L1171.7 573.8 L1177.3 581.6 L1184.1 580.1 L1188.6 582.8 L1197.6 581.6 L1203.2 585 L1206.1 592.9 L1204.3 601.9 L1177.3 601.9 L1172.8 597.4 L1157.1 571.5 Z" stroke="#262626" stroke-width="1" fill="#fff" stroke-linejoin="round" />
<ellipse cx="1161.6" cy="564.3" rx="2" ry="2.6" transform="rotate(0 1161.6 564.3)" stroke="#262626" stroke-width="0.8" fill="#fff"/>
<ellipse cx="1163.8" cy="577.1" rx="1.4" ry="3" transform="rotate(-25 1163.8 577.1)" stroke="#262626" stroke-width="0.8" fill="#fff"/>
<ellipse cx="1176.9" cy="586.1" rx="3" ry="1.6" transform="rotate(30 1176.9 586.1)" stroke="#262626" stroke-width="0.8" fill="#fff"/>
<ellipse cx="1187.5" cy="587.9" rx="3" ry="1.6" transform="rotate(25 1187.5 587.9)" stroke="#262626" stroke-width="0.8" fill="#fff"/>
<ellipse cx="1198.3" cy="589.1" rx="2" ry="2.6" transform="rotate(0 1198.3 589.1)" stroke="#262626" stroke-width="0.8" fill="#fff"/>
<ellipse cx="1177.3" cy="595.1" rx="1.6" ry="2.4" transform="rotate(0 1177.3 595.1)" stroke="#262626" stroke-width="0.8" fill="#fff"/>
<ellipse cx="1185.2" cy="597.4" rx="2.6" ry="1.4" transform="rotate(20 1185.2 597.4)" stroke="#262626" stroke-width="0.8" fill="#fff"/>
<ellipse cx="1196" cy="597.4" rx="3" ry="1.5" transform="rotate(0 1196 597.4)" stroke="#262626" stroke-width="0.8" fill="#fff"/>
<line x1="903.5" y1="274" x2="903.5" y2="294" stroke="#444" stroke-width="1" />
<line x1="932.5" y1="296" x2="932.5" y2="311" stroke="#444" stroke-width="1" />
<line x1="987" y1="303" x2="987" y2="320" stroke="#444" stroke-width="1" />
<line x1="1027" y1="322" x2="1027" y2="345" stroke="#444" stroke-width="1" />
<line x1="1059" y1="335.5" x2="1077" y2="335.5" stroke="#444" stroke-width="1" />
<line x1="878.4" y1="379.6" x2="878.4" y2="395" stroke="#444" stroke-width="1" />
<line x1="909" y1="364" x2="909" y2="386" stroke="#444" stroke-width="1" />
<line x1="932.4" y1="399.3" x2="956" y2="399.3" stroke="#444" stroke-width="1" />
<line x1="845.2" y1="416.3" x2="845.2" y2="436.6" stroke="#444" stroke-width="1" />
<line x1="877.4" y1="431.7" x2="877.4" y2="454" stroke="#444" stroke-width="1" />
<line x1="905" y1="443.5" x2="924.5" y2="443.5" stroke="#444" stroke-width="1" />
<line x1="782.5" y1="446.2" x2="782.5" y2="465.9" stroke="#444" stroke-width="1" />
<line x1="817.8" y1="460.7" x2="817.8" y2="481.9" stroke="#444" stroke-width="1" />
<line x1="858.1" y1="480.2" x2="877.4" y2="480.2" stroke="#444" stroke-width="1" />
<line x1="711.2" y1="466.2" x2="711.2" y2="487.6" stroke="#444" stroke-width="1" />
<line x1="683" y1="478.5" x2="683" y2="499.9" stroke="#444" stroke-width="1" />
<line x1="740.4" y1="504.6" x2="759.5" y2="504.6" stroke="#444" stroke-width="1" />
<line x1="981.5" y1="478.5" x2="981.5" y2="497.6" stroke="#444" stroke-width="1" />
<line x1="1012.6" y1="462.8" x2="1012.6" y2="481.9" stroke="#444" stroke-width="1" />
<line x1="1043.4" y1="448" x2="1043.4" y2="468.4" stroke="#444" stroke-width="1" />
<line x1="1025" y1="517.9" x2="1025" y2="538.2" stroke="#444" stroke-width="1" />
<line x1="994.3" y1="534.8" x2="994.3" y2="552.8" stroke="#444" stroke-width="1" />
<line x1="1161.1" y1="538.2" x2="1161.1" y2="556.8" stroke="#444" stroke-width="1" />
<line x1="1189.3" y1="522.5" x2="1189.3" y2="542.7" stroke="#444" stroke-width="1" />
<line x1="1047.5" y1="569.3" x2="1047.5" y2="588.4" stroke="#444" stroke-width="1" />
<line x1="1078.7" y1="549" x2="1078.7" y2="573.3" stroke="#444" stroke-width="1" />
<line x1="1107.6" y1="562.5" x2="1107.6" y2="580.5" stroke="#444" stroke-width="1" />
<line x1="1128.9" y1="579.4" x2="1128.9" y2="597" stroke="#444" stroke-width="1" />
<line x1="1014.6" y1="586.1" x2="1014.6" y2="605.3" stroke="#444" stroke-width="1" />
<line x1="1087.7" y1="605.3" x2="1087.7" y2="623.7" stroke="#444" stroke-width="1" />
<line x1="1133.4" y1="640.2" x2="1153.7" y2="640.2" stroke="#444" stroke-width="1" />
<line x1="1101.2" y1="660.9" x2="1122" y2="660.9" stroke="#444" stroke-width="1" />
<line x1="1103.7" y1="698.1" x2="1103.7" y2="708.5" stroke="#444" stroke-width="1" />
<line x1="1138.6" y1="686" x2="1138.6" y2="707.1" stroke="#444" stroke-width="1" />
<line x1="1178.4" y1="694.8" x2="1178.4" y2="711.6" stroke="#444" stroke-width="1" />
<line x1="1165.6" y1="734.1" x2="1165.6" y2="754.4" stroke="#444" stroke-width="1" />
<line x1="1067" y1="737.5" x2="1067" y2="757.8" stroke="#444" stroke-width="1" />
<line x1="1096.7" y1="756.7" x2="1096.7" y2="775.8" stroke="#444" stroke-width="1" />
<line x1="1122.2" y1="792.7" x2="1141.8" y2="792.7" stroke="#444" stroke-width="1" />
<line x1="1003.6" y1="772.4" x2="1003.6" y2="792.7" stroke="#444" stroke-width="1" />
<line x1="1042.3" y1="797.2" x2="1042.3" y2="812.2" stroke="#444" stroke-width="1" />
<line x1="1083.2" y1="811.8" x2="1103" y2="811.8" stroke="#444" stroke-width="1" />
<line x1="737.8" y1="548" x2="737.8" y2="568.8" stroke="#444" stroke-width="1" />
<line x1="768.6" y1="566.5" x2="768.6" y2="589" stroke="#444" stroke-width="1" />
<line x1="810.3" y1="592.4" x2="810.3" y2="612.7" stroke="#444" stroke-width="1" />
<line x1="868.4" y1="517" x2="868.4" y2="536.1" stroke="#444" stroke-width="1" />
<line x1="921.7" y1="510.3" x2="921.7" y2="528.3" stroke="#444" stroke-width="1" />
<line x1="818.8" y1="701.6" x2="818.8" y2="721" stroke="#444" stroke-width="1" />
<line x1="782" y1="733" x2="803" y2="733" stroke="#444" stroke-width="1" />
<line x1="832" y1="750" x2="832" y2="770" stroke="#444" stroke-width="1" />
<line x1="786" y1="785" x2="807" y2="785" stroke="#444" stroke-width="1" />
<line x1="824.5" y1="802" x2="840" y2="802" stroke="#444" stroke-width="1" />
<line x1="874" y1="793" x2="874" y2="811" stroke="#444" stroke-width="1" />
<line x1="845.6" y1="96.8" x2="845.6" y2="116" stroke="#444" stroke-width="1" />
<line x1="927" y1="65" x2="927" y2="84" stroke="#444" stroke-width="1" />
<path d="M478.9 82 L495.8 90.6 A2.6 5.3 27 0 1 491 100 L474.1 91.4 A2.6 5.3 27 0 1 478.9 82 Z" stroke="#262626" stroke-width="1.1" fill="#fff" stroke-linejoin="round"/>
<ellipse cx="493.4" cy="95.3" rx="2.6" ry="5.3" transform="rotate(27 493.4 95.3)" stroke="#262626" stroke-width="1.1" fill="#fff"/>
<ellipse cx="493.4" cy="95.3" rx="1.3" ry="2.6" transform="rotate(27 493.4 95.3)" stroke="#262626" stroke-width="0.9900000000000001" fill="#fff"/>
<path d="M483.4 84.2 A2.6 5.3 27 0 0 478.5 93.7" stroke="#262626" stroke-width="0.9" fill="none"/>
<path d="M485.6 85.4 A2.6 5.3 27 0 0 480.8 94.8" stroke="#262626" stroke-width="0.9" fill="none"/>
<path d="M487.8 86.5 A2.6 5.3 27 0 0 483 96" stroke="#262626" stroke-width="0.9" fill="none"/>
<path d="M508.1 101.4 L515.7 105.2 A1.2 2.4 27 0 1 513.5 109.5 L505.9 105.6 A1.2 2.4 27 0 1 508.1 101.4 Z" stroke="#262626" stroke-width="1.1" fill="#fff" stroke-linejoin="round"/>
<ellipse cx="514.6" cy="107.4" rx="1.2" ry="2.4" transform="rotate(27 514.6 107.4)" stroke="#262626" stroke-width="1.1" fill="#fff"/>
<path d="M530.9 111.6 L542 117.3 A2.6 5.3 27 0 1 537.2 126.7 L526.1 121 A2.6 5.3 27 0 1 530.9 111.6 Z" stroke="none" stroke-width="0" fill="#fff" stroke-linejoin="round"/>
<path d="M530.9 111.6 A2.6 5.3 27 0 0 526.1 121" stroke="#2a2a2a" stroke-width="0.95" fill="none"/>
<path d="M533.1 112.7 A2.6 5.3 27 0 0 528.3 122.2" stroke="#2a2a2a" stroke-width="0.95" fill="none"/>
<path d="M535.4 113.8 A2.6 5.3 27 0 0 530.5 123.3" stroke="#2a2a2a" stroke-width="0.95" fill="none"/>
<path d="M537.6 115 A2.6 5.3 27 0 0 532.8 124.4" stroke="#2a2a2a" stroke-width="0.95" fill="none"/>
<path d="M539.8 116.1 A2.6 5.3 27 0 0 535 125.6" stroke="#2a2a2a" stroke-width="0.95" fill="none"/>
<ellipse cx="539.6" cy="122" rx="2.6" ry="5.3" transform="rotate(27 539.6 122)" stroke="#2a2a2a" stroke-width="0.95" fill="none"/>
<path d="M535.4 113.8 A2.6 5.3 27 0 1 530.5 123.3" stroke="#2a2a2a" stroke-width="0.76" fill="none"/>
<path d="M537.6 115 A2.6 5.3 27 0 1 532.8 124.4" stroke="#2a2a2a" stroke-width="0.76" fill="none"/>
<path d="M539.8 116.1 A2.6 5.3 27 0 1 535 125.6" stroke="#2a2a2a" stroke-width="0.76" fill="none"/>
<path d="M546.2 121.4 L549.8 123.2 A0.8 1.6 27 0 1 548.3 126 L544.8 124.2 A0.8 1.6 27 0 1 546.2 121.4 Z" stroke="#262626" stroke-width="1.1" fill="#fff" stroke-linejoin="round"/>
<ellipse cx="549.1" cy="124.6" rx="0.8" ry="1.6" transform="rotate(27 549.1 124.6)" stroke="#262626" stroke-width="1.1" fill="#fff"/>
<path d="M550.8 121.2 L557 124.4 A1.9 3.8 27 0 1 553.6 131.2 L547.3 128 A1.9 3.8 27 0 1 550.8 121.2 Z" stroke="#262626" stroke-width="1.1" fill="#fff" stroke-linejoin="round"/>
<ellipse cx="555.3" cy="127.8" rx="1.9" ry="3.8" transform="rotate(27 555.3 127.8)" stroke="#262626" stroke-width="1.1" fill="#fff"/>
<path d="M556.4 125.6 L559.1 126.9 A1.2 2.5 27 0 1 556.8 131.4 L554.2 130 A1.2 2.5 27 0 1 556.4 125.6 Z" stroke="#262626" stroke-width="1.1" fill="#fff" stroke-linejoin="round"/>
<ellipse cx="558" cy="129.2" rx="1.2" ry="2.5" transform="rotate(27 558 129.2)" stroke="#262626" stroke-width="1.1" fill="#fff"/>
<path d="M560.2 124.9 L566.4 128.1 A2.4 4.8 27 0 1 562 136.6 L555.8 133.4 A2.4 4.8 27 0 1 560.2 124.9 Z" stroke="#262626" stroke-width="1.1" fill="#fff" stroke-linejoin="round"/>
<ellipse cx="564.2" cy="132.3" rx="2.4" ry="4.8" transform="rotate(27 564.2 132.3)" stroke="#262626" stroke-width="1.1" fill="#fff"/>
<path d="M565.6 129.7 L567.4 130.6 A1.5 3 27 0 1 564.6 135.9 L562.8 135 A1.5 3 27 0 1 565.6 129.7 Z" stroke="#262626" stroke-width="1.1" fill="#fff" stroke-linejoin="round"/>
<ellipse cx="566" cy="133.2" rx="1.5" ry="3" transform="rotate(27 566 133.2)" stroke="#262626" stroke-width="1.1" fill="#fff"/>
<path d="M568.2 129 L576.2 133.1 A2.4 4.8 27 0 1 571.8 141.6 L563.8 137.5 A2.4 4.8 27 0 1 568.2 129 Z" stroke="#262626" stroke-width="1.1" fill="#fff" stroke-linejoin="round"/>
<ellipse cx="574" cy="137.3" rx="2.4" ry="4.8" transform="rotate(27 574 137.3)" stroke="#262626" stroke-width="1.1" fill="#fff"/>
<path d="M596 98.5 L600 98.5 L600 118 L599 119 L599 127 L596.8 127 L596.8 119 L596 118 Z" stroke="#262626" stroke-width="0.9" fill="#fff" stroke-linejoin="round" />
<path d="M594 134 L606.5 140.3 L602.9 147.5 L590.4 141.1 Z" stroke="#262626" stroke-width="1" fill="#fff" stroke-linejoin="round" />
<path d="M590.4 141.1 L602.9 147.5 L602 149.3 L589.5 142.9 Z" stroke="#262626" stroke-width="0.8" fill="#fff" stroke-linejoin="round" />
<ellipse cx="596.7" cy="139.8" rx="1.6" ry="1.6" transform="rotate(0 596.7 139.8)" stroke="#262626" stroke-width="0.8" fill="#fff"/>
<path d="M605.8 141.7 L609.4 143.5 A1.5 3 27 0 1 606.7 148.8 L603.1 147 A1.5 3 27 0 1 605.8 141.7 Z" stroke="#262626" stroke-width="1.1" fill="#fff" stroke-linejoin="round"/>
<ellipse cx="608" cy="146.2" rx="1.5" ry="3" transform="rotate(27 608 146.2)" stroke="#262626" stroke-width="1.1" fill="#fff"/>
<path d="M610.8 140.8 L619.7 145.4 A3 6 27 0 1 614.2 156.1 L605.3 151.5 A3 6 27 0 1 610.8 140.8 Z" stroke="#262626" stroke-width="1.1" fill="#fff" stroke-linejoin="round"/>
<ellipse cx="616.9" cy="150.7" rx="3" ry="6" transform="rotate(27 616.9 150.7)" stroke="#262626" stroke-width="1.1" fill="#fff"/>
<path d="M618.1 148.5 L625.2 152.1 A1.2 2.5 27 0 1 622.9 156.6 L615.8 152.9 A1.2 2.5 27 0 1 618.1 148.5 Z" stroke="#262626" stroke-width="1.1" fill="#fff" stroke-linejoin="round"/>
<ellipse cx="624.1" cy="154.3" rx="1.2" ry="2.5" transform="rotate(27 624.1 154.3)" stroke="#262626" stroke-width="1.1" fill="#fff"/>
<path d="M626.8 149 L631.3 151.3 A3 6 27 0 1 625.8 162 L621.4 159.7 A3 6 27 0 1 626.8 149 Z" stroke="#262626" stroke-width="1.1" fill="#fff" stroke-linejoin="round"/>
<ellipse cx="628.5" cy="156.6" rx="3" ry="6" transform="rotate(27 628.5 156.6)" stroke="#262626" stroke-width="1.1" fill="#fff"/>
<path d="M629.7 154.4 L636.8 158 A1.2 2.5 27 0 1 634.5 162.5 L627.4 158.8 A1.2 2.5 27 0 1 629.7 154.4 Z" stroke="#262626" stroke-width="1.1" fill="#fff" stroke-linejoin="round"/>
<ellipse cx="635.7" cy="160.2" rx="1.2" ry="2.5" transform="rotate(27 635.7 160.2)" stroke="#262626" stroke-width="1.1" fill="#fff"/>
<path d="M638.4 154.9 L642.8 157.2 A3 6 27 0 1 637.4 167.9 L632.9 165.6 A3 6 27 0 1 638.4 154.9 Z" stroke="#262626" stroke-width="1.1" fill="#fff" stroke-linejoin="round"/>
<ellipse cx="640.1" cy="162.5" rx="3" ry="6" transform="rotate(27 640.1 162.5)" stroke="#262626" stroke-width="1.1" fill="#fff"/>
<path d="M641.2 160.3 L649.3 164.4 A1.2 2.5 27 0 1 647 168.8 L639 164.7 A1.2 2.5 27 0 1 641.2 160.3 Z" stroke="#262626" stroke-width="1.1" fill="#fff" stroke-linejoin="round"/>
<ellipse cx="648.1" cy="166.6" rx="1.2" ry="2.5" transform="rotate(27 648.1 166.6)" stroke="#262626" stroke-width="1.1" fill="#fff"/>
<path d="M650.9 161.3 L655.3 163.5 A3 6 27 0 1 649.9 174.2 L645.4 171.9 A3 6 27 0 1 650.9 161.3 Z" stroke="#262626" stroke-width="1.1" fill="#fff" stroke-linejoin="round"/>
<ellipse cx="652.6" cy="168.9" rx="3" ry="6" transform="rotate(27 652.6 168.9)" stroke="#262626" stroke-width="1.1" fill="#fff"/>
<ellipse cx="652.6" cy="168.9" rx="1.2" ry="2.4" transform="rotate(27 652.6 168.9)" stroke="#262626" stroke-width="0.9900000000000001" fill="#fff"/>
<path d="M502.7 177.7 L509.8 181.3 A3.5 6.3 27 0 1 504.1 192.5 L496.9 188.9 A3.5 6.3 27 0 1 502.7 177.7 Z" stroke="#262626" stroke-width="1.1" fill="#fff" stroke-linejoin="round"/>
<ellipse cx="499.8" cy="183.3" rx="3.5" ry="6.3" transform="rotate(27 499.8 183.3)" stroke="#262626" stroke-width="1.1" fill="#fff"/>
<path d="M504.1 179.8 A2.8 5 27 0 0 499.6 188.8" stroke="#222" stroke-width="1.2" fill="none"/>
<path d="M525.2 190.6 L538.6 197.4 A1.9 3.8 27 0 1 535.1 204.2 L521.8 197.4 A1.9 3.8 27 0 1 525.2 190.6 Z" stroke="none" stroke-width="0" fill="#fff" stroke-linejoin="round"/>
<path d="M525.2 190.6 A1.9 3.8 27 0 0 521.8 197.4" stroke="#2a2a2a" stroke-width="0.95" fill="none"/>
<path d="M526.9 191.5 A1.9 3.8 27 0 0 523.4 198.2" stroke="#2a2a2a" stroke-width="0.95" fill="none"/>
<path d="M528.6 192.3 A1.9 3.8 27 0 0 525.1 199.1" stroke="#2a2a2a" stroke-width="0.95" fill="none"/>
<path d="M530.2 193.2 A1.9 3.8 27 0 0 526.8 199.9" stroke="#2a2a2a" stroke-width="0.95" fill="none"/>
<path d="M531.9 194 A1.9 3.8 27 0 0 528.5 200.8" stroke="#2a2a2a" stroke-width="0.95" fill="none"/>
<path d="M533.6 194.9 A1.9 3.8 27 0 0 530.1 201.6" stroke="#2a2a2a" stroke-width="0.95" fill="none"/>
<path d="M535.2 195.7 A1.9 3.8 27 0 0 531.8 202.5" stroke="#2a2a2a" stroke-width="0.95" fill="none"/>
<path d="M536.9 196.6 A1.9 3.8 27 0 0 533.5 203.3" stroke="#2a2a2a" stroke-width="0.95" fill="none"/>
<ellipse cx="536.9" cy="200.8" rx="1.9" ry="3.8" transform="rotate(27 536.9 200.8)" stroke="#2a2a2a" stroke-width="0.95" fill="none"/>
<path d="M533.6 194.9 A1.9 3.8 27 0 1 530.1 201.6" stroke="#2a2a2a" stroke-width="0.76" fill="none"/>
<path d="M535.2 195.7 A1.9 3.8 27 0 1 531.8 202.5" stroke="#2a2a2a" stroke-width="0.76" fill="none"/>
<path d="M536.9 196.6 A1.9 3.8 27 0 1 533.5 203.3" stroke="#2a2a2a" stroke-width="0.76" fill="none"/>
<path d="M545.9 201 L554.8 205.5 A2.6 5.3 27 0 1 550 215 L541.1 210.4 A2.6 5.3 27 0 1 545.9 201 Z" stroke="#262626" stroke-width="1.1" fill="#fff" stroke-linejoin="round"/>
<ellipse cx="552.4" cy="210.2" rx="2.6" ry="5.3" transform="rotate(27 552.4 210.2)" stroke="#262626" stroke-width="1.1" fill="#fff"/>
<path d="M553.8 207.6 L558.2 209.8 A1.5 3 27 0 1 555.5 215.2 L551 212.9 A1.5 3 27 0 1 553.8 207.6 Z" stroke="#262626" stroke-width="1.1" fill="#fff" stroke-linejoin="round"/>
<ellipse cx="556.9" cy="212.5" rx="1.5" ry="3" transform="rotate(27 556.9 212.5)" stroke="#262626" stroke-width="1.1" fill="#fff"/>
<path d="M559.3 207.8 L566.4 211.4 A2.6 5.3 27 0 1 561.6 220.9 L554.5 217.2 A2.6 5.3 27 0 1 559.3 207.8 Z" stroke="#262626" stroke-width="1.1" fill="#fff" stroke-linejoin="round"/>
<ellipse cx="564" cy="216.1" rx="2.6" ry="5.3" transform="rotate(27 564 216.1)" stroke="#262626" stroke-width="1.1" fill="#fff"/>
<path d="M565.4 213.5 L569.8 215.7 A1.5 3 27 0 1 567.1 221.1 L562.6 218.8 A1.5 3 27 0 1 565.4 213.5 Z" stroke="#262626" stroke-width="1.1" fill="#fff" stroke-linejoin="round"/>
<ellipse cx="568.4" cy="218.4" rx="1.5" ry="3" transform="rotate(27 568.4 218.4)" stroke="#262626" stroke-width="1.1" fill="#fff"/>
<path d="M570.9 213.7 L580.7 218.7 A2.6 5.3 27 0 1 575.8 228.1 L566 223.1 A2.6 5.3 27 0 1 570.9 213.7 Z" stroke="#262626" stroke-width="1.1" fill="#fff" stroke-linejoin="round"/>
<ellipse cx="578.2" cy="223.4" rx="2.6" ry="5.3" transform="rotate(27 578.2 223.4)" stroke="#262626" stroke-width="1.1" fill="#fff"/>
<ellipse cx="578.2" cy="223.4" rx="1.5" ry="2.9" transform="rotate(27 578.2 223.4)" stroke="#262626" stroke-width="0.9900000000000001" fill="#fff"/>
<path d="M549.7 273 L556.8 276.6 A3.5 6.3 27 0 1 551.1 287.8 L543.9 284.2 A3.5 6.3 27 0 1 549.7 273 Z" stroke="#262626" stroke-width="1.1" fill="#fff" stroke-linejoin="round"/>
<ellipse cx="546.8" cy="278.6" rx="3.5" ry="6.3" transform="rotate(27 546.8 278.6)" stroke="#262626" stroke-width="1.1" fill="#fff"/>
<path d="M551.1 275.1 A2.8 5 27 0 0 546.6 284.1" stroke="#222" stroke-width="1.2" fill="none"/>
<path d="M564.2 282.7 L574.9 288.2 A2.4 4.8 27 0 1 570.5 296.7 L559.8 291.3 A2.4 4.8 27 0 1 564.2 282.7 Z" stroke="#262626" stroke-width="1.1" fill="#fff" stroke-linejoin="round"/>
<ellipse cx="572.7" cy="292.4" rx="2.4" ry="4.8" transform="rotate(27 572.7 292.4)" stroke="#262626" stroke-width="1.1" fill="#fff"/>
<path d="M575.4 287.1 L589.7 294.4 A3 6 27 0 1 584.2 305.1 L570 297.8 A3 6 27 0 1 575.4 287.1 Z" stroke="#262626" stroke-width="1.1" fill="#fff" stroke-linejoin="round"/>
<ellipse cx="586.9" cy="299.7" rx="3" ry="6" transform="rotate(27 586.9 299.7)" stroke="#262626" stroke-width="1.1" fill="#fff"/>
<ellipse cx="586.9" cy="299.7" rx="1.8" ry="3.6" transform="rotate(27 586.9 299.7)" stroke="#262626" stroke-width="0.9900000000000001" fill="#fff"/>
<path d="M593.7 300.6 L608 307.9 A1.9 3.8 27 0 1 604.5 314.6 L590.3 307.4 A1.9 3.8 27 0 1 593.7 300.6 Z" stroke="none" stroke-width="0" fill="#fff" stroke-linejoin="round"/>
<path d="M593.7 300.6 A1.9 3.8 27 0 0 590.3 307.4" stroke="#2a2a2a" stroke-width="0.95" fill="none"/>
<path d="M595.5 301.5 A1.9 3.8 27 0 0 592.1 308.3" stroke="#2a2a2a" stroke-width="0.95" fill="none"/>
<path d="M597.3 302.4 A1.9 3.8 27 0 0 593.8 309.2" stroke="#2a2a2a" stroke-width="0.95" fill="none"/>
<path d="M599.1 303.3 A1.9 3.8 27 0 0 595.6 310.1" stroke="#2a2a2a" stroke-width="0.95" fill="none"/>
<path d="M600.9 304.2 A1.9 3.8 27 0 0 597.4 311" stroke="#2a2a2a" stroke-width="0.95" fill="none"/>
<path d="M602.6 305.2 A1.9 3.8 27 0 0 599.2 311.9" stroke="#2a2a2a" stroke-width="0.95" fill="none"/>
<path d="M604.4 306.1 A1.9 3.8 27 0 0 601 312.8" stroke="#2a2a2a" stroke-width="0.95" fill="none"/>
<path d="M606.2 307 A1.9 3.8 27 0 0 602.7 313.7" stroke="#2a2a2a" stroke-width="0.95" fill="none"/>
<ellipse cx="606.3" cy="311.3" rx="1.9" ry="3.8" transform="rotate(27 606.3 311.3)" stroke="#2a2a2a" stroke-width="0.95" fill="none"/>
<path d="M602.6 305.2 A1.9 3.8 27 0 1 599.2 311.9" stroke="#2a2a2a" stroke-width="0.76" fill="none"/>
<path d="M604.4 306.1 A1.9 3.8 27 0 1 601 312.8" stroke="#2a2a2a" stroke-width="0.76" fill="none"/>
<path d="M606.2 307 A1.9 3.8 27 0 1 602.7 313.7" stroke="#2a2a2a" stroke-width="0.76" fill="none"/>
<path d="M564 381.2 L569.3 383.9 A2.4 4.3 27 0 1 565.4 391.6 L560 388.8 A2.4 4.3 27 0 1 564 381.2 Z" stroke="#262626" stroke-width="1.1" fill="#fff" stroke-linejoin="round"/>
<ellipse cx="567.3" cy="387.7" rx="2.4" ry="4.3" transform="rotate(27 567.3 387.7)" stroke="#262626" stroke-width="1.1" fill="#fff"/>
<path d="M742.5 166.5 L747.5 164 L749.5 165 L749.5 171 L744.5 173.5 L742.5 172.5 Z" stroke="#262626" stroke-width="0.9" fill="#fff" stroke-linejoin="round" />
<path d="M645 324.2 L663 333.5 L663 350 L645 340.6 Z" stroke="#222" stroke-width="1.5" fill="#fff" stroke-linejoin="round" />
<line x1="654" y1="328.8" x2="654" y2="345.3" stroke="#222" stroke-width="1.3" />
<line x1="645" y1="332.4" x2="663" y2="341.7" stroke="#222" stroke-width="1.3" />
<path d="M646.5 328 L650 329.8 L650 333 L646.5 331.2 Z" stroke="#222" stroke-width="0.8" fill="#888" stroke-linejoin="round" />
<path d="M683.5 364.5 L689 361.5 L695 364.5 L695 367.5 L689.5 370.5 L683.5 367.5 Z" stroke="#222" stroke-width="1.2" fill="#fff" stroke-linejoin="round" />
<path d="M685.5 364.8 L689 363 L693 365 L689.5 367.5 Z" stroke="#222" stroke-width="0.8" fill="#ccc" stroke-linejoin="round" />
<path d="M62.4 408.9 L69.5 412.5 A2.6 5.2 27 0 1 64.8 421.8 L57.6 418.1 A2.6 5.2 27 0 1 62.4 408.9 Z" stroke="#262626" stroke-width="1.1" fill="#fff" stroke-linejoin="round"/>
<ellipse cx="67.1" cy="417.1" rx="2.6" ry="5.2" transform="rotate(27 67.1 417.1)" stroke="#262626" stroke-width="1.1" fill="#fff"/>
<path d="M68.9 413.7 L71.1 414.9 A1.9 3.8 27 0 1 67.6 421.7 L65.4 420.5 A1.9 3.8 27 0 1 68.9 413.7 Z" stroke="#262626" stroke-width="1.1" fill="#fff" stroke-linejoin="round"/>
<ellipse cx="69.4" cy="418.3" rx="1.9" ry="3.8" transform="rotate(27 69.4 418.3)" stroke="#262626" stroke-width="1.1" fill="#fff"/>
<path d="M70.7 415.6 L74.3 417.4 A1.5 3 27 0 1 71.6 422.8 L68 420.9 A1.5 3 27 0 1 70.7 415.6 Z" stroke="#262626" stroke-width="1.1" fill="#fff" stroke-linejoin="round"/>
<ellipse cx="72.9" cy="420.1" rx="1.5" ry="3" transform="rotate(27 72.9 420.1)" stroke="#262626" stroke-width="1.1" fill="#fff"/>
<path d="M64.6 410 A2.6 5.2 27 0 0 59.9 419.3" stroke="#262626" stroke-width="0.9" fill="none"/>
<path d="M66.4 410.9 A2.6 5.2 27 0 0 61.6 420.2" stroke="#262626" stroke-width="0.9" fill="none"/>
<path d="M85.4 423.1 L95.7 428.3 A2.1 4.2 27 0 1 91.8 435.8 L81.6 430.5 A2.1 4.2 27 0 1 85.4 423.1 Z" stroke="none" stroke-width="0" fill="#fff" stroke-linejoin="round"/>
<path d="M85.4 423.1 A2.1 4.2 27 0 0 81.6 430.5" stroke="#2a2a2a" stroke-width="0.95" fill="none"/>
<path d="M87.1 423.9 A2.1 4.2 27 0 0 83.3 431.4" stroke="#2a2a2a" stroke-width="0.95" fill="none"/>
<path d="M88.8 424.8 A2.1 4.2 27 0 0 85 432.3" stroke="#2a2a2a" stroke-width="0.95" fill="none"/>
<path d="M90.5 425.7 A2.1 4.2 27 0 0 86.7 433.2" stroke="#2a2a2a" stroke-width="0.95" fill="none"/>
<path d="M92.2 426.5 A2.1 4.2 27 0 0 88.4 434" stroke="#2a2a2a" stroke-width="0.95" fill="none"/>
<path d="M93.9 427.4 A2.1 4.2 27 0 0 90.1 434.9" stroke="#2a2a2a" stroke-width="0.95" fill="none"/>
<ellipse cx="93.7" cy="432" rx="2.1" ry="4.2" transform="rotate(27 93.7 432)" stroke="#2a2a2a" stroke-width="0.95" fill="none"/>
<path d="M90.5 425.7 A2.1 4.2 27 0 1 86.7 433.2" stroke="#2a2a2a" stroke-width="0.76" fill="none"/>
<path d="M92.2 426.5 A2.1 4.2 27 0 1 88.4 434" stroke="#2a2a2a" stroke-width="0.76" fill="none"/>
<path d="M93.9 427.4 A2.1 4.2 27 0 1 90.1 434.9" stroke="#2a2a2a" stroke-width="0.76" fill="none"/>
<path d="M116.1 438.3 L122.4 441.5 A3.5 5.8 27 0 1 117.1 451.8 L110.9 448.7 A3.5 5.8 27 0 1 116.1 438.3 Z" stroke="#262626" stroke-width="1.1" fill="#fff" stroke-linejoin="round"/>
<ellipse cx="119.7" cy="446.7" rx="3.5" ry="5.8" transform="rotate(27 119.7 446.7)" stroke="#262626" stroke-width="1.1" fill="#fff"/>
<path d="M133.7 451.3 L139.9 454.5 A2.4 4.8 27 0 1 135.6 463.1 L129.3 459.9 A2.4 4.8 27 0 1 133.7 451.3 Z" stroke="#262626" stroke-width="1.1" fill="#fff" stroke-linejoin="round"/>
<ellipse cx="137.7" cy="458.8" rx="2.4" ry="4.8" transform="rotate(27 137.7 458.8)" stroke="#262626" stroke-width="1.1" fill="#fff"/>
<path d="M139.5 455.4 L142.1 456.8 A1.9 3.8 27 0 1 138.7 463.5 L136 462.2 A1.9 3.8 27 0 1 139.5 455.4 Z" stroke="#262626" stroke-width="1.1" fill="#fff" stroke-linejoin="round"/>
<ellipse cx="140.4" cy="460.1" rx="1.9" ry="3.8" transform="rotate(27 140.4 460.1)" stroke="#262626" stroke-width="1.1" fill="#fff"/>
<path d="M142.5 456 L145.2 457.4 A2.3 4.6 27 0 1 141 465.6 L138.3 464.2 A2.3 4.6 27 0 1 142.5 456 Z" stroke="#262626" stroke-width="1.1" fill="#fff" stroke-linejoin="round"/>
<ellipse cx="143.1" cy="461.5" rx="2.3" ry="4.6" transform="rotate(27 143.1 461.5)" stroke="#262626" stroke-width="1.1" fill="#fff"/>
<path d="M144.8 458.1 L147 459.3 A1.9 3.8 27 0 1 143.6 466 L141.4 464.9 A1.9 3.8 27 0 1 144.8 458.1 Z" stroke="#262626" stroke-width="1.1" fill="#fff" stroke-linejoin="round"/>
<ellipse cx="145.3" cy="462.6" rx="1.9" ry="3.8" transform="rotate(27 145.3 462.6)" stroke="#262626" stroke-width="1.1" fill="#fff"/>
<path d="M147.4 458.5 L150.1 459.9 A2.3 4.6 27 0 1 145.9 468.1 L143.2 466.7 A2.3 4.6 27 0 1 147.4 458.5 Z" stroke="#262626" stroke-width="1.1" fill="#fff" stroke-linejoin="round"/>
<ellipse cx="148" cy="464" rx="2.3" ry="4.6" transform="rotate(27 148 464)" stroke="#262626" stroke-width="1.1" fill="#fff"/>
<path d="M149.7 460.6 L151.9 461.7 A1.9 3.8 27 0 1 148.5 468.5 L146.3 467.4 A1.9 3.8 27 0 1 149.7 460.6 Z" stroke="#262626" stroke-width="1.1" fill="#fff" stroke-linejoin="round"/>
<ellipse cx="150.2" cy="465.1" rx="1.9" ry="3.8" transform="rotate(27 150.2 465.1)" stroke="#262626" stroke-width="1.1" fill="#fff"/>
<path d="M151.8 462.1 L158 465.3 A1.7 3.4 27 0 1 154.9 471.3 L148.7 468.2 A1.7 3.4 27 0 1 151.8 462.1 Z" stroke="#262626" stroke-width="1.1" fill="#fff" stroke-linejoin="round"/>
<ellipse cx="156.4" cy="468.3" rx="1.7" ry="3.4" transform="rotate(27 156.4 468.3)" stroke="#262626" stroke-width="1.1" fill="#fff"/>
<path d="M167.1 461.2 L171.5 463.5 A1.4 2.8 27 0 1 169 468.5 L164.5 466.2 A1.4 2.8 27 0 1 167.1 461.2 Z" stroke="#262626" stroke-width="1.1" fill="#fff" stroke-linejoin="round"/>
<ellipse cx="170.3" cy="466" rx="1.4" ry="2.8" transform="rotate(27 170.3 466)" stroke="#262626" stroke-width="1.1" fill="#fff"/>
<path d="M171.2 464.2 L172.9 465.1 A1 2 27 0 1 171.1 468.7 L169.3 467.8 A1 2 27 0 1 171.2 464.2 Z" stroke="#262626" stroke-width="1.1" fill="#fff" stroke-linejoin="round"/>
<ellipse cx="172" cy="466.9" rx="1" ry="2" transform="rotate(27 172 466.9)" stroke="#262626" stroke-width="1.1" fill="#fff"/>
<path d="M173.2 464.6 L178.6 467.3 A1.3 2.6 27 0 1 176.2 471.9 L170.9 469.2 A1.3 2.6 27 0 1 173.2 464.6 Z" stroke="#262626" stroke-width="1.1" fill="#fff" stroke-linejoin="round"/>
<ellipse cx="177.4" cy="469.6" rx="1.3" ry="2.6" transform="rotate(27 177.4 469.6)" stroke="#262626" stroke-width="1.1" fill="#fff"/>
<path d="M168 461.7 A1.4 2.8 27 0 0 165.4 466.6" stroke="#222" stroke-width="1.2" fill="none"/>
<path d="M169 462.2 A1.4 2.8 27 0 0 166.5 467.2" stroke="#222" stroke-width="1.2" fill="none"/>
<path d="M170.1 462.7 A1.4 2.8 27 0 0 167.6 467.7" stroke="#222" stroke-width="1.2" fill="none"/>
<path d="M171.2 463.3 A1.4 2.8 27 0 0 168.6 468.3" stroke="#222" stroke-width="1.2" fill="none"/>
<path d="M149.3 380.2 L153.7 382.5 A1.4 2.8 27 0 1 151.2 387.5 L146.7 385.2 A1.4 2.8 27 0 1 149.3 380.2 Z" stroke="#262626" stroke-width="1.1" fill="#fff" stroke-linejoin="round"/>
<ellipse cx="152.5" cy="385" rx="1.4" ry="2.8" transform="rotate(27 152.5 385)" stroke="#262626" stroke-width="1.1" fill="#fff"/>
<path d="M153.5 383 L155.2 383.9 A1.1 2.2 27 0 1 153.2 387.8 L151.5 386.9 A1.1 2.2 27 0 1 153.5 383 Z" stroke="#262626" stroke-width="1.1" fill="#fff" stroke-linejoin="round"/>
<ellipse cx="154.2" cy="385.9" rx="1.1" ry="2.2" transform="rotate(27 154.2 385.9)" stroke="#262626" stroke-width="1.1" fill="#fff"/>
<path d="M155.6 383.2 L161.8 386.4 A1.5 3 27 0 1 159.1 391.7 L152.9 388.6 A1.5 3 27 0 1 155.6 383.2 Z" stroke="#262626" stroke-width="1.1" fill="#fff" stroke-linejoin="round"/>
<ellipse cx="160.5" cy="389.1" rx="1.5" ry="3" transform="rotate(27 160.5 389.1)" stroke="#262626" stroke-width="1.1" fill="#fff"/>
<path d="M150.2 380.7 A1.4 2.8 27 0 0 147.6 385.6" stroke="#222" stroke-width="1.2" fill="none"/>
<path d="M151.2 381.2 A1.4 2.8 27 0 0 148.7 386.2" stroke="#222" stroke-width="1.2" fill="none"/>
<path d="M152.3 381.7 A1.4 2.8 27 0 0 149.8 386.7" stroke="#222" stroke-width="1.2" fill="none"/>
<path d="M153.4 382.3 A1.4 2.8 27 0 0 150.8 387.3" stroke="#222" stroke-width="1.2" fill="none"/>
<path d="M178.9 404.2 L181.8 401.3 L189.5 397.7 L191.3 398.3 L184.2 403 L184.8 405.4 L192.5 400.9 L197.8 400.9 L199.5 403 L193.6 406 L192.5 408.9 L197.2 407.1 L199.5 408.9 L189.5 414.8 L178.9 409.5 Z" stroke="#262626" stroke-width="1" fill="#fff" stroke-linejoin="round" />
<line x1="189.5" y1="414.8" x2="189.8" y2="409.8" stroke="#262626" stroke-width="0.8" />
<line x1="189.8" y1="409.8" x2="193" y2="408" stroke="#262626" stroke-width="0.8" />
<line x1="189.8" y1="409.8" x2="179.5" y2="405" stroke="#262626" stroke-width="0.8" />
<line x1="214.8" y1="387.1" x2="219.8" y2="385" stroke="#262626" stroke-width="4.5" stroke-linecap="round"/>
<line x1="214.8" y1="387.1" x2="219.8" y2="385" stroke="#fff" stroke-width="2.7" stroke-linecap="round"/>
<path d="M257.4 416.2 L268.1 410.7 L266.3 407.4 L255.6 412.8 Z" stroke="#262626" stroke-width="0.9" fill="#fff" stroke-linejoin="round" />
<line x1="262.7" y1="413.5" x2="262.1" y2="409.5" stroke="#262626" stroke-width="0.7" />
<line x1="264.3" y1="412.7" x2="263.7" y2="408.7" stroke="#262626" stroke-width="0.7" />
<line x1="265.9" y1="411.8" x2="265.3" y2="407.9" stroke="#262626" stroke-width="0.7" />
<ellipse cx="258.3" cy="413.6" rx="2.2" ry="4.3" transform="rotate(-27 258.3 413.6)" stroke="#262626" stroke-width="0.9" fill="#fff"/>
<path d="M259.4 415.1 L258.7 417.5 L256.3 416.7 L254.7 413.4 L255.4 410.9 L257.7 411.8 Z" stroke="#262626" stroke-width="0.9" fill="#fff" stroke-linejoin="round" />
<line x1="259.4" y1="415.1" x2="256.9" y2="416.4" stroke="#262626" stroke-width="0.81" />
<line x1="258.7" y1="417.5" x2="256.2" y2="418.8" stroke="#262626" stroke-width="0.81" />
<line x1="256.3" y1="416.7" x2="253.8" y2="417.9" stroke="#262626" stroke-width="0.81" />
<line x1="254.7" y1="413.4" x2="252.2" y2="414.6" stroke="#262626" stroke-width="0.81" />
<line x1="255.4" y1="410.9" x2="252.9" y2="412.2" stroke="#262626" stroke-width="0.81" />
<line x1="257.7" y1="411.8" x2="255.2" y2="413.1" stroke="#262626" stroke-width="0.81" />
<path d="M256.9 416.4 L256.2 418.8 L253.8 417.9 L252.2 414.6 L252.9 412.2 L255.2 413.1 Z" stroke="#262626" stroke-width="0.9" fill="#fff" stroke-linejoin="round" />
<ellipse cx="254.5" cy="415.5" rx="1.1" ry="2" transform="rotate(-27 254.5 415.5)" stroke="#262626" stroke-width="0.7200000000000001" fill="#fff"/>
<path d="M97.5 500.3 L102.4 502.8 A2.2 4.5 27 0 1 98.4 510.8 L93.5 508.3 A2.2 4.5 27 0 1 97.5 500.3 Z" stroke="#262626" stroke-width="1.1" fill="#fff" stroke-linejoin="round"/>
<ellipse cx="100.4" cy="506.8" rx="2.2" ry="4.5" transform="rotate(27 100.4 506.8)" stroke="#262626" stroke-width="1.1" fill="#fff"/>
<path d="M101.7 504.3 L108.8 507.9 A1.4 2.8 27 0 1 106.3 512.9 L99.1 509.3 A1.4 2.8 27 0 1 101.7 504.3 Z" stroke="#262626" stroke-width="1.1" fill="#fff" stroke-linejoin="round"/>
<ellipse cx="107.5" cy="510.4" rx="1.4" ry="2.8" transform="rotate(27 107.5 510.4)" stroke="#262626" stroke-width="1.1" fill="#fff"/>
<path d="M99.8 501.4 A2.2 4.5 27 0 0 95.7 509.4" stroke="#262626" stroke-width="0.9" fill="none"/>
<path d="M117.2 512.1 L130.6 518.9 A1.9 3.8 27 0 1 127.1 525.7 L113.8 518.9 A1.9 3.8 27 0 1 117.2 512.1 Z" stroke="none" stroke-width="0" fill="#fff" stroke-linejoin="round"/>
<path d="M117.2 512.1 A1.9 3.8 27 0 0 113.8 518.9" stroke="#2a2a2a" stroke-width="0.95" fill="none"/>
<path d="M119.1 513.1 A1.9 3.8 27 0 0 115.7 519.9" stroke="#2a2a2a" stroke-width="0.95" fill="none"/>
<path d="M121 514.1 A1.9 3.8 27 0 0 117.6 520.8" stroke="#2a2a2a" stroke-width="0.95" fill="none"/>
<path d="M123 515 A1.9 3.8 27 0 0 119.5 521.8" stroke="#2a2a2a" stroke-width="0.95" fill="none"/>
<path d="M124.9 516 A1.9 3.8 27 0 0 121.4 522.8" stroke="#2a2a2a" stroke-width="0.95" fill="none"/>
<path d="M126.8 517 A1.9 3.8 27 0 0 123.3 523.8" stroke="#2a2a2a" stroke-width="0.95" fill="none"/>
<path d="M128.7 518 A1.9 3.8 27 0 0 125.2 524.7" stroke="#2a2a2a" stroke-width="0.95" fill="none"/>
<ellipse cx="128.9" cy="522.3" rx="1.9" ry="3.8" transform="rotate(27 128.9 522.3)" stroke="#2a2a2a" stroke-width="0.95" fill="none"/>
<path d="M124.9 516 A1.9 3.8 27 0 1 121.4 522.8" stroke="#2a2a2a" stroke-width="0.76" fill="none"/>
<path d="M126.8 517 A1.9 3.8 27 0 1 123.3 523.8" stroke="#2a2a2a" stroke-width="0.76" fill="none"/>
<path d="M128.7 518 A1.9 3.8 27 0 1 125.2 524.7" stroke="#2a2a2a" stroke-width="0.76" fill="none"/>
<path d="M135.7 525.2 L140.1 527.4 A0.8 1.5 27 0 1 138.8 530.1 L134.3 527.8 A0.8 1.5 27 0 1 135.7 525.2 Z" stroke="#262626" stroke-width="1.1" fill="#fff" stroke-linejoin="round"/>
<ellipse cx="139.5" cy="528.8" rx="0.8" ry="1.5" transform="rotate(27 139.5 528.8)" stroke="#262626" stroke-width="1.1" fill="#fff"/>
<path d="M140.5 526.6 L143.2 528 A1.2 2.4 27 0 1 141 532.3 L138.4 530.9 A1.2 2.4 27 0 1 140.5 526.6 Z" stroke="#262626" stroke-width="1.1" fill="#fff" stroke-linejoin="round"/>
<ellipse cx="142.1" cy="530.1" rx="1.2" ry="2.4" transform="rotate(27 142.1 530.1)" stroke="#262626" stroke-width="1.1" fill="#fff"/>
<path d="M143.7 527 L149.1 529.7 A1.8 3.5 27 0 1 145.9 536 L140.5 533.3 A1.8 3.5 27 0 1 143.7 527 Z" stroke="#262626" stroke-width="1.1" fill="#fff" stroke-linejoin="round"/>
<ellipse cx="147.5" cy="532.9" rx="1.8" ry="3.5" transform="rotate(27 147.5 532.9)" stroke="#262626" stroke-width="1.1" fill="#fff"/>
<path d="M148.6 530.7 L150.8 531.9 A1.2 2.4 27 0 1 148.6 536.1 L146.4 535 A1.2 2.4 27 0 1 148.6 530.7 Z" stroke="#262626" stroke-width="1.1" fill="#fff" stroke-linejoin="round"/>
<ellipse cx="149.7" cy="534" rx="1.2" ry="2.4" transform="rotate(27 149.7 534)" stroke="#262626" stroke-width="1.1" fill="#fff"/>
<path d="M151.4 530.6 L157.7 533.8 A1.9 3.8 27 0 1 154.2 540.6 L148 537.4 A1.9 3.8 27 0 1 151.4 530.6 Z" stroke="#262626" stroke-width="1.1" fill="#fff" stroke-linejoin="round"/>
<ellipse cx="155.9" cy="537.2" rx="1.9" ry="3.8" transform="rotate(27 155.9 537.2)" stroke="#262626" stroke-width="1.1" fill="#fff"/>
<ellipse cx="155.9" cy="537.2" rx="0.7" ry="1.3" transform="rotate(27 155.9 537.2)" stroke="#262626" stroke-width="0.9900000000000001" fill="#fff"/>
<line x1="357.6" y1="463" x2="364.3" y2="459.6" stroke="#262626" stroke-width="4.7" stroke-linecap="round"/>
<line x1="357.6" y1="463" x2="364.3" y2="459.6" stroke="#fff" stroke-width="2.9" stroke-linecap="round"/>
<line x1="391.3" y1="484.3" x2="400.6" y2="479.5" stroke="#262626" stroke-width="4.7" stroke-linecap="round"/>
<line x1="391.3" y1="484.3" x2="400.6" y2="479.5" stroke="#fff" stroke-width="2.9" stroke-linecap="round"/>
<path d="M80.9 608.3 L100.2 597.6 L98.3 594.3 L79.1 604.9 Z" stroke="#262626" stroke-width="0.9" fill="#fff" stroke-linejoin="round" />
<line x1="92.1" y1="600.3" x2="98.8" y2="596.6" stroke="#222" stroke-width="1.6" />
<ellipse cx="82.2" cy="605.4" rx="2.8" ry="5.4" transform="rotate(-29 82.2 605.4)" stroke="#262626" stroke-width="0.9" fill="#fff"/>
<path d="M83.7 607.2 L82.9 610.3 L79.9 609.3 L77.6 605.3 L78.4 602.2 L81.4 603.2 Z" stroke="#262626" stroke-width="0.9" fill="#fff" stroke-linejoin="round" />
<line x1="83.7" y1="607.2" x2="80.6" y2="608.9" stroke="#262626" stroke-width="0.81" />
<line x1="82.9" y1="610.3" x2="79.8" y2="612" stroke="#262626" stroke-width="0.81" />
<line x1="79.9" y1="609.3" x2="76.8" y2="611" stroke="#262626" stroke-width="0.81" />
<line x1="77.6" y1="605.3" x2="74.6" y2="607" stroke="#262626" stroke-width="0.81" />
<line x1="78.4" y1="602.2" x2="75.4" y2="603.9" stroke="#262626" stroke-width="0.81" />
<line x1="81.4" y1="603.2" x2="78.4" y2="604.9" stroke="#262626" stroke-width="0.81" />
<path d="M80.6 608.9 L79.8 612 L76.8 611 L74.6 607 L75.4 603.9 L78.4 604.9 Z" stroke="#262626" stroke-width="0.9" fill="#fff" stroke-linejoin="round" />
<ellipse cx="77.6" cy="607.9" rx="1.4" ry="2.5" transform="rotate(-29 77.6 607.9)" stroke="#262626" stroke-width="0.7200000000000001" fill="#fff"/>
<path d="M140.7 608.7 L165.5 594.6 L163.7 591.3 L138.9 605.3 Z" stroke="#262626" stroke-width="0.9" fill="#fff" stroke-linejoin="round" />
<line x1="155.4" y1="598.6" x2="164" y2="593.7" stroke="#222" stroke-width="1.6" />
<ellipse cx="142" cy="605.8" rx="2.8" ry="5.4" transform="rotate(-29.5 142 605.8)" stroke="#262626" stroke-width="0.9" fill="#fff"/>
<path d="M143.5 607.6 L142.7 610.6 L139.7 609.7 L137.4 605.7 L138.2 602.6 L141.2 603.6 Z" stroke="#262626" stroke-width="0.9" fill="#fff" stroke-linejoin="round" />
<line x1="143.5" y1="607.6" x2="140.4" y2="609.3" stroke="#262626" stroke-width="0.81" />
<line x1="142.7" y1="610.6" x2="139.7" y2="612.4" stroke="#262626" stroke-width="0.81" />
<line x1="139.7" y1="609.7" x2="136.7" y2="611.4" stroke="#262626" stroke-width="0.81" />
<line x1="137.4" y1="605.7" x2="134.4" y2="607.4" stroke="#262626" stroke-width="0.81" />
<line x1="138.2" y1="602.6" x2="135.1" y2="604.4" stroke="#262626" stroke-width="0.81" />
<line x1="141.2" y1="603.6" x2="138.2" y2="605.3" stroke="#262626" stroke-width="0.81" />
<path d="M140.4 609.3 L139.7 612.4 L136.7 611.4 L134.4 607.4 L135.1 604.4 L138.2 605.3 Z" stroke="#262626" stroke-width="0.9" fill="#fff" stroke-linejoin="round" />
<ellipse cx="137.4" cy="608.4" rx="1.4" ry="2.5" transform="rotate(-29.5 137.4 608.4)" stroke="#262626" stroke-width="0.7200000000000001" fill="#fff"/>
<path d="M208.1 586.9 L218.9 581.6 L217.3 578.2 L206.5 583.5 Z" stroke="#262626" stroke-width="0.9" fill="#fff" stroke-linejoin="round" />
<line x1="213.5" y1="584.3" x2="212.9" y2="580.3" stroke="#262626" stroke-width="0.7" />
<line x1="215.1" y1="583.5" x2="214.6" y2="579.5" stroke="#262626" stroke-width="0.7" />
<line x1="216.8" y1="582.7" x2="216.2" y2="578.8" stroke="#262626" stroke-width="0.7" />
<ellipse cx="209.2" cy="584.3" rx="2.3" ry="4.5" transform="rotate(-26 209.2 584.3)" stroke="#262626" stroke-width="0.9" fill="#fff"/>
<path d="M210.3 585.9 L209.6 588.4 L207.1 587.5 L205.4 584 L206.2 581.5 L208.7 582.4 Z" stroke="#262626" stroke-width="0.9" fill="#fff" stroke-linejoin="round" />
<line x1="210.3" y1="585.9" x2="207.7" y2="587.2" stroke="#262626" stroke-width="0.81" />
<line x1="209.6" y1="588.4" x2="206.9" y2="589.7" stroke="#262626" stroke-width="0.81" />
<line x1="207.1" y1="587.5" x2="204.4" y2="588.7" stroke="#262626" stroke-width="0.81" />
<line x1="205.4" y1="584" x2="202.7" y2="585.3" stroke="#262626" stroke-width="0.81" />
<line x1="206.2" y1="581.5" x2="203.5" y2="582.7" stroke="#262626" stroke-width="0.81" />
<line x1="208.7" y1="582.4" x2="206" y2="583.7" stroke="#262626" stroke-width="0.81" />
<path d="M207.7 587.2 L206.9 589.7 L204.4 588.7 L202.7 585.3 L203.5 582.7 L206 583.7 Z" stroke="#262626" stroke-width="0.9" fill="#fff" stroke-linejoin="round" />
<ellipse cx="205.2" cy="586.2" rx="1.1" ry="2.1" transform="rotate(-26 205.2 586.2)" stroke="#262626" stroke-width="0.7200000000000001" fill="#fff"/>
<path d="M174.2 704.7 L184 699.7 L182.2 696.3 L172.4 701.3 Z" stroke="#262626" stroke-width="0.9" fill="#fff" stroke-linejoin="round" />
<line x1="179.1" y1="702.2" x2="178.3" y2="698.3" stroke="#262626" stroke-width="0.7" />
<line x1="180.5" y1="701.4" x2="179.8" y2="697.6" stroke="#262626" stroke-width="0.7" />
<line x1="182" y1="700.7" x2="181.3" y2="696.8" stroke="#262626" stroke-width="0.7" />
<ellipse cx="175.2" cy="702" rx="2.3" ry="4.5" transform="rotate(-27 175.2 702)" stroke="#262626" stroke-width="0.9" fill="#fff"/>
<path d="M176.4 703.6 L175.6 706.2 L173.1 705.3 L171.4 701.8 L172.1 699.3 L174.6 700.2 Z" stroke="#262626" stroke-width="0.9" fill="#fff" stroke-linejoin="round" />
<line x1="176.4" y1="703.6" x2="173.7" y2="704.9" stroke="#262626" stroke-width="0.81" />
<line x1="175.6" y1="706.2" x2="173" y2="707.5" stroke="#262626" stroke-width="0.81" />
<line x1="173.1" y1="705.3" x2="170.5" y2="706.6" stroke="#262626" stroke-width="0.81" />
<line x1="171.4" y1="701.8" x2="168.7" y2="703.2" stroke="#262626" stroke-width="0.81" />
<line x1="172.1" y1="699.3" x2="169.5" y2="700.6" stroke="#262626" stroke-width="0.81" />
<line x1="174.6" y1="700.2" x2="172" y2="701.5" stroke="#262626" stroke-width="0.81" />
<path d="M173.7 704.9 L173 707.5 L170.5 706.6 L168.7 703.2 L169.5 700.6 L172 701.5 Z" stroke="#262626" stroke-width="0.9" fill="#fff" stroke-linejoin="round" />
<ellipse cx="171.2" cy="704" rx="1.1" ry="2.1" transform="rotate(-27 171.2 704)" stroke="#262626" stroke-width="0.7200000000000001" fill="#fff"/>
<path d="M55.9 800.9 L75.5 790.9 L73.7 787.5 L54.1 797.5 Z" stroke="#262626" stroke-width="0.9" fill="#fff" stroke-linejoin="round" />
<line x1="67.3" y1="793.3" x2="74.2" y2="789.9" stroke="#222" stroke-width="1.6" />
<ellipse cx="57" cy="798.2" rx="2.5" ry="5" transform="rotate(-27 57 798.2)" stroke="#262626" stroke-width="0.9" fill="#fff"/>
<path d="M58.4 799.9 L57.5 802.7 L54.8 801.7 L52.9 797.9 L53.7 795.1 L56.4 796.1 Z" stroke="#262626" stroke-width="0.9" fill="#fff" stroke-linejoin="round" />
<line x1="58.4" y1="799.9" x2="55.5" y2="801.3" stroke="#262626" stroke-width="0.81" />
<line x1="57.5" y1="802.7" x2="54.7" y2="804.1" stroke="#262626" stroke-width="0.81" />
<line x1="54.8" y1="801.7" x2="51.9" y2="803.1" stroke="#262626" stroke-width="0.81" />
<line x1="52.9" y1="797.9" x2="50" y2="799.4" stroke="#262626" stroke-width="0.81" />
<line x1="53.7" y1="795.1" x2="50.8" y2="796.6" stroke="#262626" stroke-width="0.81" />
<line x1="56.4" y1="796.1" x2="53.6" y2="797.6" stroke="#262626" stroke-width="0.81" />
<path d="M55.5 801.3 L54.7 804.1 L51.9 803.1 L50 799.4 L50.8 796.6 L53.6 797.6 Z" stroke="#262626" stroke-width="0.9" fill="#fff" stroke-linejoin="round" />
<ellipse cx="52.7" cy="800.3" rx="1.2" ry="2.3" transform="rotate(-27 52.7 800.3)" stroke="#262626" stroke-width="0.7200000000000001" fill="#fff"/>
<path d="M205.6 680.3 L212.8 676.7 A1.5 3 -27 0 1 215.5 682 L208.4 685.7 A1.5 3 -27 0 1 205.6 680.3 Z" stroke="#262626" stroke-width="1.1" fill="#fff" stroke-linejoin="round"/>
<ellipse cx="214.1" cy="679.4" rx="1.5" ry="3" transform="rotate(-27 214.1 679.4)" stroke="#262626" stroke-width="1.1" fill="#fff"/>
<path d="M199 682 L206 678 L212 681 L213 686 L207 690 L200 687 Z" stroke="#262626" stroke-width="1" fill="#fff" stroke-linejoin="round" />
<ellipse cx="214" cy="682.5" rx="2.2" ry="3.6" transform="rotate(-27 214 682.5)" stroke="#222" stroke-width="1.3" fill="#fff"/>
<path d="M215.1 679.7 L218.7 677.9 A1 2 -27 0 1 220.5 681.5 L216.9 683.3 A1 2 -27 0 1 215.1 679.7 Z" stroke="#262626" stroke-width="1.1" fill="#fff" stroke-linejoin="round"/>
<ellipse cx="219.6" cy="679.7" rx="1" ry="2" transform="rotate(-27 219.6 679.7)" stroke="#262626" stroke-width="1.1" fill="#fff"/>
<path d="M219 678.6 L221.7 677.3 A0.6 1.2 -27 0 1 222.8 679.4 L220.1 680.8 A0.6 1.2 -27 0 1 219 678.6 Z" stroke="#262626" stroke-width="1.1" fill="#fff" stroke-linejoin="round"/>
<ellipse cx="222.2" cy="678.3" rx="0.6" ry="1.2" transform="rotate(-27 222.2 678.3)" stroke="#262626" stroke-width="1.1" fill="#fff"/>
<path d="M404.3 507.6 L409.7 510.3 A0.9 1.8 27 0 1 408 513.5 L402.7 510.8 A0.9 1.8 27 0 1 404.3 507.6 Z" stroke="#262626" stroke-width="1.1" fill="#fff" stroke-linejoin="round"/>
<ellipse cx="408.8" cy="511.9" rx="0.9" ry="1.8" transform="rotate(27 408.8 511.9)" stroke="#262626" stroke-width="1.1" fill="#fff"/>
<path d="M410.3 509.1 L413.9 510.9 A1.6 3.2 27 0 1 411 516.6 L407.4 514.8 A1.6 3.2 27 0 1 410.3 509.1 Z" stroke="#262626" stroke-width="1.1" fill="#fff" stroke-linejoin="round"/>
<ellipse cx="412.4" cy="513.7" rx="1.6" ry="3.2" transform="rotate(27 412.4 513.7)" stroke="#262626" stroke-width="1.1" fill="#fff"/>
<ellipse cx="412.4" cy="513.7" rx="0.8" ry="1.6" transform="rotate(27 412.4 513.7)" stroke="#262626" stroke-width="0.9900000000000001" fill="#fff"/>
<path d="M410.5 540.1 L426.5 548.3 A2.5 5 27 0 1 422 557.2 L405.9 549.1 A2.5 5 27 0 1 410.5 540.1 Z" stroke="#262626" stroke-width="1" fill="#fff" stroke-linejoin="round"/>
<path d="M415.3 542.6 A2.5 5 27 0 0 410.7 551.5" stroke="#262626" stroke-width="0.9" fill="none"/>
<path d="M417.2 543.6 A2.5 5 27 0 0 412.7 552.5" stroke="#262626" stroke-width="0.9" fill="none"/>
<line x1="416.1" y1="546.9" x2="424.9" y2="551.4" stroke="#262626" stroke-width="0.8" />
<path d="M427.9 545.6 L445.7 554.7 A4 8 27 0 1 438.4 569 L420.6 559.9 A4 8 27 0 1 427.9 545.6 Z" stroke="#262626" stroke-width="1" fill="#fff" stroke-linejoin="round"/>
<path d="M430.1 546.8 A4 8 27 0 0 422.8 561" stroke="#262626" stroke-width="0.8" fill="none"/>
<path d="M441.8 552.7 A4 8 27 0 0 434.5 567" stroke="#1a1a1a" stroke-width="1.6" fill="none"/>
<path d="M443 553.4 L456.2 560.5 L456.2 572.4 L448.2 576.4 L436.8 567.9 Z" stroke="#222" stroke-width="1.2" fill="#fff" stroke-linejoin="round" />
<path d="M448.2 564.6 L456.2 560.5 L456.2 572.4 L448.2 576.4 Z" stroke="#1a1a1a" stroke-width="1.3" fill="#fff" stroke-linejoin="round" />
<path d="M450.5 566.9 L454.5 564.9 L454.5 570.8 L450.5 572.9 Z" stroke="#222" stroke-width="1" fill="#fff" stroke-linejoin="round" />
<path d="M613.8 554.8 L629.8 563 A2.5 5 27 0 1 625.3 571.9 L609.2 563.8 A2.5 5 27 0 1 613.8 554.8 Z" stroke="#262626" stroke-width="1" fill="#fff" stroke-linejoin="round"/>
<path d="M618.6 557.3 A2.5 5 27 0 0 614 566.2" stroke="#262626" stroke-width="0.9" fill="none"/>
<path d="M620.5 558.3 A2.5 5 27 0 0 616 567.2" stroke="#262626" stroke-width="0.9" fill="none"/>
<line x1="619.4" y1="561.6" x2="628.2" y2="566.1" stroke="#262626" stroke-width="0.8" />
<path d="M631.2 560.3 L649 569.4 A4 8 27 0 1 641.7 583.7 L623.9 574.6 A4 8 27 0 1 631.2 560.3 Z" stroke="#262626" stroke-width="1" fill="#fff" stroke-linejoin="round"/>
<path d="M633.4 561.5 A4 8 27 0 0 626.1 575.7" stroke="#262626" stroke-width="0.8" fill="none"/>
<path d="M645.1 567.4 A4 8 27 0 0 637.8 581.7" stroke="#1a1a1a" stroke-width="1.6" fill="none"/>
<path d="M646.3 568.1 L659.5 575.2 L659.5 587.1 L651.5 591.1 L640.1 582.6 Z" stroke="#222" stroke-width="1.2" fill="#fff" stroke-linejoin="round" />
<path d="M651.5 579.3 L659.5 575.2 L659.5 587.1 L651.5 591.1 Z" stroke="#1a1a1a" stroke-width="1.3" fill="#fff" stroke-linejoin="round" />
<path d="M653.8 581.6 L657.8 579.6 L657.8 585.5 L653.8 587.6 Z" stroke="#222" stroke-width="1" fill="#fff" stroke-linejoin="round" />
<path d="M593.3 631.5 L609.3 639.7 A2.5 5 27 0 1 604.8 648.6 L588.7 640.5 A2.5 5 27 0 1 593.3 631.5 Z" stroke="#262626" stroke-width="1" fill="#fff" stroke-linejoin="round"/>
<path d="M598.1 634 A2.5 5 27 0 0 593.5 642.9" stroke="#262626" stroke-width="0.9" fill="none"/>
<path d="M600 635 A2.5 5 27 0 0 595.5 643.9" stroke="#262626" stroke-width="0.9" fill="none"/>
<line x1="598.9" y1="638.3" x2="607.7" y2="642.8" stroke="#262626" stroke-width="0.8" />
<path d="M610.7 637 L628.5 646.1 A4 8 27 0 1 621.2 660.4 L603.4 651.3 A4 8 27 0 1 610.7 637 Z" stroke="#262626" stroke-width="1" fill="#fff" stroke-linejoin="round"/>
<path d="M612.9 638.2 A4 8 27 0 0 605.6 652.4" stroke="#262626" stroke-width="0.8" fill="none"/>
<path d="M624.6 644.1 A4 8 27 0 0 617.3 658.4" stroke="#1a1a1a" stroke-width="1.6" fill="none"/>
<path d="M625.8 644.8 L639 651.9 L639 663.8 L631 667.8 L619.6 659.3 Z" stroke="#222" stroke-width="1.2" fill="#fff" stroke-linejoin="round" />
<path d="M631 656 L639 651.9 L639 663.8 L631 667.8 Z" stroke="#1a1a1a" stroke-width="1.3" fill="#fff" stroke-linejoin="round" />
<path d="M633.3 658.3 L637.3 656.3 L637.3 662.2 L633.3 664.3 Z" stroke="#222" stroke-width="1" fill="#fff" stroke-linejoin="round" />
<path d="M559.3 672 L575.3 680.2 A2.5 5 27 0 1 570.8 689.1 L554.7 681 A2.5 5 27 0 1 559.3 672 Z" stroke="#262626" stroke-width="1" fill="#fff" stroke-linejoin="round"/>
<path d="M564.1 674.5 A2.5 5 27 0 0 559.5 683.4" stroke="#262626" stroke-width="0.9" fill="none"/>
<path d="M566 675.5 A2.5 5 27 0 0 561.5 684.4" stroke="#262626" stroke-width="0.9" fill="none"/>
<line x1="564.9" y1="678.8" x2="573.7" y2="683.3" stroke="#262626" stroke-width="0.8" />
<path d="M576.7 677.5 L594.5 686.6 A4 8 27 0 1 587.2 700.9 L569.4 691.8 A4 8 27 0 1 576.7 677.5 Z" stroke="#262626" stroke-width="1" fill="#fff" stroke-linejoin="round"/>
<path d="M578.9 678.7 A4 8 27 0 0 571.6 692.9" stroke="#262626" stroke-width="0.8" fill="none"/>
<path d="M590.6 684.6 A4 8 27 0 0 583.3 698.9" stroke="#1a1a1a" stroke-width="1.6" fill="none"/>
<path d="M591.8 685.3 L605 692.4 L605 704.3 L597 708.3 L585.6 699.8 Z" stroke="#222" stroke-width="1.2" fill="#fff" stroke-linejoin="round" />
<path d="M597 696.5 L605 692.4 L605 704.3 L597 708.3 Z" stroke="#1a1a1a" stroke-width="1.3" fill="#fff" stroke-linejoin="round" />
<path d="M599.3 698.8 L603.3 696.8 L603.3 702.7 L599.3 704.8 Z" stroke="#222" stroke-width="1" fill="#fff" stroke-linejoin="round" />
<path d="M559.3 725.7 L575.3 733.9 A2.5 5 27 0 1 570.8 742.8 L554.7 734.7 A2.5 5 27 0 1 559.3 725.7 Z" stroke="#262626" stroke-width="1" fill="#fff" stroke-linejoin="round"/>
<path d="M564.1 728.2 A2.5 5 27 0 0 559.5 737.1" stroke="#262626" stroke-width="0.9" fill="none"/>
<path d="M566 729.2 A2.5 5 27 0 0 561.5 738.1" stroke="#262626" stroke-width="0.9" fill="none"/>
<line x1="564.9" y1="732.5" x2="573.7" y2="737" stroke="#262626" stroke-width="0.8" />
<path d="M576.7 731.2 L594.5 740.3 A4 8 27 0 1 587.2 754.6 L569.4 745.5 A4 8 27 0 1 576.7 731.2 Z" stroke="#262626" stroke-width="1" fill="#fff" stroke-linejoin="round"/>
<path d="M578.9 732.4 A4 8 27 0 0 571.6 746.6" stroke="#262626" stroke-width="0.8" fill="none"/>
<path d="M590.6 738.3 A4 8 27 0 0 583.3 752.6" stroke="#1a1a1a" stroke-width="1.6" fill="none"/>
<path d="M591.8 739 L605 746.1 L605 758 L597 762 L585.6 753.5 Z" stroke="#222" stroke-width="1.2" fill="#fff" stroke-linejoin="round" />
<path d="M597 750.2 L605 746.1 L605 758 L597 762 Z" stroke="#1a1a1a" stroke-width="1.3" fill="#fff" stroke-linejoin="round" />
<path d="M599.3 752.5 L603.3 750.5 L603.3 756.4 L599.3 758.5 Z" stroke="#222" stroke-width="1" fill="#fff" stroke-linejoin="round" />
<path d="M429.8 645.4 L436.9 649 A2.5 5.5 27 0 1 431.9 658.8 L424.8 655.2 A2.5 5.5 27 0 1 429.8 645.4 Z" stroke="#262626" stroke-width="1" fill="#fff" stroke-linejoin="round"/>
<ellipse cx="427.3" cy="650.3" rx="2.5" ry="5.5" transform="rotate(27 427.3 650.3)" stroke="#262626" stroke-width="1" fill="#fff"/>
<path d="M431.2 646.1 A2.5 5.5 27 0 0 426.2 655.9" stroke="#222" stroke-width="1.2" fill="none"/>
<path d="M432.6 646.9 A2.5 5.5 27 0 0 427.7 656.7" stroke="#222" stroke-width="1.2" fill="none"/>
<path d="M434.1 647.6 A2.5 5.5 27 0 0 429.1 657.4" stroke="#222" stroke-width="1.2" fill="none"/>
<path d="M435.5 648.3 A2.5 5.5 27 0 0 430.5 658.1" stroke="#222" stroke-width="1.2" fill="none"/>
<path d="M438.5 645.9 L456.3 655 A4.5 9 27 0 1 448.2 671 L430.3 662 A4.5 9 27 0 1 438.5 645.9 Z" stroke="#262626" stroke-width="1" fill="#fff" stroke-linejoin="round"/>
<path d="M440.7 647 A4.5 9 27 0 0 432.6 663.1" stroke="#262626" stroke-width="0.8" fill="none"/>
<path d="M452.4 653 A4.5 9 27 0 0 444.2 669" stroke="#1a1a1a" stroke-width="1.6" fill="none"/>
<path d="M453.7 653.6 L466.8 660.8 L466.8 674.2 L457.8 678.7 L446.5 669.9 Z" stroke="#222" stroke-width="1.2" fill="#fff" stroke-linejoin="round" />
<path d="M457.8 665.4 L466.8 660.8 L466.8 674.2 L457.8 678.7 Z" stroke="#1a1a1a" stroke-width="1.3" fill="#fff" stroke-linejoin="round" />
<path d="M460.4 668 L464.9 665.7 L464.9 672.4 L460.4 674.7 Z" stroke="#222" stroke-width="1" fill="#fff" stroke-linejoin="round" />
<path d="M390.8 696.1 L400.6 701.1 A2.2 5 27 0 1 396 710 L386.2 705.1 A2.2 5 27 0 1 390.8 696.1 Z" stroke="#262626" stroke-width="1" fill="#fff" stroke-linejoin="round"/>
<ellipse cx="388.5" cy="700.6" rx="2.2" ry="5" transform="rotate(27 388.5 700.6)" stroke="#262626" stroke-width="1" fill="#fff"/>
<path d="M392.2 696.9 A2.2 5 27 0 0 387.6 705.8" stroke="#222" stroke-width="1.2" fill="none"/>
<path d="M393.6 697.6 A2.2 5 27 0 0 389 706.5" stroke="#222" stroke-width="1.2" fill="none"/>
<path d="M395 698.3 A2.2 5 27 0 0 390.4 707.2" stroke="#222" stroke-width="1.2" fill="none"/>
<path d="M396.4 699 A2.2 5 27 0 0 391.8 707.9" stroke="#222" stroke-width="1.2" fill="none"/>
<path d="M397.8 699.7 A2.2 5 27 0 0 393.2 708.6" stroke="#222" stroke-width="1.2" fill="none"/>
<path d="M399.2 700.4 A2.2 5 27 0 0 394.6 709.3" stroke="#222" stroke-width="1.2" fill="none"/>
<path d="M402.4 697.6 L418.4 705.7 A4.5 9 27 0 1 410.3 721.8 L394.2 713.6 A4.5 9 27 0 1 402.4 697.6 Z" stroke="#262626" stroke-width="1" fill="#fff" stroke-linejoin="round"/>
<path d="M404.6 698.7 A4.5 9 27 0 0 396.4 714.7" stroke="#262626" stroke-width="0.8" fill="none"/>
<path d="M414.9 703.9 A4.5 9 27 0 0 406.7 720" stroke="#1a1a1a" stroke-width="1.6" fill="none"/>
<path d="M415.8 704.4 L428.9 711.6 L428.9 724.9 L419.9 729.5 L408.6 720.6 Z" stroke="#222" stroke-width="1.2" fill="#fff" stroke-linejoin="round" />
<path d="M419.9 716.2 L428.9 711.6 L428.9 724.9 L419.9 729.5 Z" stroke="#1a1a1a" stroke-width="1.3" fill="#fff" stroke-linejoin="round" />
<path d="M422.5 718.8 L427 716.5 L427 723.1 L422.5 725.4 Z" stroke="#222" stroke-width="1" fill="#fff" stroke-linejoin="round" />
<path d="M579.3 535.8 L586 539.2 A1.4 2.8 27 0 1 583.4 544.2 L576.7 540.8 A1.4 2.8 27 0 1 579.3 535.8 Z" stroke="none" stroke-width="0" fill="#fff" stroke-linejoin="round"/>
<path d="M579.3 535.8 A1.4 2.8 27 0 0 576.7 540.8" stroke="#2a2a2a" stroke-width="0.95" fill="none"/>
<path d="M580.9 536.7 A1.4 2.8 27 0 0 578.4 541.6" stroke="#2a2a2a" stroke-width="0.95" fill="none"/>
<path d="M582.6 537.5 A1.4 2.8 27 0 0 580.1 542.5" stroke="#2a2a2a" stroke-width="0.95" fill="none"/>
<path d="M584.3 538.4 A1.4 2.8 27 0 0 581.7 543.3" stroke="#2a2a2a" stroke-width="0.95" fill="none"/>
<ellipse cx="584.7" cy="541.7" rx="1.4" ry="2.8" transform="rotate(27 584.7 541.7)" stroke="#2a2a2a" stroke-width="0.95" fill="none"/>
<path d="M580.9 536.7 A1.4 2.8 27 0 1 578.4 541.6" stroke="#2a2a2a" stroke-width="0.76" fill="none"/>
<path d="M582.6 537.5 A1.4 2.8 27 0 1 580.1 542.5" stroke="#2a2a2a" stroke-width="0.76" fill="none"/>
<path d="M584.3 538.4 A1.4 2.8 27 0 1 581.7 543.3" stroke="#2a2a2a" stroke-width="0.76" fill="none"/>
<path d="M589.8 543.6 L597.8 547.7 A0.9 1.8 27 0 1 596.2 550.9 L588.2 546.8 A0.9 1.8 27 0 1 589.8 543.6 Z" stroke="#262626" stroke-width="1.1" fill="#fff" stroke-linejoin="round"/>
<ellipse cx="597" cy="549.3" rx="0.9" ry="1.8" transform="rotate(27 597 549.3)" stroke="#262626" stroke-width="1.1" fill="#fff"/>
<path d="M598.4 546.6 L601.1 548 A1.5 3 27 0 1 598.3 553.3 L595.7 552 A1.5 3 27 0 1 598.4 546.6 Z" stroke="#262626" stroke-width="1.1" fill="#fff" stroke-linejoin="round"/>
<ellipse cx="599.7" cy="550.6" rx="1.5" ry="3" transform="rotate(27 599.7 550.6)" stroke="#262626" stroke-width="1.1" fill="#fff"/>
<path d="M601.7 546.6 L608 549.8 A2.2 4.5 27 0 1 603.9 557.8 L597.6 554.7 A2.2 4.5 27 0 1 601.7 546.6 Z" stroke="#262626" stroke-width="1.1" fill="#fff" stroke-linejoin="round"/>
<ellipse cx="605.9" cy="553.8" rx="2.2" ry="4.5" transform="rotate(27 605.9 553.8)" stroke="#262626" stroke-width="1.1" fill="#fff"/>
<ellipse cx="605.9" cy="553.8" rx="1.2" ry="2.5" transform="rotate(27 605.9 553.8)" stroke="#262626" stroke-width="0.9900000000000001" fill="#fff"/>
<path d="M542.6 604.6 L550.6 608.6 A1.2 2.4 27 0 1 548.4 612.9 L540.4 608.8 A1.2 2.4 27 0 1 542.6 604.6 Z" stroke="none" stroke-width="0" fill="#fff" stroke-linejoin="round"/>
<path d="M542.6 604.6 A1.2 2.4 27 0 0 540.4 608.8" stroke="#2a2a2a" stroke-width="0.95" fill="none"/>
<path d="M544.2 605.4 A1.2 2.4 27 0 0 542 609.7" stroke="#2a2a2a" stroke-width="0.95" fill="none"/>
<path d="M545.8 606.2 A1.2 2.4 27 0 0 543.6 610.5" stroke="#2a2a2a" stroke-width="0.95" fill="none"/>
<path d="M547.4 607 A1.2 2.4 27 0 0 545.2 611.3" stroke="#2a2a2a" stroke-width="0.95" fill="none"/>
<path d="M549 607.8 A1.2 2.4 27 0 0 546.8 612.1" stroke="#2a2a2a" stroke-width="0.95" fill="none"/>
<ellipse cx="549.5" cy="610.8" rx="1.2" ry="2.4" transform="rotate(27 549.5 610.8)" stroke="#2a2a2a" stroke-width="0.95" fill="none"/>
<path d="M545.8 606.2 A1.2 2.4 27 0 1 543.6 610.5" stroke="#2a2a2a" stroke-width="0.76" fill="none"/>
<path d="M547.4 607 A1.2 2.4 27 0 1 545.2 611.3" stroke="#2a2a2a" stroke-width="0.76" fill="none"/>
<path d="M549 607.8 A1.2 2.4 27 0 1 546.8 612.1" stroke="#2a2a2a" stroke-width="0.76" fill="none"/>
<path d="M557.8 611.7 L570.3 618.1 A2 4 27 0 1 566.7 625.2 L554.2 618.9 A2 4 27 0 1 557.8 611.7 Z" stroke="#262626" stroke-width="1.1" fill="#fff" stroke-linejoin="round"/>
<ellipse cx="568.5" cy="621.7" rx="2" ry="4" transform="rotate(27 568.5 621.7)" stroke="#262626" stroke-width="1.1" fill="#fff"/>
<path d="M569.3 620.1 L576.4 623.7 A0.9 1.8 27 0 1 574.8 626.9 L567.7 623.3 A0.9 1.8 27 0 1 569.3 620.1 Z" stroke="#262626" stroke-width="1.1" fill="#fff" stroke-linejoin="round"/>
<ellipse cx="575.6" cy="625.3" rx="0.9" ry="1.8" transform="rotate(27 575.6 625.3)" stroke="#262626" stroke-width="1.1" fill="#fff"/>
<path d="M577 622.6 L579.6 624 A1.5 3 27 0 1 576.9 629.3 L574.2 628 A1.5 3 27 0 1 577 622.6 Z" stroke="#262626" stroke-width="1.1" fill="#fff" stroke-linejoin="round"/>
<ellipse cx="578.3" cy="626.6" rx="1.5" ry="3" transform="rotate(27 578.3 626.6)" stroke="#262626" stroke-width="1.1" fill="#fff"/>
<path d="M580.3 622.6 L585.7 625.4 A2.2 4.5 27 0 1 581.6 633.4 L576.2 630.7 A2.2 4.5 27 0 1 580.3 622.6 Z" stroke="#262626" stroke-width="1.1" fill="#fff" stroke-linejoin="round"/>
<ellipse cx="583.6" cy="629.4" rx="2.2" ry="4.5" transform="rotate(27 583.6 629.4)" stroke="#262626" stroke-width="1.1" fill="#fff"/>
<ellipse cx="583.6" cy="629.4" rx="1.1" ry="2.2" transform="rotate(27 583.6 629.4)" stroke="#262626" stroke-width="0.9900000000000001" fill="#fff"/>
<path d="M516.1 648.7 L523.2 652.3 A1.4 2.8 27 0 1 520.7 657.3 L513.5 653.7 A1.4 2.8 27 0 1 516.1 648.7 Z" stroke="none" stroke-width="0" fill="#fff" stroke-linejoin="round"/>
<path d="M516.1 648.7 A1.4 2.8 27 0 0 513.5 653.7" stroke="#2a2a2a" stroke-width="0.95" fill="none"/>
<path d="M517.9 649.6 A1.4 2.8 27 0 0 515.3 654.6" stroke="#2a2a2a" stroke-width="0.95" fill="none"/>
<path d="M519.6 650.5 A1.4 2.8 27 0 0 517.1 655.5" stroke="#2a2a2a" stroke-width="0.95" fill="none"/>
<path d="M521.4 651.4 A1.4 2.8 27 0 0 518.9 656.4" stroke="#2a2a2a" stroke-width="0.95" fill="none"/>
<ellipse cx="521.9" cy="654.8" rx="1.4" ry="2.8" transform="rotate(27 521.9 654.8)" stroke="#2a2a2a" stroke-width="0.95" fill="none"/>
<path d="M517.9 649.6 A1.4 2.8 27 0 1 515.3 654.6" stroke="#2a2a2a" stroke-width="0.76" fill="none"/>
<path d="M519.6 650.5 A1.4 2.8 27 0 1 517.1 655.5" stroke="#2a2a2a" stroke-width="0.76" fill="none"/>
<path d="M521.4 651.4 A1.4 2.8 27 0 1 518.9 656.4" stroke="#2a2a2a" stroke-width="0.76" fill="none"/>
<path d="M530.3 658.1 L538.3 662.2 A0.9 1.8 27 0 1 536.7 665.4 L528.7 661.3 A0.9 1.8 27 0 1 530.3 658.1 Z" stroke="#262626" stroke-width="1.1" fill="#fff" stroke-linejoin="round"/>
<ellipse cx="537.5" cy="663.8" rx="0.9" ry="1.8" transform="rotate(27 537.5 663.8)" stroke="#262626" stroke-width="1.1" fill="#fff"/>
<path d="M538.9 661.1 L541.6 662.5 A1.5 3 27 0 1 538.8 667.8 L536.2 666.5 A1.5 3 27 0 1 538.9 661.1 Z" stroke="#262626" stroke-width="1.1" fill="#fff" stroke-linejoin="round"/>
<ellipse cx="540.2" cy="665.1" rx="1.5" ry="3" transform="rotate(27 540.2 665.1)" stroke="#262626" stroke-width="1.1" fill="#fff"/>
<path d="M542.2 661.1 L548.5 664.3 A2.2 4.5 27 0 1 544.4 672.3 L538.1 669.2 A2.2 4.5 27 0 1 542.2 661.1 Z" stroke="#262626" stroke-width="1.1" fill="#fff" stroke-linejoin="round"/>
<ellipse cx="546.4" cy="668.3" rx="2.2" ry="4.5" transform="rotate(27 546.4 668.3)" stroke="#262626" stroke-width="1.1" fill="#fff"/>
<ellipse cx="546.4" cy="668.3" rx="1.2" ry="2.5" transform="rotate(27 546.4 668.3)" stroke="#262626" stroke-width="0.9900000000000001" fill="#fff"/>
<path d="M500.6 693.2 L507.3 696.6 A1.4 2.8 27 0 1 504.7 701.6 L498 698.2 A1.4 2.8 27 0 1 500.6 693.2 Z" stroke="none" stroke-width="0" fill="#fff" stroke-linejoin="round"/>
<path d="M500.6 693.2 A1.4 2.8 27 0 0 498 698.2" stroke="#2a2a2a" stroke-width="0.95" fill="none"/>
<path d="M502.2 694.1 A1.4 2.8 27 0 0 499.7 699" stroke="#2a2a2a" stroke-width="0.95" fill="none"/>
<path d="M503.9 694.9 A1.4 2.8 27 0 0 501.4 699.9" stroke="#2a2a2a" stroke-width="0.95" fill="none"/>
<path d="M505.6 695.8 A1.4 2.8 27 0 0 503 700.7" stroke="#2a2a2a" stroke-width="0.95" fill="none"/>
<ellipse cx="506" cy="699.1" rx="1.4" ry="2.8" transform="rotate(27 506 699.1)" stroke="#2a2a2a" stroke-width="0.95" fill="none"/>
<path d="M502.2 694.1 A1.4 2.8 27 0 1 499.7 699" stroke="#2a2a2a" stroke-width="0.76" fill="none"/>
<path d="M503.9 694.9 A1.4 2.8 27 0 1 501.4 699.9" stroke="#2a2a2a" stroke-width="0.76" fill="none"/>
<path d="M505.6 695.8 A1.4 2.8 27 0 1 503 700.7" stroke="#2a2a2a" stroke-width="0.76" fill="none"/>
<path d="M520.8 701.5 L532.4 707.4 A2.5 5 27 0 1 527.8 716.4 L516.2 710.5 A2.5 5 27 0 1 520.8 701.5 Z" stroke="#262626" stroke-width="1.1" fill="#fff" stroke-linejoin="round"/>
<ellipse cx="530.1" cy="711.9" rx="2.5" ry="5" transform="rotate(27 530.1 711.9)" stroke="#262626" stroke-width="1.1" fill="#fff"/>
<path d="M531.2 709.7 L535.7 711.9 A1.2 2.5 27 0 1 533.4 716.4 L528.9 714.1 A1.2 2.5 27 0 1 531.2 709.7 Z" stroke="#262626" stroke-width="1.1" fill="#fff" stroke-linejoin="round"/>
<ellipse cx="534.5" cy="714.2" rx="1.2" ry="2.5" transform="rotate(27 534.5 714.2)" stroke="#262626" stroke-width="1.1" fill="#fff"/>
<path d="M536.8 709.7 L548.4 715.6 A2.5 5 27 0 1 543.9 724.5 L532.3 718.6 A2.5 5 27 0 1 536.8 709.7 Z" stroke="#262626" stroke-width="1.1" fill="#fff" stroke-linejoin="round"/>
<ellipse cx="546.1" cy="720.1" rx="2.5" ry="5" transform="rotate(27 546.1 720.1)" stroke="#262626" stroke-width="1.1" fill="#fff"/>
<ellipse cx="546.1" cy="720.1" rx="1.5" ry="3" transform="rotate(27 546.1 720.1)" stroke="#262626" stroke-width="0.9900000000000001" fill="#fff"/>
<line x1="630.6" y1="58" x2="630.6" y2="71" stroke="#444" stroke-width="1" />
<line x1="597.7" y1="71" x2="663.3" y2="71" stroke="#444" stroke-width="1" />
<line x1="597.7" y1="71" x2="597.7" y2="98" stroke="#444" stroke-width="1" />
<line x1="663.3" y1="71" x2="663.3" y2="133.2" stroke="#444" stroke-width="1" />
<line x1="663.3" y1="133.2" x2="631" y2="151.7" stroke="#444" stroke-width="1" />
<line x1="533.4" y1="92.9" x2="533.4" y2="113.5" stroke="#444" stroke-width="1" />
<line x1="564.6" y1="111" x2="564.6" y2="127.9" stroke="#444" stroke-width="1" />
<line x1="481.4" y1="95" x2="481.4" y2="105.6" stroke="#444" stroke-width="1" />
<line x1="509.6" y1="109.2" x2="509.6" y2="125.8" stroke="#444" stroke-width="1" />
<line x1="481.4" y1="126.2" x2="481.4" y2="148.7" stroke="#444" stroke-width="1" />
<line x1="509.6" y1="143.8" x2="509.6" y2="148.7" stroke="#444" stroke-width="1" />
<line x1="481.4" y1="148.7" x2="509.6" y2="148.7" stroke="#444" stroke-width="1" />
<line x1="495.6" y1="148.7" x2="495.6" y2="154.5" stroke="#444" stroke-width="1" />
<line x1="498.8" y1="190" x2="498.8" y2="204.3" stroke="#444" stroke-width="1" />
<line x1="528.7" y1="200" x2="528.7" y2="222" stroke="#444" stroke-width="1" />
<line x1="561.6" y1="188.4" x2="561.6" y2="208.6" stroke="#444" stroke-width="1" />
<line x1="577.1" y1="267.6" x2="577.1" y2="292.5" stroke="#444" stroke-width="1" />
<line x1="549.7" y1="287" x2="549.7" y2="306.5" stroke="#444" stroke-width="1" />
<line x1="597.8" y1="310.9" x2="597.8" y2="332" stroke="#444" stroke-width="1" />
<line x1="565.8" y1="364.7" x2="565.8" y2="381" stroke="#444" stroke-width="1" />
<line x1="652.2" y1="335" x2="652.2" y2="364.7" stroke="#444" stroke-width="1" />
<line x1="689.3" y1="370.5" x2="689.3" y2="391.9" stroke="#444" stroke-width="1" />
<line x1="538.5" y1="425.5" x2="557.3" y2="425.5" stroke="#444" stroke-width="1" />
<line x1="748.5" y1="142" x2="748.5" y2="164" stroke="#444" stroke-width="1" />
<line x1="153.6" y1="361.2" x2="153.6" y2="382.5" stroke="#444" stroke-width="1" />
<line x1="186.7" y1="378" x2="186.7" y2="399" stroke="#444" stroke-width="1" />
<line x1="216" y1="363.9" x2="216" y2="382.5" stroke="#444" stroke-width="1" />
<line x1="261.6" y1="388" x2="261.6" y2="409.5" stroke="#444" stroke-width="1" />
<line x1="64.1" y1="389.2" x2="64.1" y2="409.5" stroke="#444" stroke-width="1" />
<line x1="118.8" y1="419.6" x2="118.8" y2="439.9" stroke="#444" stroke-width="1" />
<line x1="172.2" y1="444.9" x2="172.2" y2="463.5" stroke="#444" stroke-width="1" />
<line x1="87.8" y1="433.1" x2="87.8" y2="453.4" stroke="#444" stroke-width="1" />
<line x1="100.6" y1="485.4" x2="100.6" y2="502.3" stroke="#444" stroke-width="1" />
<line x1="141.8" y1="466.9" x2="141.8" y2="482" stroke="#444" stroke-width="1" />
<line x1="145.8" y1="514.1" x2="145.8" y2="529.3" stroke="#444" stroke-width="1" />
<line x1="122.2" y1="522.6" x2="122.2" y2="542.8" stroke="#444" stroke-width="1" />
<line x1="312.5" y1="445.4" x2="312.5" y2="468.4" stroke="#444" stroke-width="1" />
<line x1="360.9" y1="438" x2="360.9" y2="458.5" stroke="#444" stroke-width="1" />
<line x1="395.6" y1="457.5" x2="395.6" y2="479" stroke="#444" stroke-width="1" />
<line x1="210.6" y1="588.7" x2="210.6" y2="602.8" stroke="#444" stroke-width="1" />
<line x1="353.9" y1="640" x2="373.3" y2="640" stroke="#444" stroke-width="1" />
<line x1="86.8" y1="606" x2="86.8" y2="627.7" stroke="#444" stroke-width="1" />
<line x1="147" y1="606" x2="147" y2="627.7" stroke="#444" stroke-width="1" />
<line x1="213.5" y1="686" x2="213.5" y2="708" stroke="#444" stroke-width="1" />
<line x1="176.7" y1="706" x2="176.7" y2="732" stroke="#444" stroke-width="1" />
<line x1="240.5" y1="36.5" x2="262.5" y2="36.5" stroke="#444" stroke-width="1" />
<line x1="240.5" y1="65.3" x2="258" y2="65.3" stroke="#444" stroke-width="1" />
<line x1="244.5" y1="97.4" x2="268" y2="97.4" stroke="#444" stroke-width="1" />
<line x1="212.4" y1="220.4" x2="232.5" y2="220.4" stroke="#444" stroke-width="1" />
<line x1="415.2" y1="514" x2="436.4" y2="514" stroke="#444" stroke-width="1" />
<line x1="444.3" y1="535" x2="444.3" y2="557" stroke="#444" stroke-width="1" />
<line x1="600.6" y1="525" x2="600.6" y2="550.1" stroke="#444" stroke-width="1" />
<line x1="641.6" y1="546" x2="641.6" y2="569.6" stroke="#444" stroke-width="1" />
<line x1="581.1" y1="543.3" x2="581.1" y2="560" stroke="#444" stroke-width="1" />
<line x1="545.2" y1="589" x2="545.2" y2="607.2" stroke="#444" stroke-width="1" />
<line x1="621.1" y1="621" x2="621.1" y2="644.2" stroke="#444" stroke-width="1" />
<line x1="537.7" y1="637.5" x2="537.7" y2="663" stroke="#444" stroke-width="1" />
<line x1="572.6" y1="627.7" x2="572.6" y2="650" stroke="#444" stroke-width="1" />
<line x1="517.8" y1="656.1" x2="517.8" y2="676.6" stroke="#444" stroke-width="1" />
<line x1="441.9" y1="666.4" x2="441.9" y2="687" stroke="#444" stroke-width="1" />
<line x1="605" y1="697.2" x2="623.9" y2="697.2" stroke="#444" stroke-width="1" />
<line x1="501.4" y1="700.6" x2="501.4" y2="721.1" stroke="#444" stroke-width="1" />
<line x1="536.6" y1="719.4" x2="536.6" y2="745" stroke="#444" stroke-width="1" />
<line x1="408.4" y1="719.4" x2="408.4" y2="742" stroke="#444" stroke-width="1" />
<line x1="605" y1="750.2" x2="623.9" y2="750.2" stroke="#444" stroke-width="1" />
<path d="M879.8 71.1 L895.9 78.6 L898.6 72.8 L909.6 76.9 L915.7 83.8 L922.6 82 L938 91.6 L951.6 99.1 L956.8 97.4 L963.6 106 L966.3 112.8 L965.3 191.5 L967 205.1 L969.7 253 L955 254.7 L946.5 247.9 L939.7 241 L922.6 235.9 L912.3 229 L910.6 222.2 L898.6 212 L898 203.4 L893.5 198.3 L891.8 177.8 L887.7 171 L886.7 145.3 L879.8 136.8 Z" stroke="#222" stroke-width="1.1" fill="#fff" stroke-linejoin="round" />
<ellipse cx="885.9" cy="79" rx="2" ry="2.8" transform="rotate(0 885.9 79)" stroke="#222" stroke-width="0.9" fill="#fff"/>
<ellipse cx="927.9" cy="90.7" rx="2" ry="2.8" transform="rotate(0 927.9 90.7)" stroke="#222" stroke-width="0.9" fill="#fff"/>
<ellipse cx="961.6" cy="118.4" rx="2" ry="2.8" transform="rotate(0 961.6 118.4)" stroke="#222" stroke-width="0.9" fill="#fff"/>
<ellipse cx="961.5" cy="129.6" rx="2" ry="2.8" transform="rotate(0 961.5 129.6)" stroke="#222" stroke-width="0.9" fill="#fff"/>
<ellipse cx="961.2" cy="152.1" rx="2" ry="2.8" transform="rotate(0 961.2 152.1)" stroke="#222" stroke-width="0.9" fill="#fff"/>
<ellipse cx="960.9" cy="174.6" rx="2" ry="2.8" transform="rotate(0 960.9 174.6)" stroke="#222" stroke-width="0.9" fill="#fff"/>
<ellipse cx="962.7" cy="211.3" rx="2" ry="2.8" transform="rotate(0 962.7 211.3)" stroke="#222" stroke-width="0.9" fill="#fff"/>
<ellipse cx="963.4" cy="223.3" rx="2" ry="2.8" transform="rotate(0 963.4 223.3)" stroke="#222" stroke-width="0.9" fill="#fff"/>
<ellipse cx="961.8" cy="249.3" rx="2" ry="2.8" transform="rotate(0 961.8 249.3)" stroke="#222" stroke-width="0.9" fill="#fff"/>
<ellipse cx="932.5" cy="234" rx="2" ry="2.8" transform="rotate(0 932.5 234)" stroke="#222" stroke-width="0.9" fill="#fff"/>
<ellipse cx="920" cy="228.6" rx="2" ry="2.8" transform="rotate(0 920 228.6)" stroke="#222" stroke-width="0.9" fill="#fff"/>
<ellipse cx="907.6" cy="213.6" rx="2" ry="2.8" transform="rotate(0 907.6 213.6)" stroke="#222" stroke-width="0.9" fill="#fff"/>
<ellipse cx="897.2" cy="187.7" rx="2" ry="2.8" transform="rotate(0 897.2 187.7)" stroke="#222" stroke-width="0.9" fill="#fff"/>
<ellipse cx="891.5" cy="151.5" rx="2" ry="2.8" transform="rotate(0 891.5 151.5)" stroke="#222" stroke-width="0.9" fill="#fff"/>
<ellipse cx="884.4" cy="90.8" rx="2" ry="2.8" transform="rotate(0 884.4 90.8)" stroke="#222" stroke-width="0.9" fill="#fff"/>
<ellipse cx="937.2" cy="139.5" rx="2.2" ry="2.4" transform="rotate(0 937.2 139.5)" stroke="#222" stroke-width="0.9" fill="#fff"/>
<ellipse cx="935.4" cy="162.2" rx="2.2" ry="2.9" transform="rotate(20 935.4 162.2)" stroke="#222" stroke-width="0.9" fill="#fff"/>
<ellipse cx="932.4" cy="154.3" rx="2.1" ry="3" transform="rotate(-20 932.4 154.3)" stroke="#222" stroke-width="0.9" fill="#fff"/>
<ellipse cx="906.8" cy="162" rx="2.1" ry="2.7" transform="rotate(-20 906.8 162)" stroke="#222" stroke-width="0.9" fill="#fff"/>
<ellipse cx="917.4" cy="210.1" rx="2" ry="2.7" transform="rotate(0 917.4 210.1)" stroke="#222" stroke-width="0.9" fill="#fff"/>
<ellipse cx="930" cy="216" rx="2.4" ry="2.6" transform="rotate(20 930 216)" stroke="#222" stroke-width="0.9" fill="#fff"/>
<ellipse cx="933.2" cy="177.6" rx="2.2" ry="3" transform="rotate(20 933.2 177.6)" stroke="#222" stroke-width="0.9" fill="#fff"/>
<ellipse cx="922.4" cy="193" rx="1.9" ry="2.9" transform="rotate(-20 922.4 193)" stroke="#222" stroke-width="0.9" fill="#fff"/>
<ellipse cx="931.8" cy="196.2" rx="2.2" ry="2.9" transform="rotate(-20 931.8 196.2)" stroke="#222" stroke-width="0.9" fill="#fff"/>
<ellipse cx="911.8" cy="183.3" rx="2.2" ry="2.6" transform="rotate(20 911.8 183.3)" stroke="#222" stroke-width="0.9" fill="#fff"/>
<ellipse cx="891.4" cy="116.6" rx="2.1" ry="3" transform="rotate(0 891.4 116.6)" stroke="#222" stroke-width="0.9" fill="#fff"/>
<ellipse cx="894.8" cy="144.8" rx="2.1" ry="2.5" transform="rotate(20 894.8 144.8)" stroke="#222" stroke-width="0.9" fill="#fff"/>
<ellipse cx="917.1" cy="137" rx="2.4" ry="3.1" transform="rotate(0 917.1 137)" stroke="#222" stroke-width="0.9" fill="#fff"/>
<ellipse cx="887.3" cy="98.9" rx="2.3" ry="2.4" transform="rotate(-20 887.3 98.9)" stroke="#222" stroke-width="0.9" fill="#fff"/>
<ellipse cx="896.2" cy="122.9" rx="2" ry="2.8" transform="rotate(-20 896.2 122.9)" stroke="#222" stroke-width="0.9" fill="#fff"/>
<ellipse cx="949.9" cy="231.7" rx="2.4" ry="2.7" transform="rotate(20 949.9 231.7)" stroke="#222" stroke-width="0.9" fill="#fff"/>
<ellipse cx="915.2" cy="159.5" rx="2.1" ry="2.5" transform="rotate(0 915.2 159.5)" stroke="#222" stroke-width="0.9" fill="#fff"/>
<ellipse cx="919.4" cy="91.3" rx="2.3" ry="2.5" transform="rotate(-20 919.4 91.3)" stroke="#222" stroke-width="0.9" fill="#fff"/>
<ellipse cx="893.4" cy="89.7" rx="2.1" ry="2.4" transform="rotate(0 893.4 89.7)" stroke="#222" stroke-width="0.9" fill="#fff"/>
<ellipse cx="935" cy="98.4" rx="2.1" ry="2.6" transform="rotate(20 935 98.4)" stroke="#222" stroke-width="0.9" fill="#fff"/>
<ellipse cx="923" cy="128.4" rx="2" ry="2.9" transform="rotate(-20 923 128.4)" stroke="#222" stroke-width="0.9" fill="#fff"/>
<ellipse cx="942.4" cy="119" rx="2.1" ry="2.5" transform="rotate(0 942.4 119)" stroke="#222" stroke-width="0.9" fill="#fff"/>
<ellipse cx="909.4" cy="112.1" rx="2.4" ry="3.1" transform="rotate(0 909.4 112.1)" stroke="#222" stroke-width="0.9" fill="#fff"/>
<ellipse cx="952.3" cy="221.3" rx="2.3" ry="2.6" transform="rotate(-20 952.3 221.3)" stroke="#222" stroke-width="0.9" fill="#fff"/>
<ellipse cx="924.1" cy="205.3" rx="2.5" ry="3" transform="rotate(20 924.1 205.3)" stroke="#222" stroke-width="0.9" fill="#fff"/>
<ellipse cx="903.1" cy="198.2" rx="2.5" ry="2.7" transform="rotate(-20 903.1 198.2)" stroke="#222" stroke-width="0.9" fill="#fff"/>
<ellipse cx="900.2" cy="107.2" rx="2" ry="2.8" transform="rotate(-20 900.2 107.2)" stroke="#222" stroke-width="0.9" fill="#fff"/>
<ellipse cx="955.4" cy="159.1" rx="2.3" ry="3" transform="rotate(0 955.4 159.1)" stroke="#222" stroke-width="0.9" fill="#fff"/>
<ellipse cx="914.7" cy="201.7" rx="2" ry="3" transform="rotate(20 914.7 201.7)" stroke="#222" stroke-width="0.9" fill="#fff"/>
<ellipse cx="950.7" cy="132.2" rx="2.4" ry="3.1" transform="rotate(20 950.7 132.2)" stroke="#222" stroke-width="0.9" fill="#fff"/>
<ellipse cx="938.8" cy="183.4" rx="2.3" ry="2.7" transform="rotate(20 938.8 183.4)" stroke="#222" stroke-width="0.9" fill="#fff"/>
<ellipse cx="893.8" cy="171.8" rx="1.9" ry="3" transform="rotate(-20 893.8 171.8)" stroke="#222" stroke-width="0.9" fill="#fff"/>
<ellipse cx="932.5" cy="118.7" rx="2.2" ry="2.5" transform="rotate(-20 932.5 118.7)" stroke="#222" stroke-width="0.9" fill="#fff"/>
<ellipse cx="924.9" cy="168.7" rx="2.2" ry="2.4" transform="rotate(20 924.9 168.7)" stroke="#222" stroke-width="0.9" fill="#fff"/>
<ellipse cx="949.6" cy="182.8" rx="2.4" ry="2.5" transform="rotate(0 949.6 182.8)" stroke="#222" stroke-width="0.9" fill="#fff"/>
<ellipse cx="919.6" cy="183.6" rx="2.2" ry="2.8" transform="rotate(-20 919.6 183.6)" stroke="#222" stroke-width="0.9" fill="#fff"/>
<ellipse cx="958.6" cy="241.4" rx="2.5" ry="3" transform="rotate(0 958.6 241.4)" stroke="#222" stroke-width="0.9" fill="#fff"/>
<ellipse cx="904.1" cy="94.9" rx="2.2" ry="3" transform="rotate(20 904.1 94.9)" stroke="#222" stroke-width="0.9" fill="#fff"/>
<ellipse cx="916.3" cy="169.6" rx="2.2" ry="2.7" transform="rotate(20 916.3 169.6)" stroke="#222" stroke-width="0.9" fill="#fff"/>
<ellipse cx="941.7" cy="149.2" rx="1.9" ry="3.1" transform="rotate(-20 941.7 149.2)" stroke="#222" stroke-width="0.9" fill="#fff"/>
<ellipse cx="938.2" cy="191.6" rx="2.2" ry="3" transform="rotate(-20 938.2 191.6)" stroke="#222" stroke-width="0.9" fill="#fff"/>
<ellipse cx="959.1" cy="204.9" rx="2" ry="3.1" transform="rotate(0 959.1 204.9)" stroke="#222" stroke-width="0.9" fill="#fff"/>
<line x1="909.1" y1="84.9" x2="910.8" y2="88.1" stroke="#262626" stroke-width="3" stroke-linecap="round"/>
<line x1="909.1" y1="84.9" x2="910.8" y2="88.1" stroke="#fff" stroke-width="1.4" stroke-linecap="round"/>
<line x1="925" y1="106.2" x2="925" y2="109.8" stroke="#262626" stroke-width="3" stroke-linecap="round"/>
<line x1="925" y1="106.2" x2="925" y2="109.8" stroke="#fff" stroke-width="1.4" stroke-linecap="round"/>
<line x1="915.2" y1="124.3" x2="915.2" y2="127.9" stroke="#262626" stroke-width="3" stroke-linecap="round"/>
<line x1="915.2" y1="124.3" x2="915.2" y2="127.9" stroke="#fff" stroke-width="1.4" stroke-linecap="round"/>
<line x1="943.8" y1="160.2" x2="945.4" y2="163.4" stroke="#262626" stroke-width="3" stroke-linecap="round"/>
<line x1="943.8" y1="160.2" x2="945.4" y2="163.4" stroke="#fff" stroke-width="1.4" stroke-linecap="round"/>
<line x1="960" y1="184.5" x2="960" y2="188.1" stroke="#262626" stroke-width="3" stroke-linecap="round"/>
<line x1="960" y1="184.5" x2="960" y2="188.1" stroke="#fff" stroke-width="1.4" stroke-linecap="round"/>
<line x1="951.5" y1="199.9" x2="951.5" y2="203.5" stroke="#262626" stroke-width="3" stroke-linecap="round"/>
<line x1="951.5" y1="199.9" x2="951.5" y2="203.5" stroke="#fff" stroke-width="1.4" stroke-linecap="round"/>
<ellipse cx="903.5" cy="155" rx="1.2" ry="1.5" transform="rotate(0 903.5 155)" stroke="#222" stroke-width="0.8" fill="#fff"/>
<ellipse cx="922.4" cy="219.7" rx="1.2" ry="1.5" transform="rotate(0 922.4 219.7)" stroke="#222" stroke-width="0.8" fill="#fff"/>
<ellipse cx="955.9" cy="114.2" rx="1.2" ry="1.5" transform="rotate(0 955.9 114.2)" stroke="#222" stroke-width="0.8" fill="#fff"/>
<ellipse cx="947.8" cy="113.5" rx="1.2" ry="1.5" transform="rotate(0 947.8 113.5)" stroke="#222" stroke-width="0.8" fill="#fff"/>
<ellipse cx="938.2" cy="155.6" rx="1.2" ry="1.5" transform="rotate(0 938.2 155.6)" stroke="#222" stroke-width="0.8" fill="#fff"/>
<ellipse cx="897.6" cy="181.2" rx="1.2" ry="1.5" transform="rotate(0 897.6 181.2)" stroke="#222" stroke-width="0.8" fill="#fff"/>
<ellipse cx="909.6" cy="190.7" rx="1.2" ry="1.5" transform="rotate(0 909.6 190.7)" stroke="#222" stroke-width="0.8" fill="#fff"/>
<ellipse cx="891.8" cy="159.7" rx="1.2" ry="1.5" transform="rotate(0 891.8 159.7)" stroke="#222" stroke-width="0.8" fill="#fff"/>
<ellipse cx="888.7" cy="111.1" rx="1.2" ry="1.5" transform="rotate(0 888.7 111.1)" stroke="#222" stroke-width="0.8" fill="#fff"/>
<ellipse cx="929.2" cy="128.3" rx="1.2" ry="1.5" transform="rotate(0 929.2 128.3)" stroke="#222" stroke-width="0.8" fill="#fff"/>
<ellipse cx="889.9" cy="138.1" rx="1.2" ry="1.5" transform="rotate(0 889.9 138.1)" stroke="#222" stroke-width="0.8" fill="#fff"/>
<ellipse cx="924.6" cy="232" rx="1.2" ry="1.5" transform="rotate(0 924.6 232)" stroke="#222" stroke-width="0.8" fill="#fff"/>
<ellipse cx="915.2" cy="100.3" rx="1.2" ry="1.5" transform="rotate(0 915.2 100.3)" stroke="#222" stroke-width="0.8" fill="#fff"/>
<ellipse cx="890.7" cy="131.9" rx="1.2" ry="1.5" transform="rotate(0 890.7 131.9)" stroke="#222" stroke-width="0.8" fill="#fff"/>
<ellipse cx="909" cy="133.2" rx="1.2" ry="1.5" transform="rotate(0 909 133.2)" stroke="#222" stroke-width="0.8" fill="#fff"/>
<ellipse cx="956.6" cy="122.6" rx="1.2" ry="1.5" transform="rotate(0 956.6 122.6)" stroke="#222" stroke-width="0.8" fill="#fff"/>
<ellipse cx="950.4" cy="149.6" rx="1.2" ry="1.5" transform="rotate(0 950.4 149.6)" stroke="#222" stroke-width="0.8" fill="#fff"/>
<ellipse cx="929.3" cy="102.5" rx="1.2" ry="1.5" transform="rotate(0 929.3 102.5)" stroke="#222" stroke-width="0.8" fill="#fff"/>
<ellipse cx="902.8" cy="206.7" rx="1.2" ry="1.5" transform="rotate(0 902.8 206.7)" stroke="#222" stroke-width="0.8" fill="#fff"/>
<ellipse cx="901.3" cy="159.8" rx="1.2" ry="1.5" transform="rotate(0 901.3 159.8)" stroke="#222" stroke-width="0.8" fill="#fff"/>
<ellipse cx="912.9" cy="219.7" rx="1.2" ry="1.5" transform="rotate(0 912.9 219.7)" stroke="#222" stroke-width="0.8" fill="#fff"/>
<ellipse cx="958.1" cy="141.4" rx="1.2" ry="1.5" transform="rotate(0 958.1 141.4)" stroke="#222" stroke-width="0.8" fill="#fff"/>
<ellipse cx="924.6" cy="176.5" rx="1.2" ry="1.5" transform="rotate(0 924.6 176.5)" stroke="#222" stroke-width="0.8" fill="#fff"/>
<ellipse cx="955.9" cy="235.4" rx="1.2" ry="1.5" transform="rotate(0 955.9 235.4)" stroke="#222" stroke-width="0.8" fill="#fff"/>
<ellipse cx="888.7" cy="126.2" rx="1.2" ry="1.5" transform="rotate(0 888.7 126.2)" stroke="#222" stroke-width="0.8" fill="#fff"/>
<ellipse cx="901.6" cy="167.7" rx="1.2" ry="1.5" transform="rotate(0 901.6 167.7)" stroke="#222" stroke-width="0.8" fill="#fff"/>
<ellipse cx="916.8" cy="190.4" rx="0.7" ry="0.8" transform="rotate(0 916.8 190.4)" stroke="#111" stroke-width="0.6" fill="#222"/>
<ellipse cx="884.8" cy="106.7" rx="0.7" ry="0.8" transform="rotate(0 884.8 106.7)" stroke="#111" stroke-width="0.6" fill="#222"/>
<ellipse cx="924.1" cy="198.9" rx="0.7" ry="0.8" transform="rotate(0 924.1 198.9)" stroke="#111" stroke-width="0.6" fill="#222"/>
<ellipse cx="944.4" cy="137.6" rx="0.7" ry="0.8" transform="rotate(0 944.4 137.6)" stroke="#111" stroke-width="0.6" fill="#222"/>
<ellipse cx="897.2" cy="156.5" rx="0.7" ry="0.8" transform="rotate(0 897.2 156.5)" stroke="#111" stroke-width="0.6" fill="#222"/>
<ellipse cx="943.8" cy="128.8" rx="0.7" ry="0.8" transform="rotate(0 943.8 128.8)" stroke="#111" stroke-width="0.6" fill="#222"/>
<ellipse cx="894.7" cy="106.1" rx="0.7" ry="0.8" transform="rotate(0 894.7 106.1)" stroke="#111" stroke-width="0.6" fill="#222"/>
<ellipse cx="938.5" cy="167.5" rx="0.7" ry="0.8" transform="rotate(0 938.5 167.5)" stroke="#111" stroke-width="0.6" fill="#222"/>
<ellipse cx="945" cy="225.2" rx="0.7" ry="0.8" transform="rotate(0 945 225.2)" stroke="#111" stroke-width="0.6" fill="#222"/>
<ellipse cx="889.6" cy="85.5" rx="0.7" ry="0.8" transform="rotate(0 889.6 85.5)" stroke="#111" stroke-width="0.6" fill="#222"/>
<ellipse cx="948" cy="140.9" rx="0.7" ry="0.8" transform="rotate(0 948 140.9)" stroke="#111" stroke-width="0.6" fill="#222"/>
<ellipse cx="943.2" cy="107" rx="0.7" ry="0.8" transform="rotate(0 943.2 107)" stroke="#111" stroke-width="0.6" fill="#222"/>
<ellipse cx="908.9" cy="206.5" rx="0.7" ry="0.8" transform="rotate(0 908.9 206.5)" stroke="#111" stroke-width="0.6" fill="#222"/>
<ellipse cx="902.1" cy="185.9" rx="0.7" ry="0.8" transform="rotate(0 902.1 185.9)" stroke="#111" stroke-width="0.6" fill="#222"/>
<ellipse cx="946.9" cy="197.7" rx="0.7" ry="0.8" transform="rotate(0 946.9 197.7)" stroke="#111" stroke-width="0.6" fill="#222"/>
<ellipse cx="944.7" cy="180.4" rx="0.7" ry="0.8" transform="rotate(0 944.7 180.4)" stroke="#111" stroke-width="0.6" fill="#222"/>
<ellipse cx="952.2" cy="244.9" rx="0.7" ry="0.8" transform="rotate(0 952.2 244.9)" stroke="#111" stroke-width="0.6" fill="#222"/>
<ellipse cx="921.7" cy="213.6" rx="0.7" ry="0.8" transform="rotate(0 921.7 213.6)" stroke="#111" stroke-width="0.6" fill="#222"/>
<ellipse cx="950.8" cy="238.8" rx="0.7" ry="0.8" transform="rotate(0 950.8 238.8)" stroke="#111" stroke-width="0.6" fill="#222"/>
<ellipse cx="942" cy="98.9" rx="0.7" ry="0.8" transform="rotate(0 942 98.9)" stroke="#111" stroke-width="0.6" fill="#222"/>
<ellipse cx="936" cy="109.4" rx="0.7" ry="0.8" transform="rotate(0 936 109.4)" stroke="#111" stroke-width="0.6" fill="#222"/>
<ellipse cx="948.1" cy="214.3" rx="0.7" ry="0.8" transform="rotate(0 948.1 214.3)" stroke="#111" stroke-width="0.6" fill="#222"/>
<ellipse cx="906.2" cy="122.4" rx="0.7" ry="0.8" transform="rotate(0 906.2 122.4)" stroke="#111" stroke-width="0.6" fill="#222"/>
<ellipse cx="903.9" cy="117.7" rx="0.7" ry="0.8" transform="rotate(0 903.9 117.7)" stroke="#111" stroke-width="0.6" fill="#222"/>
<ellipse cx="896.5" cy="114.3" rx="0.7" ry="0.8" transform="rotate(0 896.5 114.3)" stroke="#111" stroke-width="0.6" fill="#222"/>
<ellipse cx="896.7" cy="83" rx="0.7" ry="0.8" transform="rotate(0 896.7 83)" stroke="#111" stroke-width="0.6" fill="#222"/>
<ellipse cx="954.2" cy="106.7" rx="0.7" ry="0.8" transform="rotate(0 954.2 106.7)" stroke="#111" stroke-width="0.6" fill="#222"/>
<ellipse cx="949.5" cy="193.1" rx="0.7" ry="0.8" transform="rotate(0 949.5 193.1)" stroke="#111" stroke-width="0.6" fill="#222"/>
<ellipse cx="883.2" cy="133.5" rx="0.7" ry="0.8" transform="rotate(0 883.2 133.5)" stroke="#111" stroke-width="0.6" fill="#222"/>
<ellipse cx="953.4" cy="146.2" rx="0.7" ry="0.8" transform="rotate(0 953.4 146.2)" stroke="#111" stroke-width="0.6" fill="#222"/>
<ellipse cx="924.4" cy="159.9" rx="0.7" ry="0.8" transform="rotate(0 924.4 159.9)" stroke="#111" stroke-width="0.6" fill="#222"/>
<ellipse cx="916.5" cy="217.2" rx="0.7" ry="0.8" transform="rotate(0 916.5 217.2)" stroke="#111" stroke-width="0.6" fill="#222"/>
<ellipse cx="927.8" cy="191" rx="0.7" ry="0.8" transform="rotate(0 927.8 191)" stroke="#111" stroke-width="0.6" fill="#222"/>
<ellipse cx="931.7" cy="138.1" rx="0.7" ry="0.8" transform="rotate(0 931.7 138.1)" stroke="#111" stroke-width="0.6" fill="#222"/>
<ellipse cx="946.1" cy="102.6" rx="0.7" ry="0.8" transform="rotate(0 946.1 102.6)" stroke="#111" stroke-width="0.6" fill="#222"/>
<ellipse cx="911.1" cy="100.8" rx="0.7" ry="0.8" transform="rotate(0 911.1 100.8)" stroke="#111" stroke-width="0.6" fill="#222"/>
<ellipse cx="893.9" cy="137.1" rx="0.7" ry="0.8" transform="rotate(0 893.9 137.1)" stroke="#111" stroke-width="0.6" fill="#222"/>
<ellipse cx="908.9" cy="142.7" rx="0.7" ry="0.8" transform="rotate(0 908.9 142.7)" stroke="#111" stroke-width="0.6" fill="#222"/>
<ellipse cx="921.6" cy="153.1" rx="0.7" ry="0.8" transform="rotate(0 921.6 153.1)" stroke="#111" stroke-width="0.6" fill="#222"/>
<ellipse cx="935.4" cy="221.5" rx="0.7" ry="0.8" transform="rotate(0 935.4 221.5)" stroke="#111" stroke-width="0.6" fill="#222"/>
<ellipse cx="951.9" cy="163.7" rx="0.7" ry="0.8" transform="rotate(0 951.9 163.7)" stroke="#111" stroke-width="0.6" fill="#222"/>
<ellipse cx="902.5" cy="130.6" rx="0.7" ry="0.8" transform="rotate(0 902.5 130.6)" stroke="#111" stroke-width="0.6" fill="#222"/>
<ellipse cx="920.8" cy="117.8" rx="0.7" ry="0.8" transform="rotate(0 920.8 117.8)" stroke="#111" stroke-width="0.6" fill="#222"/>
<ellipse cx="933" cy="184.2" rx="0.7" ry="0.8" transform="rotate(0 933 184.2)" stroke="#111" stroke-width="0.6" fill="#222"/>
<ellipse cx="901.1" cy="139.4" rx="0.7" ry="0.8" transform="rotate(0 901.1 139.4)" stroke="#111" stroke-width="0.6" fill="#222"/>
<path d="M428.5 322.3 L441 320.5 L448.3 325 L462.5 326.4 L476.6 334.9 L493.6 344.8 L513.4 354.8 L533.2 361.8 L538.9 374.6 L533.2 385.9 L538.3 402.9 L537.5 448.2 L529 452.4 L527 473.7 L517.7 482.2 L514.6 502 L502.6 500 L473.5 483 L434 466 L429 457.4 Z" stroke="#222" stroke-width="1.1" fill="#fff" stroke-linejoin="round" />
<ellipse cx="435.4" cy="326" rx="2" ry="2.8" transform="rotate(0 435.4 326)" stroke="#222" stroke-width="0.9" fill="#fff"/>
<ellipse cx="454.9" cy="330.3" rx="2" ry="2.8" transform="rotate(0 454.9 330.3)" stroke="#222" stroke-width="0.9" fill="#fff"/>
<ellipse cx="467.2" cy="334.6" rx="2" ry="2.8" transform="rotate(0 467.2 334.6)" stroke="#222" stroke-width="0.9" fill="#fff"/>
<ellipse cx="482.8" cy="343.8" rx="2" ry="2.8" transform="rotate(0 482.8 343.8)" stroke="#222" stroke-width="0.9" fill="#fff"/>
<ellipse cx="496.5" cy="351.4" rx="2" ry="2.8" transform="rotate(0 496.5 351.4)" stroke="#222" stroke-width="0.9" fill="#fff"/>
<ellipse cx="506.4" cy="356.4" rx="2" ry="2.8" transform="rotate(0 506.4 356.4)" stroke="#222" stroke-width="0.9" fill="#fff"/>
<ellipse cx="531.8" cy="370.1" rx="2" ry="2.8" transform="rotate(0 531.8 370.1)" stroke="#222" stroke-width="0.9" fill="#fff"/>
<ellipse cx="531.9" cy="378.2" rx="2" ry="2.8" transform="rotate(0 531.9 378.2)" stroke="#222" stroke-width="0.9" fill="#fff"/>
<ellipse cx="531.3" cy="395.7" rx="2" ry="2.8" transform="rotate(0 531.3 395.7)" stroke="#222" stroke-width="0.9" fill="#fff"/>
<ellipse cx="533.4" cy="419.8" rx="2" ry="2.8" transform="rotate(0 533.4 419.8)" stroke="#222" stroke-width="0.9" fill="#fff"/>
<ellipse cx="533" cy="442.5" rx="2" ry="2.8" transform="rotate(0 533 442.5)" stroke="#222" stroke-width="0.9" fill="#fff"/>
<ellipse cx="523.4" cy="462.6" rx="2" ry="2.8" transform="rotate(0 523.4 462.6)" stroke="#222" stroke-width="0.9" fill="#fff"/>
<ellipse cx="511.6" cy="491.4" rx="2" ry="2.8" transform="rotate(0 511.6 491.4)" stroke="#222" stroke-width="0.9" fill="#fff"/>
<ellipse cx="500.1" cy="493.2" rx="2" ry="2.8" transform="rotate(0 500.1 493.2)" stroke="#222" stroke-width="0.9" fill="#fff"/>
<ellipse cx="490.4" cy="487.5" rx="2" ry="2.8" transform="rotate(0 490.4 487.5)" stroke="#222" stroke-width="0.9" fill="#fff"/>
<ellipse cx="455.6" cy="470.3" rx="2" ry="2.8" transform="rotate(0 455.6 470.3)" stroke="#222" stroke-width="0.9" fill="#fff"/>
<ellipse cx="433.5" cy="418" rx="2" ry="2.8" transform="rotate(0 433.5 418)" stroke="#222" stroke-width="0.9" fill="#fff"/>
<ellipse cx="433.4" cy="406.7" rx="2" ry="2.8" transform="rotate(0 433.4 406.7)" stroke="#222" stroke-width="0.9" fill="#fff"/>
<ellipse cx="433.4" cy="395.5" rx="2" ry="2.8" transform="rotate(0 433.4 395.5)" stroke="#222" stroke-width="0.9" fill="#fff"/>
<ellipse cx="433.3" cy="384.2" rx="2" ry="2.8" transform="rotate(0 433.3 384.2)" stroke="#222" stroke-width="0.9" fill="#fff"/>
<ellipse cx="433.3" cy="372.9" rx="2" ry="2.8" transform="rotate(0 433.3 372.9)" stroke="#222" stroke-width="0.9" fill="#fff"/>
<ellipse cx="433.2" cy="361.7" rx="2" ry="2.8" transform="rotate(0 433.2 361.7)" stroke="#222" stroke-width="0.9" fill="#fff"/>
<ellipse cx="433.2" cy="350.4" rx="2" ry="2.8" transform="rotate(0 433.2 350.4)" stroke="#222" stroke-width="0.9" fill="#fff"/>
<ellipse cx="433.2" cy="339.2" rx="2" ry="2.8" transform="rotate(0 433.2 339.2)" stroke="#222" stroke-width="0.9" fill="#fff"/>
<path d="M435.9 406.1 L442.7 408.5 L443.5 425 L435.9 422.5 Z" stroke="#222" stroke-width="1" fill="#fff" stroke-linejoin="round" />
<path d="M431.8 425.5 L444.5 429.5 L451 435.5 L451.3 443.8 L456.4 448.9 L468.4 452.3 L469.8 428.8 L479.8 432.2 L480 455.7 L473.5 462.6 L458.1 457.4 L447.9 454 L431.8 448.5 Z" stroke="#222" stroke-width="1" fill="#fff" stroke-linejoin="round" stroke-linecap="round" />
<path d="M451.3 443.8 L455 441.5 L466 445.5 L466 436" stroke="#222" stroke-width="0.9" fill="none" stroke-linejoin="round" stroke-linecap="round" />
<path d="M479 468 L486 471.5 L486 477 L479 473.5 Z" stroke="#222" stroke-width="0.9" fill="#fff" stroke-linejoin="round" stroke-linecap="round" />
<ellipse cx="497.3" cy="455.1" rx="2.3" ry="3" transform="rotate(-20 497.3 455.1)" stroke="#222" stroke-width="0.9" fill="#fff"/>
<ellipse cx="500.5" cy="416.7" rx="2.3" ry="2.8" transform="rotate(0 500.5 416.7)" stroke="#222" stroke-width="0.9" fill="#fff"/>
<ellipse cx="500.1" cy="484" rx="1.9" ry="2.6" transform="rotate(0 500.1 484)" stroke="#222" stroke-width="0.9" fill="#fff"/>
<ellipse cx="473.6" cy="353.5" rx="2.3" ry="2.6" transform="rotate(0 473.6 353.5)" stroke="#222" stroke-width="0.9" fill="#fff"/>
<ellipse cx="524.8" cy="373" rx="2.4" ry="2.7" transform="rotate(-20 524.8 373)" stroke="#222" stroke-width="0.9" fill="#fff"/>
<ellipse cx="465.1" cy="468.9" rx="2.2" ry="2.7" transform="rotate(-20 465.1 468.9)" stroke="#222" stroke-width="0.9" fill="#fff"/>
<ellipse cx="465.8" cy="376.8" rx="2.3" ry="2.6" transform="rotate(20 465.8 376.8)" stroke="#222" stroke-width="0.9" fill="#fff"/>
<ellipse cx="448.9" cy="406.3" rx="1.9" ry="2.5" transform="rotate(0 448.9 406.3)" stroke="#222" stroke-width="0.9" fill="#fff"/>
<ellipse cx="473.1" cy="420.2" rx="2.1" ry="2.6" transform="rotate(0 473.1 420.2)" stroke="#222" stroke-width="0.9" fill="#fff"/>
<ellipse cx="441.6" cy="365.2" rx="2.3" ry="2.6" transform="rotate(-20 441.6 365.2)" stroke="#222" stroke-width="0.9" fill="#fff"/>
<ellipse cx="511.1" cy="465.2" rx="2.3" ry="2.3" transform="rotate(0 511.1 465.2)" stroke="#222" stroke-width="0.9" fill="#fff"/>
<ellipse cx="468.5" cy="347.4" rx="2" ry="2.8" transform="rotate(0 468.5 347.4)" stroke="#222" stroke-width="0.9" fill="#fff"/>
<ellipse cx="448.1" cy="334.7" rx="1.9" ry="2.8" transform="rotate(20 448.1 334.7)" stroke="#222" stroke-width="0.9" fill="#fff"/>
<ellipse cx="473.3" cy="363.6" rx="2.2" ry="2.9" transform="rotate(20 473.3 363.6)" stroke="#222" stroke-width="0.9" fill="#fff"/>
<ellipse cx="517" cy="381.2" rx="1.9" ry="3" transform="rotate(-20 517 381.2)" stroke="#222" stroke-width="0.9" fill="#fff"/>
<ellipse cx="478.6" cy="409.1" rx="2.2" ry="2.6" transform="rotate(20 478.6 409.1)" stroke="#222" stroke-width="0.9" fill="#fff"/>
<ellipse cx="487.2" cy="353.1" rx="2.4" ry="2.9" transform="rotate(0 487.2 353.1)" stroke="#222" stroke-width="0.9" fill="#fff"/>
<ellipse cx="514" cy="446.6" rx="2.2" ry="2.8" transform="rotate(20 514 446.6)" stroke="#222" stroke-width="0.9" fill="#fff"/>
<ellipse cx="490.2" cy="441.8" rx="2.3" ry="2.5" transform="rotate(-20 490.2 441.8)" stroke="#222" stroke-width="0.9" fill="#fff"/>
<ellipse cx="522.5" cy="406.6" rx="2.3" ry="2.5" transform="rotate(20 522.5 406.6)" stroke="#222" stroke-width="0.9" fill="#fff"/>
<ellipse cx="479.6" cy="468.7" rx="2.2" ry="2.9" transform="rotate(20 479.6 468.7)" stroke="#222" stroke-width="0.9" fill="#fff"/>
<ellipse cx="458.7" cy="383.2" rx="2.4" ry="2.6" transform="rotate(0 458.7 383.2)" stroke="#222" stroke-width="0.9" fill="#fff"/>
<ellipse cx="485.7" cy="416.6" rx="1.9" ry="2.9" transform="rotate(20 485.7 416.6)" stroke="#222" stroke-width="0.9" fill="#fff"/>
<ellipse cx="502.6" cy="396.1" rx="2.2" ry="3" transform="rotate(-20 502.6 396.1)" stroke="#222" stroke-width="0.9" fill="#fff"/>
<ellipse cx="480.6" cy="361.6" rx="1.8" ry="2.4" transform="rotate(20 480.6 361.6)" stroke="#222" stroke-width="0.9" fill="#fff"/>
<ellipse cx="489" cy="395.9" rx="2" ry="2.8" transform="rotate(0 489 395.9)" stroke="#222" stroke-width="0.9" fill="#fff"/>
<ellipse cx="493.7" cy="363.7" rx="2.3" ry="2.3" transform="rotate(20 493.7 363.7)" stroke="#222" stroke-width="0.9" fill="#fff"/>
<ellipse cx="489.2" cy="375.2" rx="2" ry="2.7" transform="rotate(-20 489.2 375.2)" stroke="#222" stroke-width="0.9" fill="#fff"/>
<ellipse cx="442.8" cy="394.8" rx="2.1" ry="2.7" transform="rotate(20 442.8 394.8)" stroke="#222" stroke-width="0.9" fill="#fff"/>
<ellipse cx="491" cy="432.2" rx="1.9" ry="2.7" transform="rotate(-20 491 432.2)" stroke="#222" stroke-width="0.9" fill="#fff"/>
<ellipse cx="470" cy="398.9" rx="1.9" ry="2.5" transform="rotate(-20 470 398.9)" stroke="#222" stroke-width="0.9" fill="#fff"/>
<ellipse cx="460.9" cy="462.4" rx="2.3" ry="2.3" transform="rotate(-20 460.9 462.4)" stroke="#222" stroke-width="0.9" fill="#fff"/>
<ellipse cx="508.1" cy="372.4" rx="2.1" ry="3" transform="rotate(-20 508.1 372.4)" stroke="#222" stroke-width="0.9" fill="#fff"/>
<ellipse cx="499.7" cy="430.1" rx="2.2" ry="2.4" transform="rotate(0 499.7 430.1)" stroke="#222" stroke-width="0.9" fill="#fff"/>
<ellipse cx="487" cy="404.8" rx="2" ry="2.8" transform="rotate(-20 487 404.8)" stroke="#222" stroke-width="0.9" fill="#fff"/>
<ellipse cx="449.6" cy="398.5" rx="2.3" ry="2.7" transform="rotate(-20 449.6 398.5)" stroke="#222" stroke-width="0.9" fill="#fff"/>
<ellipse cx="506.7" cy="435.3" rx="2.1" ry="2.9" transform="rotate(20 506.7 435.3)" stroke="#222" stroke-width="0.9" fill="#fff"/>
<ellipse cx="507.9" cy="483.6" rx="2.1" ry="2.8" transform="rotate(20 507.9 483.6)" stroke="#222" stroke-width="0.9" fill="#fff"/>
<ellipse cx="476.3" cy="372.5" rx="2.3" ry="2.9" transform="rotate(0 476.3 372.5)" stroke="#222" stroke-width="0.9" fill="#fff"/>
<ellipse cx="437.9" cy="331.9" rx="2.4" ry="2.5" transform="rotate(20 437.9 331.9)" stroke="#222" stroke-width="0.9" fill="#fff"/>
<ellipse cx="494.8" cy="409.4" rx="2.4" ry="2.6" transform="rotate(0 494.8 409.4)" stroke="#222" stroke-width="0.9" fill="#fff"/>
<ellipse cx="443.8" cy="374" rx="2.1" ry="2.8" transform="rotate(20 443.8 374)" stroke="#222" stroke-width="0.9" fill="#fff"/>
<ellipse cx="529" cy="421.2" rx="2.2" ry="2.5" transform="rotate(-20 529 421.2)" stroke="#222" stroke-width="0.9" fill="#fff"/>
<ellipse cx="478.5" cy="391.1" rx="1.9" ry="2.3" transform="rotate(20 478.5 391.1)" stroke="#222" stroke-width="0.9" fill="#fff"/>
<ellipse cx="438.6" cy="343.1" rx="2.2" ry="2.5" transform="rotate(20 438.6 343.1)" stroke="#222" stroke-width="0.9" fill="#fff"/>
<ellipse cx="481.5" cy="379.2" rx="2.3" ry="2.3" transform="rotate(-20 481.5 379.2)" stroke="#222" stroke-width="0.9" fill="#fff"/>
<ellipse cx="516.2" cy="456.6" rx="1.9" ry="2.9" transform="rotate(20 516.2 456.6)" stroke="#222" stroke-width="0.9" fill="#fff"/>
<ellipse cx="497.5" cy="384.8" rx="1.9" ry="2.5" transform="rotate(-20 497.5 384.8)" stroke="#222" stroke-width="0.9" fill="#fff"/>
<ellipse cx="507.4" cy="424.8" rx="2.2" ry="2.7" transform="rotate(-20 507.4 424.8)" stroke="#222" stroke-width="0.9" fill="#fff"/>
<ellipse cx="456.7" cy="394.5" rx="2" ry="2.3" transform="rotate(0 456.7 394.5)" stroke="#222" stroke-width="0.9" fill="#fff"/>
<ellipse cx="449.3" cy="362.9" rx="2.4" ry="2.9" transform="rotate(0 449.3 362.9)" stroke="#222" stroke-width="0.9" fill="#fff"/>
<ellipse cx="494.6" cy="476" rx="1.9" ry="2.3" transform="rotate(-20 494.6 476)" stroke="#222" stroke-width="0.9" fill="#fff"/>
<line x1="513.3" y1="413.3" x2="513.3" y2="417.3" stroke="#262626" stroke-width="3" stroke-linecap="round"/>
<line x1="513.3" y1="413.3" x2="513.3" y2="417.3" stroke="#fff" stroke-width="1.4" stroke-linecap="round"/>
<line x1="517.4" y1="420.5" x2="517.4" y2="424.5" stroke="#262626" stroke-width="3" stroke-linecap="round"/>
<line x1="517.4" y1="420.5" x2="517.4" y2="424.5" stroke="#fff" stroke-width="1.4" stroke-linecap="round"/>
<line x1="488.4" y1="452.6" x2="488.4" y2="456.6" stroke="#262626" stroke-width="3" stroke-linecap="round"/>
<line x1="488.4" y1="452.6" x2="488.4" y2="456.6" stroke="#fff" stroke-width="1.4" stroke-linecap="round"/>
<line x1="450.7" y1="383.5" x2="450.7" y2="387.5" stroke="#262626" stroke-width="3" stroke-linecap="round"/>
<line x1="450.7" y1="383.5" x2="450.7" y2="387.5" stroke="#fff" stroke-width="1.4" stroke-linecap="round"/>
<line x1="512.9" y1="397.4" x2="512.9" y2="401.4" stroke="#262626" stroke-width="3" stroke-linecap="round"/>
<line x1="512.9" y1="397.4" x2="512.9" y2="401.4" stroke="#fff" stroke-width="1.4" stroke-linecap="round"/>
<line x1="462" y1="412.1" x2="462" y2="416.1" stroke="#262626" stroke-width="3" stroke-linecap="round"/>
<line x1="462" y1="412.1" x2="462" y2="416.1" stroke="#fff" stroke-width="1.4" stroke-linecap="round"/>
<ellipse cx="518.4" cy="440.9" rx="1.1" ry="1.4" transform="rotate(0 518.4 440.9)" stroke="#222" stroke-width="0.8" fill="#fff"/>
<ellipse cx="497.1" cy="468.1" rx="1.1" ry="1.4" transform="rotate(0 497.1 468.1)" stroke="#222" stroke-width="0.8" fill="#fff"/>
<ellipse cx="504.7" cy="402.1" rx="1.1" ry="1.4" transform="rotate(0 504.7 402.1)" stroke="#222" stroke-width="0.8" fill="#fff"/>
<ellipse cx="451.3" cy="372.5" rx="1.1" ry="1.4" transform="rotate(0 451.3 372.5)" stroke="#222" stroke-width="0.8" fill="#fff"/>
<ellipse cx="502.6" cy="389.1" rx="1.1" ry="1.4" transform="rotate(0 502.6 389.1)" stroke="#222" stroke-width="0.8" fill="#fff"/>
<ellipse cx="456" cy="338.7" rx="1.1" ry="1.4" transform="rotate(0 456 338.7)" stroke="#222" stroke-width="0.8" fill="#fff"/>
<ellipse cx="500.9" cy="423.9" rx="1.1" ry="1.4" transform="rotate(0 500.9 423.9)" stroke="#222" stroke-width="0.8" fill="#fff"/>
<ellipse cx="497.7" cy="436.6" rx="1.1" ry="1.4" transform="rotate(0 497.7 436.6)" stroke="#222" stroke-width="0.8" fill="#fff"/>
<ellipse cx="526.7" cy="380.5" rx="1.1" ry="1.4" transform="rotate(0 526.7 380.5)" stroke="#222" stroke-width="0.8" fill="#fff"/>
<ellipse cx="475.1" cy="347.6" rx="1.1" ry="1.4" transform="rotate(0 475.1 347.6)" stroke="#222" stroke-width="0.8" fill="#fff"/>
<ellipse cx="464.5" cy="339.1" rx="1.1" ry="1.4" transform="rotate(0 464.5 339.1)" stroke="#222" stroke-width="0.8" fill="#fff"/>
<ellipse cx="436.5" cy="354.9" rx="1.1" ry="1.4" transform="rotate(0 436.5 354.9)" stroke="#222" stroke-width="0.8" fill="#fff"/>
<ellipse cx="465.6" cy="387.2" rx="1.1" ry="1.4" transform="rotate(0 465.6 387.2)" stroke="#222" stroke-width="0.8" fill="#fff"/>
<ellipse cx="524.6" cy="386.8" rx="1.1" ry="1.4" transform="rotate(0 524.6 386.8)" stroke="#222" stroke-width="0.8" fill="#fff"/>
<ellipse cx="464.3" cy="351.9" rx="1.1" ry="1.4" transform="rotate(0 464.3 351.9)" stroke="#222" stroke-width="0.8" fill="#fff"/>
<ellipse cx="513" cy="365.1" rx="1.1" ry="1.4" transform="rotate(0 513 365.1)" stroke="#222" stroke-width="0.8" fill="#fff"/>
<ellipse cx="528.5" cy="437.1" rx="1.1" ry="1.4" transform="rotate(0 528.5 437.1)" stroke="#222" stroke-width="0.8" fill="#fff"/>
<ellipse cx="455.6" cy="402.6" rx="1.1" ry="1.4" transform="rotate(0 455.6 402.6)" stroke="#222" stroke-width="0.8" fill="#fff"/>
<ellipse cx="446.2" cy="460.4" rx="1.1" ry="1.4" transform="rotate(0 446.2 460.4)" stroke="#222" stroke-width="0.8" fill="#fff"/>
<ellipse cx="483.7" cy="476.6" rx="1.1" ry="1.4" transform="rotate(0 483.7 476.6)" stroke="#222" stroke-width="0.8" fill="#fff"/>
<ellipse cx="519.4" cy="399" rx="1.1" ry="1.4" transform="rotate(0 519.4 399)" stroke="#222" stroke-width="0.8" fill="#fff"/>
<ellipse cx="437" cy="387.6" rx="1.1" ry="1.4" transform="rotate(0 437 387.6)" stroke="#222" stroke-width="0.8" fill="#fff"/>
<ellipse cx="443.9" cy="386.5" rx="1.1" ry="1.4" transform="rotate(0 443.9 386.5)" stroke="#222" stroke-width="0.8" fill="#fff"/>
<ellipse cx="463.6" cy="403.6" rx="1.1" ry="1.4" transform="rotate(0 463.6 403.6)" stroke="#222" stroke-width="0.8" fill="#fff"/>
<ellipse cx="507.6" cy="363.3" rx="1.1" ry="1.4" transform="rotate(0 507.6 363.3)" stroke="#222" stroke-width="0.8" fill="#fff"/>
<ellipse cx="494.1" cy="391.4" rx="1.1" ry="1.4" transform="rotate(0 494.1 391.4)" stroke="#222" stroke-width="0.8" fill="#fff"/>
<ellipse cx="518.7" cy="388.2" rx="1.1" ry="1.4" transform="rotate(0 518.7 388.2)" stroke="#222" stroke-width="0.8" fill="#fff"/>
<ellipse cx="490.8" cy="423.4" rx="1.1" ry="1.4" transform="rotate(0 490.8 423.4)" stroke="#222" stroke-width="0.8" fill="#fff"/>
<ellipse cx="469.8" cy="382.4" rx="1.1" ry="1.4" transform="rotate(0 469.8 382.4)" stroke="#222" stroke-width="0.8" fill="#fff"/>
<ellipse cx="456.4" cy="350.7" rx="1.1" ry="1.4" transform="rotate(0 456.4 350.7)" stroke="#222" stroke-width="0.8" fill="#fff"/>
<ellipse cx="442.1" cy="403.2" rx="1.1" ry="1.4" transform="rotate(0 442.1 403.2)" stroke="#222" stroke-width="0.8" fill="#fff"/>
<ellipse cx="506.4" cy="451" rx="1.1" ry="1.4" transform="rotate(0 506.4 451)" stroke="#222" stroke-width="0.8" fill="#fff"/>
<ellipse cx="496" cy="403.6" rx="1.1" ry="1.4" transform="rotate(0 496 403.6)" stroke="#222" stroke-width="0.8" fill="#fff"/>
<ellipse cx="521.9" cy="414.2" rx="1.1" ry="1.4" transform="rotate(0 521.9 414.2)" stroke="#222" stroke-width="0.8" fill="#fff"/>
<ellipse cx="473.4" cy="404.3" rx="1.1" ry="1.4" transform="rotate(0 473.4 404.3)" stroke="#222" stroke-width="0.8" fill="#fff"/>
<ellipse cx="436.4" cy="397" rx="1.1" ry="1.4" transform="rotate(0 436.4 397)" stroke="#222" stroke-width="0.8" fill="#fff"/>
<ellipse cx="500.4" cy="444.2" rx="1.1" ry="1.4" transform="rotate(0 500.4 444.2)" stroke="#222" stroke-width="0.8" fill="#fff"/>
<ellipse cx="470.5" cy="341.3" rx="1.1" ry="1.4" transform="rotate(0 470.5 341.3)" stroke="#222" stroke-width="0.8" fill="#fff"/>
<ellipse cx="448.5" cy="355.3" rx="1.1" ry="1.4" transform="rotate(0 448.5 355.3)" stroke="#222" stroke-width="0.8" fill="#fff"/>
<ellipse cx="436.4" cy="376.1" rx="1.1" ry="1.4" transform="rotate(0 436.4 376.1)" stroke="#222" stroke-width="0.8" fill="#fff"/>
<ellipse cx="523" cy="436.9" rx="0.7" ry="0.8" transform="rotate(0 523 436.9)" stroke="#111" stroke-width="0.6" fill="#222"/>
<ellipse cx="516.6" cy="435.9" rx="0.7" ry="0.8" transform="rotate(0 516.6 435.9)" stroke="#111" stroke-width="0.6" fill="#222"/>
<ellipse cx="454.3" cy="365.8" rx="0.7" ry="0.8" transform="rotate(0 454.3 365.8)" stroke="#111" stroke-width="0.6" fill="#222"/>
<ellipse cx="503.2" cy="466" rx="0.7" ry="0.8" transform="rotate(0 503.2 466)" stroke="#111" stroke-width="0.6" fill="#222"/>
<ellipse cx="505.5" cy="419" rx="0.7" ry="0.8" transform="rotate(0 505.5 419)" stroke="#111" stroke-width="0.6" fill="#222"/>
<ellipse cx="489.8" cy="358" rx="0.7" ry="0.8" transform="rotate(0 489.8 358)" stroke="#111" stroke-width="0.6" fill="#222"/>
<ellipse cx="460.5" cy="355.8" rx="0.7" ry="0.8" transform="rotate(0 460.5 355.8)" stroke="#111" stroke-width="0.6" fill="#222"/>
<ellipse cx="482.3" cy="349.5" rx="0.7" ry="0.8" transform="rotate(0 482.3 349.5)" stroke="#111" stroke-width="0.6" fill="#222"/>
<ellipse cx="529.5" cy="415.6" rx="0.7" ry="0.8" transform="rotate(0 529.5 415.6)" stroke="#111" stroke-width="0.6" fill="#222"/>
<ellipse cx="447.2" cy="351.5" rx="0.7" ry="0.8" transform="rotate(0 447.2 351.5)" stroke="#111" stroke-width="0.6" fill="#222"/>
<ellipse cx="484.5" cy="441.4" rx="0.7" ry="0.8" transform="rotate(0 484.5 441.4)" stroke="#111" stroke-width="0.6" fill="#222"/>
<ellipse cx="517.4" cy="462.9" rx="0.7" ry="0.8" transform="rotate(0 517.4 462.9)" stroke="#111" stroke-width="0.6" fill="#222"/>
<ellipse cx="460.4" cy="334" rx="0.7" ry="0.8" transform="rotate(0 460.4 334)" stroke="#111" stroke-width="0.6" fill="#222"/>
<ellipse cx="524.7" cy="391.5" rx="0.7" ry="0.8" transform="rotate(0 524.7 391.5)" stroke="#111" stroke-width="0.6" fill="#222"/>
<ellipse cx="521.1" cy="368.9" rx="0.7" ry="0.8" transform="rotate(0 521.1 368.9)" stroke="#111" stroke-width="0.6" fill="#222"/>
<ellipse cx="490.4" cy="470.4" rx="0.7" ry="0.8" transform="rotate(0 490.4 470.4)" stroke="#111" stroke-width="0.6" fill="#222"/>
<ellipse cx="509.7" cy="453.5" rx="0.7" ry="0.8" transform="rotate(0 509.7 453.5)" stroke="#111" stroke-width="0.6" fill="#222"/>
<ellipse cx="507.6" cy="477.9" rx="0.7" ry="0.8" transform="rotate(0 507.6 477.9)" stroke="#111" stroke-width="0.6" fill="#222"/>
<ellipse cx="498.4" cy="449.1" rx="0.7" ry="0.8" transform="rotate(0 498.4 449.1)" stroke="#111" stroke-width="0.6" fill="#222"/>
<ellipse cx="488.6" cy="448.5" rx="0.7" ry="0.8" transform="rotate(0 488.6 448.5)" stroke="#111" stroke-width="0.6" fill="#222"/>
<ellipse cx="485.3" cy="461.4" rx="0.7" ry="0.8" transform="rotate(0 485.3 461.4)" stroke="#111" stroke-width="0.6" fill="#222"/>
<ellipse cx="500.8" cy="377.5" rx="0.7" ry="0.8" transform="rotate(0 500.8 377.5)" stroke="#111" stroke-width="0.6" fill="#222"/>
<ellipse cx="498" cy="462" rx="0.7" ry="0.8" transform="rotate(0 498 462)" stroke="#111" stroke-width="0.6" fill="#222"/>
<ellipse cx="485.5" cy="480.4" rx="0.7" ry="0.8" transform="rotate(0 485.5 480.4)" stroke="#111" stroke-width="0.6" fill="#222"/>
<ellipse cx="520.3" cy="427.6" rx="0.7" ry="0.8" transform="rotate(0 520.3 427.6)" stroke="#111" stroke-width="0.6" fill="#222"/>
<ellipse cx="526" cy="395.5" rx="0.7" ry="0.8" transform="rotate(0 526 395.5)" stroke="#111" stroke-width="0.6" fill="#222"/>
<ellipse cx="530.3" cy="374" rx="0.7" ry="0.8" transform="rotate(0 530.3 374)" stroke="#111" stroke-width="0.6" fill="#222"/>
<ellipse cx="460.8" cy="398.9" rx="0.7" ry="0.8" transform="rotate(0 460.8 398.9)" stroke="#111" stroke-width="0.6" fill="#222"/>
<ellipse cx="488.4" cy="385.4" rx="0.7" ry="0.8" transform="rotate(0 488.4 385.4)" stroke="#111" stroke-width="0.6" fill="#222"/>
<ellipse cx="439.5" cy="381.6" rx="0.7" ry="0.8" transform="rotate(0 439.5 381.6)" stroke="#111" stroke-width="0.6" fill="#222"/>
<ellipse cx="462.3" cy="391.5" rx="0.7" ry="0.8" transform="rotate(0 462.3 391.5)" stroke="#111" stroke-width="0.6" fill="#222"/>
<ellipse cx="521.1" cy="459.7" rx="0.7" ry="0.8" transform="rotate(0 521.1 459.7)" stroke="#111" stroke-width="0.6" fill="#222"/>
<ellipse cx="458.1" cy="359.6" rx="0.7" ry="0.8" transform="rotate(0 458.1 359.6)" stroke="#111" stroke-width="0.6" fill="#222"/>
<ellipse cx="493.8" cy="356.6" rx="0.7" ry="0.8" transform="rotate(0 493.8 356.6)" stroke="#111" stroke-width="0.6" fill="#222"/>
<ellipse cx="493.6" cy="465.8" rx="0.7" ry="0.8" transform="rotate(0 493.6 465.8)" stroke="#111" stroke-width="0.6" fill="#222"/>
<ellipse cx="450.7" cy="460.6" rx="0.7" ry="0.8" transform="rotate(0 450.7 460.6)" stroke="#111" stroke-width="0.6" fill="#222"/>
<ellipse cx="446.5" cy="390.1" rx="0.7" ry="0.8" transform="rotate(0 446.5 390.1)" stroke="#111" stroke-width="0.6" fill="#222"/>
<ellipse cx="444.7" cy="342.8" rx="0.7" ry="0.8" transform="rotate(0 444.7 342.8)" stroke="#111" stroke-width="0.6" fill="#222"/>
<ellipse cx="505.6" cy="443.8" rx="0.7" ry="0.8" transform="rotate(0 505.6 443.8)" stroke="#111" stroke-width="0.6" fill="#222"/>
<ellipse cx="448.8" cy="342.2" rx="0.7" ry="0.8" transform="rotate(0 448.8 342.2)" stroke="#111" stroke-width="0.6" fill="#222"/>
<ellipse cx="466" cy="361.2" rx="0.7" ry="0.8" transform="rotate(0 466 361.2)" stroke="#111" stroke-width="0.6" fill="#222"/>
<ellipse cx="460.2" cy="363.1" rx="0.7" ry="0.8" transform="rotate(0 460.2 363.1)" stroke="#111" stroke-width="0.6" fill="#222"/>
<ellipse cx="461.7" cy="346.9" rx="0.7" ry="0.8" transform="rotate(0 461.7 346.9)" stroke="#111" stroke-width="0.6" fill="#222"/>
<ellipse cx="502.7" cy="406.5" rx="0.7" ry="0.8" transform="rotate(0 502.7 406.5)" stroke="#111" stroke-width="0.6" fill="#222"/>
<ellipse cx="496.7" cy="395.5" rx="0.7" ry="0.8" transform="rotate(0 496.7 395.5)" stroke="#111" stroke-width="0.6" fill="#222"/>
<ellipse cx="490.4" cy="483.4" rx="0.7" ry="0.8" transform="rotate(0 490.4 483.4)" stroke="#111" stroke-width="0.6" fill="#222"/>
<ellipse cx="456.4" cy="368.8" rx="0.7" ry="0.8" transform="rotate(0 456.4 368.8)" stroke="#111" stroke-width="0.6" fill="#222"/>
<ellipse cx="504.2" cy="461.2" rx="0.7" ry="0.8" transform="rotate(0 504.2 461.2)" stroke="#111" stroke-width="0.6" fill="#222"/>
<ellipse cx="523.9" cy="401.2" rx="0.7" ry="0.8" transform="rotate(0 523.9 401.2)" stroke="#111" stroke-width="0.6" fill="#222"/>
<ellipse cx="436.4" cy="404.4" rx="0.7" ry="0.8" transform="rotate(0 436.4 404.4)" stroke="#111" stroke-width="0.6" fill="#222"/>
<path d="M676.9 186.1 L682.3 183 L682.3 176.1 L686.1 173.4 L692.2 175.4 L705.2 181.5 L706.8 183 L712.1 181.5 L716 185.3 L716 187.6 L729 191.5 L732.8 190.7 L737.4 194.5 L746.6 199.1 L750.5 199.9 L754.3 203 L755.1 206 L760.4 204 L765 206 L769.6 209.8 L775.7 216 L776.6 225.1 L776.6 322.7 L780.7 328.1 L779.9 355.3 L773.9 368.8 L768.5 374.8 L752.2 366.6 L748.1 363.4 L741.4 364.7 L722.4 353.9 L708.8 347.1 L692.5 333.6 L688.5 322.7 L687.1 295.6 L683.1 287.5 L683.9 260.3 L677.6 254.9 Z" stroke="#222" stroke-width="1.1" fill="#fff" stroke-linejoin="round" />
<path d="M682.3 183 L686.1 181 L693 184.6 L694.2 188.7 L693 193" stroke="#222" stroke-width="0.9" fill="none" stroke-linejoin="round" stroke-linecap="round" />
<path d="M694.2 188.7 L706.8 183" stroke="#222" stroke-width="0.9" fill="none" stroke-linejoin="round" stroke-linecap="round" />
<path d="M686.1 181 L686.1 176.1" stroke="#222" stroke-width="0.9" fill="none" stroke-linejoin="round" stroke-linecap="round" />
<path d="M701.4 198.4 L703 194.5 L716 187.6" stroke="#222" stroke-width="0.9" fill="none" stroke-linejoin="round" stroke-linecap="round" />
<path d="M703 194.5 L694.5 190.7" stroke="#222" stroke-width="0.9" fill="none" stroke-linejoin="round" stroke-linecap="round" />
<path d="M714.4 199.9 L730.5 192.2 L737.4 194.5" stroke="#222" stroke-width="0.9" fill="none" stroke-linejoin="round" stroke-linecap="round" />
<path d="M730.5 192.2 L732.8 190.7" stroke="#222" stroke-width="0.9" fill="none" stroke-linejoin="round" stroke-linecap="round" />
<path d="M716 200.7 L716 195.3" stroke="#222" stroke-width="0.9" fill="none" stroke-linejoin="round" stroke-linecap="round" />
<path d="M737.4 213.7 L742 207.5 L741.3 203 L746.6 199.1" stroke="#222" stroke-width="0.9" fill="none" stroke-linejoin="round" stroke-linecap="round" />
<path d="M742 207.5 L749.7 210.6 L755.1 206" stroke="#222" stroke-width="0.9" fill="none" stroke-linejoin="round" stroke-linecap="round" />
<path d="M749.7 210.6 L748.2 219.8" stroke="#222" stroke-width="0.9" fill="none" stroke-linejoin="round" stroke-linecap="round" />
<path d="M755.8 222.9 L755.8 214.4 L762 216.7 L769.6 210.2" stroke="#222" stroke-width="0.9" fill="none" stroke-linejoin="round" stroke-linecap="round" />
<path d="M762 216.7 L762 229.8 L759.7 229" stroke="#222" stroke-width="0.9" fill="none" stroke-linejoin="round" stroke-linecap="round" />
<path d="M762 229.8 L775.7 222.9" stroke="#222" stroke-width="0.9" fill="none" stroke-linejoin="round" stroke-linecap="round" />
<path d="M764.4 221 L765.2 333.6 L760.3 339" stroke="#222" stroke-width="0.9" fill="none" stroke-linejoin="round" stroke-linecap="round" />
<path d="M677.6 185.8 L685.8 189.3 L698 192 L703.4 198 L715.6 201.2 L723.7 204.7 L738.6 212.9 L744.1 219.7 L754.9 222.4 L760.3 230.5 L760.9 249.5 L759 254.9 L760.3 333.6 L754.9 339 L749.5 347.1 L748.1 363.4 L741.4 364.7 L722.4 353.9 L708.8 347.1 L692.5 333.6 L688.5 322.7 L687.1 295.6 L683.1 287.5 L683.9 260.3 L677.6 254.9 Z" stroke="#222" stroke-width="1.2" fill="#fff" stroke-linejoin="round" />
<clipPath id="c1"><path d="M677.6 185.8 L685.8 189.3 L698 192 L703.4 198 L715.6 201.2 L723.7 204.7 L738.6 212.9 L744.1 219.7 L754.9 222.4 L760.3 230.5 L760.9 249.5 L759 254.9 L760.3 333.6 L754.9 339 L749.5 347.1 L748.1 363.4 L741.4 364.7 L722.4 353.9 L708.8 347.1 L692.5 333.6 L688.5 322.7 L687.1 295.6 L683.1 287.5 L683.9 260.3 L677.6 254.9 Z"/></clipPath>
<g clip-path="url(#c1)" fill="none" stroke-linejoin="round" stroke-linecap="round">
<path d="M677.6 185.8 L685.8 189.3 L698 192 L703.4 198 L715.6 201.2 L723.7 204.7 L738.6 212.9 L744.1 219.7 L754.9 222.4 L760.3 230.5 L760.9 249.5 L759 254.9 L760.3 333.6 L754.9 339 L749.5 347.1 L748.1 363.4 L741.4 364.7 L722.4 353.9 L708.8 347.1 L692.5 333.6 L688.5 322.7 L687.1 295.6 L683.1 287.5 L683.9 260.3 L677.6 254.9 Z" stroke="#2a2a2a" stroke-width="6.4"/>
<path d="M677.6 185.8 L685.8 189.3 L698 192 L703.4 198 L715.6 201.2 L723.7 204.7 L738.6 212.9 L744.1 219.7 L754.9 222.4 L760.3 230.5 L760.9 249.5 L759 254.9 L760.3 333.6 L754.9 339 L749.5 347.1 L748.1 363.4 L741.4 364.7 L722.4 353.9 L708.8 347.1 L692.5 333.6 L688.5 322.7 L687.1 295.6 L683.1 287.5 L683.9 260.3 L677.6 254.9 Z" stroke="#fff" stroke-width="4.4"/>
<path d="M709.8 332.4 L709.8 337 L714.4 339.3 L719 341.7 L723.6 344 L728.2 346.3 L728.2 341.7 L728.2 337.1 L723.6 334.8 L719 332.5 L714.4 330.1 L709.8 327.8 L709.8 332.4 L709.8 337" stroke="#1c1c1c" stroke-width="4.3"/>
<path d="M705.2 279.4 L700.6 277.1 L696 274.7 L691.4 272.4 L691.4 267.8 L696 270.1 L700.6 272.5 L705.2 274.8 L705.2 270.2 L705.2 265.6 L709.8 268 L714.4 270.3 L719 272.7 L723.6 275 L723.6 270.4 L723.6 265.8 L723.6 261.2 L723.6 256.6 L719 254.3 L714.4 251.9 L709.8 249.6" stroke="#1c1c1c" stroke-width="4.3"/>
<path d="M691.4 198.8 L686.8 196.5 L686.8 201.1 L691.4 203.4 L696 205.7 L700.6 208.1 L700.6 212.7 L700.6 217.3 L700.6 221.9" stroke="#1c1c1c" stroke-width="4.3"/>
<path d="M723.6 288.8 L723.6 284.2 L719 281.9 L714.4 279.5 L714.4 284.1" stroke="#1c1c1c" stroke-width="4.3"/>
<path d="M709.8 295.6 L709.8 291 L709.8 286.4 L714.4 288.7 L719 291.1 L723.6 293.4 L728.2 295.7 L728.2 300.3 L728.2 304.9 L728.2 309.5 L728.2 314.1 L732.8 316.5 L737.4 318.8 L742 321.2 L746.6 323.5 L746.6 328.1 L746.6 332.7 L746.6 337.3 L746.6 341.9" stroke="#1c1c1c" stroke-width="4.3"/>
<path d="M696 251.7 L696 247.1 L696 242.5 L696 237.9 L691.4 235.6 L686.8 233.3" stroke="#1c1c1c" stroke-width="4.3"/>
<path d="M696 325.3 L700.6 327.7" stroke="#1c1c1c" stroke-width="4.3"/>
<path d="M709.8 304.8 L709.8 309.4 L709.8 314 L709.8 318.6 L709.8 323.2 L714.4 325.5 L719 327.9" stroke="#1c1c1c" stroke-width="4.3"/>
<path d="M737.4 236 L737.4 231.4 L742 233.8 L746.6 236.1 L751.2 238.5" stroke="#1c1c1c" stroke-width="4.3"/>
<path d="M719 245.1 L719 240.5 L719 235.9 L719 231.3 L719 226.7 L714.4 224.3 L709.8 222 L709.8 217.4 L709.8 212.8 L709.8 208.2 L714.4 210.5 L714.4 215.1 L714.4 219.7 L714.4 224.3 L714.4 228.9" stroke="#1c1c1c" stroke-width="4.3"/>
<path d="M709.8 245 L705.2 242.6 L700.6 240.3 L700.6 244.9 L700.6 249.5 L705.2 251.8" stroke="#1c1c1c" stroke-width="4.3"/>
<path d="M751.2 243.1 L751.2 247.7 L746.6 245.3 L742 243 L742 247.6 L742 252.2 L742 256.8 L742 261.4 L746.6 263.7 L751.2 266.1" stroke="#1c1c1c" stroke-width="4.3"/>
<path d="M742 279.8 L737.4 277.4 L737.4 282 L737.4 286.6 L742 289 L742 284.4 L742 279.8 L742 275.2 L742 270.6 L746.6 272.9 L746.6 277.5 L746.6 282.1 L746.6 286.7 L746.6 291.3 L742 289 L737.4 286.6 L732.8 284.3" stroke="#1c1c1c" stroke-width="4.3"/>
<path d="M714.4 302.5 L714.4 297.9 L714.4 293.3" stroke="#1c1c1c" stroke-width="4.3"/>
<path d="M696 265.5 L691.4 263.2 L691.4 258.6 L696 260.9 L700.6 263.3 L700.6 258.7 L700.6 254.1" stroke="#1c1c1c" stroke-width="4.3"/>
<path d="M723.6 210.6 L723.6 215.2 L723.6 219.8 L723.6 224.4 L723.6 229" stroke="#1c1c1c" stroke-width="4.3"/>
<path d="M728.2 318.7 L728.2 323.3 L728.2 327.9" stroke="#1c1c1c" stroke-width="4.3"/>
<path d="M705.2 288.6 L700.6 286.3 L700.6 290.9 L700.6 295.5 L696 293.1 L691.4 290.8" stroke="#1c1c1c" stroke-width="4.3"/>
<path d="M732.8 256.7 L728.2 254.3 L723.6 252 L728.2 254.3 L732.8 256.7 L732.8 252.1 L732.8 247.5 L732.8 242.9" stroke="#1c1c1c" stroke-width="4.3"/>
<path d="M714.4 316.3 L714.4 311.7" stroke="#1c1c1c" stroke-width="4.3"/>
<path d="M700.6 231.1 L700.6 235.7 L705.2 238 L709.8 240.4 L714.4 242.7 L709.8 240.4 L705.2 238 L705.2 233.4 L705.2 228.8 L709.8 231.2 L714.4 233.5" stroke="#1c1c1c" stroke-width="4.3"/>
<path d="M737.4 222.2 L742 224.6 L746.6 226.9 L751.2 229.3" stroke="#1c1c1c" stroke-width="4.3"/>
<path d="M742 344.2 L737.4 341.8 L732.8 339.5 L732.8 334.9 L737.4 337.2 L742 339.6 L742 335 L742 330.4" stroke="#1c1c1c" stroke-width="4.3"/>
<path d="M732.8 298.1 L732.8 293.5 L737.4 295.8 L742 298.2 L746.6 300.5 L751.2 302.9" stroke="#1c1c1c" stroke-width="4.3"/>
<path d="M732.8 311.9 L732.8 307.3" stroke="#1c1c1c" stroke-width="4.3"/>
<path d="M709.8 258.8 L705.2 256.4" stroke="#1c1c1c" stroke-width="4.3"/>
<path d="M737.4 272.8 L732.8 270.5 L728.2 268.1 L728.2 272.7 L728.2 277.3 L728.2 281.9 L728.2 286.5 L732.8 288.9" stroke="#1c1c1c" stroke-width="4.3"/>
<path d="M700.6 313.9 L696 311.5 L696 306.9 L696 302.3 L696 297.7" stroke="#1c1c1c" stroke-width="4.3"/>
<path d="M719 318.7 L719 314.1 L719 309.5" stroke="#1c1c1c" stroke-width="4.3"/>
<path d="M728.2 222.1 L728.2 217.5 L728.2 212.9" stroke="#1c1c1c" stroke-width="4.3"/>
<path d="M686.8 210.3 L686.8 205.7" stroke="#1c1c1c" stroke-width="4.3"/>
<path d="M751.2 252.3 L751.2 256.9 L751.2 261.5" stroke="#1c1c1c" stroke-width="4.3"/>
<path d="M691.4 226.4 L696 228.7 L696 224.1 L696 219.5 L696 224.1" stroke="#1c1c1c" stroke-width="4.3"/>
<path d="M746.6 259.1 L746.6 254.5 L746.6 259.1" stroke="#1c1c1c" stroke-width="4.3"/>
<path d="M714.4 261.1 L714.4 265.7 L719 268.1" stroke="#1c1c1c" stroke-width="4.3"/>
<path d="M751.2 316.7 L746.6 314.3 L742 312 L737.4 309.6 L737.4 305 L737.4 300.4" stroke="#1c1c1c" stroke-width="4.3"/>
<path d="M696 279.3 L700.6 281.7" stroke="#1c1c1c" stroke-width="4.3"/>
<path d="M728.2 235.9 L732.8 238.3 L737.4 240.6" stroke="#1c1c1c" stroke-width="4.3"/>
<path d="M746.6 309.7 L742 307.4" stroke="#1c1c1c" stroke-width="4.3"/>
<path d="M751.2 321.3 L751.2 325.9 L751.2 321.3" stroke="#1c1c1c" stroke-width="4.3"/>
<path d="M705.2 320.8 L700.6 318.5" stroke="#1c1c1c" stroke-width="4.3"/>
<path d="M742 266 L746.6 268.3 L742 266 L737.4 263.6" stroke="#1c1c1c" stroke-width="4.3"/>
<path d="M719 258.9 L714.4 256.5" stroke="#1c1c1c" stroke-width="4.3"/>
<path d="M728.2 226.7 L728.2 231.3 L728.2 226.7" stroke="#1c1c1c" stroke-width="4.3"/>
<path d="M696 283.9 L691.4 281.6" stroke="#1c1c1c" stroke-width="4.3"/>
<path d="M742 353.4 L737.4 351" stroke="#1c1c1c" stroke-width="4.3"/>
<path d="M719 277.3 L723.6 279.6" stroke="#1c1c1c" stroke-width="4.3"/>
<path d="M728.2 350.9 L732.8 353.3 L737.4 355.6 L742 358" stroke="#1c1c1c" stroke-width="4.3"/>
<path d="M686.8 256.3 L686.8 251.7 L686.8 247.1 L686.8 242.5" stroke="#1c1c1c" stroke-width="4.3"/>
<path d="M686.8 219.5 L686.8 214.9" stroke="#1c1c1c" stroke-width="4.3"/>
<path d="M700.6 323.1 L696 320.7" stroke="#1c1c1c" stroke-width="4.3"/>
<path d="M751.2 279.9 L751.2 284.5 L751.2 289.1" stroke="#1c1c1c" stroke-width="4.3"/>
<path d="M728.2 258.9 L728.2 263.5" stroke="#1c1c1c" stroke-width="4.3"/>
<path d="M700.6 309.3 L700.6 304.7 L700.6 309.3" stroke="#1c1c1c" stroke-width="4.3"/>
<path d="M719 222.1 L719 217.5 L719 212.9 L719 208.3" stroke="#1c1c1c" stroke-width="4.3"/>
<path d="M728.2 245.1 L728.2 240.5" stroke="#1c1c1c" stroke-width="4.3"/>
<path d="M719 346.3 L714.4 343.9" stroke="#1c1c1c" stroke-width="4.3"/>
<path d="M732.8 325.7 L737.4 328" stroke="#1c1c1c" stroke-width="4.3"/>
<path d="M709.8 332.4 L709.8 337 L714.4 339.3 L719 341.7 L723.6 344 L728.2 346.3 L728.2 341.7 L728.2 337.1 L723.6 334.8 L719 332.5 L714.4 330.1 L709.8 327.8 L709.8 332.4 L709.8 337" stroke="#fff" stroke-width="2.5"/>
<path d="M705.2 279.4 L700.6 277.1 L696 274.7 L691.4 272.4 L691.4 267.8 L696 270.1 L700.6 272.5 L705.2 274.8 L705.2 270.2 L705.2 265.6 L709.8 268 L714.4 270.3 L719 272.7 L723.6 275 L723.6 270.4 L723.6 265.8 L723.6 261.2 L723.6 256.6 L719 254.3 L714.4 251.9 L709.8 249.6" stroke="#fff" stroke-width="2.5"/>
<path d="M691.4 198.8 L686.8 196.5 L686.8 201.1 L691.4 203.4 L696 205.7 L700.6 208.1 L700.6 212.7 L700.6 217.3 L700.6 221.9" stroke="#fff" stroke-width="2.5"/>
<path d="M723.6 288.8 L723.6 284.2 L719 281.9 L714.4 279.5 L714.4 284.1" stroke="#fff" stroke-width="2.5"/>
<path d="M709.8 295.6 L709.8 291 L709.8 286.4 L714.4 288.7 L719 291.1 L723.6 293.4 L728.2 295.7 L728.2 300.3 L728.2 304.9 L728.2 309.5 L728.2 314.1 L732.8 316.5 L737.4 318.8 L742 321.2 L746.6 323.5 L746.6 328.1 L746.6 332.7 L746.6 337.3 L746.6 341.9" stroke="#fff" stroke-width="2.5"/>
<path d="M696 251.7 L696 247.1 L696 242.5 L696 237.9 L691.4 235.6 L686.8 233.3" stroke="#fff" stroke-width="2.5"/>
<path d="M696 325.3 L700.6 327.7" stroke="#fff" stroke-width="2.5"/>
<path d="M709.8 304.8 L709.8 309.4 L709.8 314 L709.8 318.6 L709.8 323.2 L714.4 325.5 L719 327.9" stroke="#fff" stroke-width="2.5"/>
<path d="M737.4 236 L737.4 231.4 L742 233.8 L746.6 236.1 L751.2 238.5" stroke="#fff" stroke-width="2.5"/>
<path d="M719 245.1 L719 240.5 L719 235.9 L719 231.3 L719 226.7 L714.4 224.3 L709.8 222 L709.8 217.4 L709.8 212.8 L709.8 208.2 L714.4 210.5 L714.4 215.1 L714.4 219.7 L714.4 224.3 L714.4 228.9" stroke="#fff" stroke-width="2.5"/>
<path d="M709.8 245 L705.2 242.6 L700.6 240.3 L700.6 244.9 L700.6 249.5 L705.2 251.8" stroke="#fff" stroke-width="2.5"/>
<path d="M751.2 243.1 L751.2 247.7 L746.6 245.3 L742 243 L742 247.6 L742 252.2 L742 256.8 L742 261.4 L746.6 263.7 L751.2 266.1" stroke="#fff" stroke-width="2.5"/>
<path d="M742 279.8 L737.4 277.4 L737.4 282 L737.4 286.6 L742 289 L742 284.4 L742 279.8 L742 275.2 L742 270.6 L746.6 272.9 L746.6 277.5 L746.6 282.1 L746.6 286.7 L746.6 291.3 L742 289 L737.4 286.6 L732.8 284.3" stroke="#fff" stroke-width="2.5"/>
<path d="M714.4 302.5 L714.4 297.9 L714.4 293.3" stroke="#fff" stroke-width="2.5"/>
<path d="M696 265.5 L691.4 263.2 L691.4 258.6 L696 260.9 L700.6 263.3 L700.6 258.7 L700.6 254.1" stroke="#fff" stroke-width="2.5"/>
<path d="M723.6 210.6 L723.6 215.2 L723.6 219.8 L723.6 224.4 L723.6 229" stroke="#fff" stroke-width="2.5"/>
<path d="M728.2 318.7 L728.2 323.3 L728.2 327.9" stroke="#fff" stroke-width="2.5"/>
<path d="M705.2 288.6 L700.6 286.3 L700.6 290.9 L700.6 295.5 L696 293.1 L691.4 290.8" stroke="#fff" stroke-width="2.5"/>
<path d="M732.8 256.7 L728.2 254.3 L723.6 252 L728.2 254.3 L732.8 256.7 L732.8 252.1 L732.8 247.5 L732.8 242.9" stroke="#fff" stroke-width="2.5"/>
<path d="M714.4 316.3 L714.4 311.7" stroke="#fff" stroke-width="2.5"/>
<path d="M700.6 231.1 L700.6 235.7 L705.2 238 L709.8 240.4 L714.4 242.7 L709.8 240.4 L705.2 238 L705.2 233.4 L705.2 228.8 L709.8 231.2 L714.4 233.5" stroke="#fff" stroke-width="2.5"/>
<path d="M737.4 222.2 L742 224.6 L746.6 226.9 L751.2 229.3" stroke="#fff" stroke-width="2.5"/>
<path d="M742 344.2 L737.4 341.8 L732.8 339.5 L732.8 334.9 L737.4 337.2 L742 339.6 L742 335 L742 330.4" stroke="#fff" stroke-width="2.5"/>
<path d="M732.8 298.1 L732.8 293.5 L737.4 295.8 L742 298.2 L746.6 300.5 L751.2 302.9" stroke="#fff" stroke-width="2.5"/>
<path d="M732.8 311.9 L732.8 307.3" stroke="#fff" stroke-width="2.5"/>
<path d="M709.8 258.8 L705.2 256.4" stroke="#fff" stroke-width="2.5"/>
<path d="M737.4 272.8 L732.8 270.5 L728.2 268.1 L728.2 272.7 L728.2 277.3 L728.2 281.9 L728.2 286.5 L732.8 288.9" stroke="#fff" stroke-width="2.5"/>
<path d="M700.6 313.9 L696 311.5 L696 306.9 L696 302.3 L696 297.7" stroke="#fff" stroke-width="2.5"/>
<path d="M719 318.7 L719 314.1 L719 309.5" stroke="#fff" stroke-width="2.5"/>
<path d="M728.2 222.1 L728.2 217.5 L728.2 212.9" stroke="#fff" stroke-width="2.5"/>
<path d="M686.8 210.3 L686.8 205.7" stroke="#fff" stroke-width="2.5"/>
<path d="M751.2 252.3 L751.2 256.9 L751.2 261.5" stroke="#fff" stroke-width="2.5"/>
<path d="M691.4 226.4 L696 228.7 L696 224.1 L696 219.5 L696 224.1" stroke="#fff" stroke-width="2.5"/>
<path d="M746.6 259.1 L746.6 254.5 L746.6 259.1" stroke="#fff" stroke-width="2.5"/>
<path d="M714.4 261.1 L714.4 265.7 L719 268.1" stroke="#fff" stroke-width="2.5"/>
<path d="M751.2 316.7 L746.6 314.3 L742 312 L737.4 309.6 L737.4 305 L737.4 300.4" stroke="#fff" stroke-width="2.5"/>
<path d="M696 279.3 L700.6 281.7" stroke="#fff" stroke-width="2.5"/>
<path d="M728.2 235.9 L732.8 238.3 L737.4 240.6" stroke="#fff" stroke-width="2.5"/>
<path d="M746.6 309.7 L742 307.4" stroke="#fff" stroke-width="2.5"/>
<path d="M751.2 321.3 L751.2 325.9 L751.2 321.3" stroke="#fff" stroke-width="2.5"/>
<path d="M705.2 320.8 L700.6 318.5" stroke="#fff" stroke-width="2.5"/>
<path d="M742 266 L746.6 268.3 L742 266 L737.4 263.6" stroke="#fff" stroke-width="2.5"/>
<path d="M719 258.9 L714.4 256.5" stroke="#fff" stroke-width="2.5"/>
<path d="M728.2 226.7 L728.2 231.3 L728.2 226.7" stroke="#fff" stroke-width="2.5"/>
<path d="M696 283.9 L691.4 281.6" stroke="#fff" stroke-width="2.5"/>
<path d="M742 353.4 L737.4 351" stroke="#fff" stroke-width="2.5"/>
<path d="M719 277.3 L723.6 279.6" stroke="#fff" stroke-width="2.5"/>
<path d="M728.2 350.9 L732.8 353.3 L737.4 355.6 L742 358" stroke="#fff" stroke-width="2.5"/>
<path d="M686.8 256.3 L686.8 251.7 L686.8 247.1 L686.8 242.5" stroke="#fff" stroke-width="2.5"/>
<path d="M686.8 219.5 L686.8 214.9" stroke="#fff" stroke-width="2.5"/>
<path d="M700.6 323.1 L696 320.7" stroke="#fff" stroke-width="2.5"/>
<path d="M751.2 279.9 L751.2 284.5 L751.2 289.1" stroke="#fff" stroke-width="2.5"/>
<path d="M728.2 258.9 L728.2 263.5" stroke="#fff" stroke-width="2.5"/>
<path d="M700.6 309.3 L700.6 304.7 L700.6 309.3" stroke="#fff" stroke-width="2.5"/>
<path d="M719 222.1 L719 217.5 L719 212.9 L719 208.3" stroke="#fff" stroke-width="2.5"/>
<path d="M728.2 245.1 L728.2 240.5" stroke="#fff" stroke-width="2.5"/>
<path d="M719 346.3 L714.4 343.9" stroke="#fff" stroke-width="2.5"/>
<path d="M732.8 325.7 L737.4 328" stroke="#fff" stroke-width="2.5"/>
</g>
<ellipse cx="695.3" cy="195.3" rx="3" ry="3.3" transform="rotate(0 695.3 195.3)" stroke="#222" stroke-width="1" fill="#fff"/>
<ellipse cx="695.3" cy="195.3" rx="1.6" ry="1.8" transform="rotate(0 695.3 195.3)" stroke="#222" stroke-width="0.8" fill="#fff"/>
<ellipse cx="716.9" cy="204.7" rx="3" ry="3.3" transform="rotate(0 716.9 204.7)" stroke="#222" stroke-width="1" fill="#fff"/>
<ellipse cx="716.9" cy="204.7" rx="1.6" ry="1.8" transform="rotate(0 716.9 204.7)" stroke="#222" stroke-width="0.8" fill="#fff"/>
<ellipse cx="742.7" cy="222.9" rx="3" ry="3.3" transform="rotate(0 742.7 222.9)" stroke="#222" stroke-width="1" fill="#fff"/>
<ellipse cx="742.7" cy="222.9" rx="1.6" ry="1.8" transform="rotate(0 742.7 222.9)" stroke="#222" stroke-width="0.8" fill="#fff"/>
<ellipse cx="680.3" cy="252.2" rx="3" ry="3.3" transform="rotate(0 680.3 252.2)" stroke="#222" stroke-width="1" fill="#fff"/>
<ellipse cx="680.3" cy="252.2" rx="1.6" ry="1.8" transform="rotate(0 680.3 252.2)" stroke="#222" stroke-width="0.8" fill="#fff"/>
<ellipse cx="752.2" cy="261.7" rx="3" ry="3.3" transform="rotate(0 752.2 261.7)" stroke="#222" stroke-width="1" fill="#fff"/>
<ellipse cx="752.2" cy="261.7" rx="1.6" ry="1.8" transform="rotate(0 752.2 261.7)" stroke="#222" stroke-width="0.8" fill="#fff"/>
<ellipse cx="696.6" cy="284.7" rx="3" ry="3.3" transform="rotate(0 696.6 284.7)" stroke="#222" stroke-width="1" fill="#fff"/>
<ellipse cx="696.6" cy="284.7" rx="1.6" ry="1.8" transform="rotate(0 696.6 284.7)" stroke="#222" stroke-width="0.8" fill="#fff"/>
<ellipse cx="723.7" cy="282.6" rx="3" ry="3.3" transform="rotate(0 723.7 282.6)" stroke="#222" stroke-width="1" fill="#fff"/>
<ellipse cx="723.7" cy="282.6" rx="1.6" ry="1.8" transform="rotate(0 723.7 282.6)" stroke="#222" stroke-width="0.8" fill="#fff"/>
<ellipse cx="746.8" cy="291.5" rx="3" ry="3.3" transform="rotate(0 746.8 291.5)" stroke="#222" stroke-width="1" fill="#fff"/>
<ellipse cx="746.8" cy="291.5" rx="1.6" ry="1.8" transform="rotate(0 746.8 291.5)" stroke="#222" stroke-width="0.8" fill="#fff"/>
<ellipse cx="711.5" cy="347.1" rx="3" ry="3.3" transform="rotate(0 711.5 347.1)" stroke="#222" stroke-width="1" fill="#fff"/>
<ellipse cx="711.5" cy="347.1" rx="1.6" ry="1.8" transform="rotate(0 711.5 347.1)" stroke="#222" stroke-width="0.8" fill="#fff"/>
<ellipse cx="742.7" cy="361.2" rx="3" ry="3.3" transform="rotate(0 742.7 361.2)" stroke="#222" stroke-width="1" fill="#fff"/>
<ellipse cx="742.7" cy="361.2" rx="1.6" ry="1.8" transform="rotate(0 742.7 361.2)" stroke="#222" stroke-width="0.8" fill="#fff"/>
<ellipse cx="757.6" cy="334.9" rx="3" ry="3.3" transform="rotate(0 757.6 334.9)" stroke="#222" stroke-width="1" fill="#fff"/>
<ellipse cx="757.6" cy="334.9" rx="1.6" ry="1.8" transform="rotate(0 757.6 334.9)" stroke="#222" stroke-width="0.8" fill="#fff"/>
<ellipse cx="718.3" cy="317.8" rx="3" ry="3.3" transform="rotate(0 718.3 317.8)" stroke="#222" stroke-width="1" fill="#fff"/>
<ellipse cx="718.3" cy="317.8" rx="1.6" ry="1.8" transform="rotate(0 718.3 317.8)" stroke="#222" stroke-width="0.8" fill="#fff"/>
<ellipse cx="768.5" cy="271.2" rx="2.4" ry="3.2" transform="rotate(0 768.5 271.2)" stroke="#222" stroke-width="1" fill="#fff"/>
<ellipse cx="768.5" cy="283.4" rx="2.4" ry="3.2" transform="rotate(0 768.5 283.4)" stroke="#222" stroke-width="1" fill="#fff"/>
<ellipse cx="768.5" cy="307.8" rx="2.4" ry="3.2" transform="rotate(0 768.5 307.8)" stroke="#222" stroke-width="1" fill="#fff"/>
<ellipse cx="768.5" cy="322.7" rx="2.4" ry="3.2" transform="rotate(0 768.5 322.7)" stroke="#222" stroke-width="1" fill="#fff"/>
<path d="M703.4 295.6 L715.6 301 L715.6 314.6 L703.4 309.2 Z" stroke="#222" stroke-width="1" fill="#fff" stroke-linejoin="round" />
<ellipse cx="709.6" cy="305.1" rx="3.6" ry="4" transform="rotate(0 709.6 305.1)" stroke="#222" stroke-width="1" fill="#fff"/>
<ellipse cx="769.8" cy="347.1" rx="4" ry="5" transform="rotate(0 769.8 347.1)" stroke="#222" stroke-width="1" fill="#fff"/>
<ellipse cx="773.4" cy="360.7" rx="4" ry="5" transform="rotate(0 773.4 360.7)" stroke="#222" stroke-width="1" fill="#fff"/>
<path d="M753.6 349.8 L767.1 342.2" stroke="#222" stroke-width="0.9" fill="none" stroke-linejoin="round" stroke-linecap="round" />
<path d="M753.6 356.6 L768.5 349.8" stroke="#222" stroke-width="0.9" fill="none" stroke-linejoin="round" stroke-linecap="round" />
<path d="M754.9 363.9 L770.6 356.6" stroke="#222" stroke-width="0.9" fill="none" stroke-linejoin="round" stroke-linecap="round" />
<path d="M842.8 600.7 L853.7 595 L861.5 596.1 L865.4 602 L873.2 605.9 L883.5 600.2 L889.5 602.8 L890 607.2 L897.8 611.1 L908.2 626.2 L914.7 625.6 L919.8 622.8 L926.3 625.4 L932 635.8 L934.1 633.2 L939.8 631.9 L941.9 635.8 L941.4 642.2 L938 644.8 L938 730.4 L941.4 734.3 L946.6 740.8 L945 751.2 L935.4 761.5 L934.1 779.7 L923.7 787.5 L916 786.2 L908.2 777.1 L895.2 769.3 L884.8 765.4 L874.5 758.9 L874.5 746 L862.8 740.8 L856.3 727.8 L856.3 712.3 L851.1 704.5 L851.1 673.4 L842.8 665.6 Z" stroke="#222" stroke-width="1.1" fill="#fff" stroke-linejoin="round" />
<line x1="853.7" y1="595" x2="851.1" y2="604.6" stroke="#222" stroke-width="0.9" />
<line x1="865.4" y1="602" x2="858.9" y2="611.1" stroke="#222" stroke-width="0.9" />
<line x1="873.2" y1="605.9" x2="871.9" y2="615" stroke="#222" stroke-width="0.9" />
<line x1="889.5" y1="602.8" x2="887.9" y2="618.9" stroke="#222" stroke-width="0.9" />
<line x1="897.8" y1="611.1" x2="897.8" y2="621.5" stroke="#222" stroke-width="0.9" />
<line x1="908.2" y1="626.2" x2="906.9" y2="635.8" stroke="#222" stroke-width="0.9" />
<line x1="919.8" y1="622.8" x2="916" y2="638.4" stroke="#222" stroke-width="0.9" />
<line x1="932" y1="635.8" x2="926.8" y2="642.2" stroke="#222" stroke-width="0.9" />
<path d="M932 635.8 L932.8 735.6 L926.8 746" stroke="#222" stroke-width="0.9" fill="none" stroke-linejoin="round" stroke-linecap="round" />
<path d="M842.8 600.7 L851.1 604.6 L858.9 611.1 L871.9 615 L882.2 612.4 L887.9 618.9 L897.8 621.5 L906.9 635.8 L916 638.4 L923.7 635.8 L926.8 642.2 L926.8 735.6 L922.4 746 L923.7 761.5 L919.8 771.9 L921.7 784.9 L916 786.2 L908.2 777.1 L895.2 769.3 L884.8 765.4 L874.5 758.9 L874.5 746 L862.8 740.8 L856.3 727.8 L856.3 712.3 L851.1 704.5 L851.1 673.4 L842.8 665.6 Z" stroke="#222" stroke-width="1.2" fill="#fff" stroke-linejoin="round" />
<clipPath id="c2"><path d="M842.8 600.7 L851.1 604.6 L858.9 611.1 L871.9 615 L882.2 612.4 L887.9 618.9 L897.8 621.5 L906.9 635.8 L916 638.4 L923.7 635.8 L926.8 642.2 L926.8 735.6 L922.4 746 L923.7 761.5 L919.8 771.9 L921.7 784.9 L916 786.2 L908.2 777.1 L895.2 769.3 L884.8 765.4 L874.5 758.9 L874.5 746 L862.8 740.8 L856.3 727.8 L856.3 712.3 L851.1 704.5 L851.1 673.4 L842.8 665.6 Z"/></clipPath>
<g clip-path="url(#c2)" fill="none" stroke-linejoin="round" stroke-linecap="round">
<path d="M842.8 600.7 L851.1 604.6 L858.9 611.1 L871.9 615 L882.2 612.4 L887.9 618.9 L897.8 621.5 L906.9 635.8 L916 638.4 L923.7 635.8 L926.8 642.2 L926.8 735.6 L922.4 746 L923.7 761.5 L919.8 771.9 L921.7 784.9 L916 786.2 L908.2 777.1 L895.2 769.3 L884.8 765.4 L874.5 758.9 L874.5 746 L862.8 740.8 L856.3 727.8 L856.3 712.3 L851.1 704.5 L851.1 673.4 L842.8 665.6 Z" stroke="#2a2a2a" stroke-width="6.4"/>
<path d="M842.8 600.7 L851.1 604.6 L858.9 611.1 L871.9 615 L882.2 612.4 L887.9 618.9 L897.8 621.5 L906.9 635.8 L916 638.4 L923.7 635.8 L926.8 642.2 L926.8 735.6 L922.4 746 L923.7 761.5 L919.8 771.9 L921.7 784.9 L916 786.2 L908.2 777.1 L895.2 769.3 L884.8 765.4 L874.5 758.9 L874.5 746 L862.8 740.8 L856.3 727.8 L856.3 712.3 L851.1 704.5 L851.1 673.4 L842.8 665.6 Z" stroke="#fff" stroke-width="4.4"/>
<path d="M893.4 664.7 L893.4 669.3 L888.8 667 L884.2 664.6 L879.6 662.3 L875 660 L875 655.4 L875 650.8 L875 646.2 L870.4 643.8 L865.8 641.5 L861.2 639.1 L856.6 636.8" stroke="#1c1c1c" stroke-width="4.3"/>
<path d="M852 666.6 L856.6 669 L861.2 671.3 L865.8 673.7 L865.8 669.1 L865.8 664.5 L870.4 666.8 L875 669.2 L875 673.8 L875 678.4 L875 683 L875 687.6 L870.4 685.2 L870.4 689.8 L875 692.2 L879.6 694.5" stroke="#1c1c1c" stroke-width="4.3"/>
<path d="M911.8 729.3 L916.4 731.6 L916.4 736.2 L916.4 740.8 L916.4 745.4" stroke="#1c1c1c" stroke-width="4.3"/>
<path d="M875 706 L875 710.6 L875 715.2 L879.6 717.5 L879.6 722.1 L884.2 724.4" stroke="#1c1c1c" stroke-width="4.3"/>
<path d="M888.8 713 L888.8 717.6 L888.8 722.2 L888.8 726.8" stroke="#1c1c1c" stroke-width="4.3"/>
<path d="M898 648.7 L893.4 646.3 L893.4 650.9 L893.4 655.5 L893.4 660.1 L898 662.5 L902.6 664.8 L907.2 667.2" stroke="#1c1c1c" stroke-width="4.3"/>
<path d="M921 678.8 L916.4 676.4 L911.8 674.1" stroke="#1c1c1c" stroke-width="4.3"/>
<path d="M870.4 735.8 L875 738.2 L875 733.6 L875 729 L875 724.4 L870.4 722 L865.8 719.7 L865.8 715.1" stroke="#1c1c1c" stroke-width="4.3"/>
<path d="M893.4 742.9 L898 745.3 L898 740.7 L898 736.1 L898 731.5 L893.4 729.1" stroke="#1c1c1c" stroke-width="4.3"/>
<path d="M888.8 708.4 L888.8 703.8 L888.8 699.2 L888.8 694.6 L893.4 696.9 L893.4 692.3 L893.4 687.7 L893.4 683.1" stroke="#1c1c1c" stroke-width="4.3"/>
<path d="M921 646.6 L916.4 644.2 L916.4 648.8 L916.4 653.4 L916.4 658 L911.8 655.7 L907.2 653.4" stroke="#1c1c1c" stroke-width="4.3"/>
<path d="M865.8 646.1 L861.2 643.7 L856.6 641.4 L861.2 643.7 L865.8 646.1" stroke="#1c1c1c" stroke-width="4.3"/>
<path d="M907.2 750 L911.8 752.3 L916.4 754.6" stroke="#1c1c1c" stroke-width="4.3"/>
<path d="M879.6 749.7 L879.6 745.1" stroke="#1c1c1c" stroke-width="4.3"/>
<path d="M870.4 620.8 L865.8 618.5" stroke="#1c1c1c" stroke-width="4.3"/>
<path d="M902.6 752.2 L902.6 756.8 L902.6 761.4 L907.2 763.8 L907.2 768.4" stroke="#1c1c1c" stroke-width="4.3"/>
<path d="M907.2 685.6 L907.2 681 L907.2 676.4 L907.2 671.8" stroke="#1c1c1c" stroke-width="4.3"/>
<path d="M888.8 685.4 L888.8 690 L888.8 685.4" stroke="#1c1c1c" stroke-width="4.3"/>
<path d="M902.6 641.8 L907.2 644.2 L911.8 646.5" stroke="#1c1c1c" stroke-width="4.3"/>
<path d="M856.6 650.6 L861.2 652.9 L865.8 655.3" stroke="#1c1c1c" stroke-width="4.3"/>
<path d="M856.6 678.2 L861.2 680.5 L865.8 682.9 L865.8 687.5 L865.8 692.1 L865.8 696.7 L865.8 701.3" stroke="#1c1c1c" stroke-width="4.3"/>
<path d="M879.6 671.5 L879.6 666.9" stroke="#1c1c1c" stroke-width="4.3"/>
<path d="M916.4 699.4 L911.8 697.1 L907.2 694.8 L902.6 692.4 L902.6 697 L902.6 701.6 L902.6 706.2 L907.2 708.6 L911.8 710.9 L916.4 713.2 L916.4 717.8 L916.4 722.4 L911.8 720.1 L907.2 717.8 L902.6 715.4" stroke="#1c1c1c" stroke-width="4.3"/>
<path d="M898 676.3 L902.6 678.6 L902.6 674 L902.6 678.6 L902.6 683.2 L898 680.9 L898 685.5" stroke="#1c1c1c" stroke-width="4.3"/>
<path d="M898 717.7 L902.6 720" stroke="#1c1c1c" stroke-width="4.3"/>
<path d="M888.8 639.4 L893.4 641.7 L893.4 637.1 L898 639.5 L893.4 637.1 L888.8 634.8 L884.2 632.4 L879.6 630.1 L879.6 634.7 L879.6 639.3 L879.6 643.9 L879.6 648.5" stroke="#1c1c1c" stroke-width="4.3"/>
<path d="M902.6 729.2 L902.6 733.8 L907.2 736.2 L911.8 738.5" stroke="#1c1c1c" stroke-width="4.3"/>
<path d="M884.2 650.8 L888.8 653.2" stroke="#1c1c1c" stroke-width="4.3"/>
<path d="M861.2 708.1 L861.2 703.5 L861.2 698.9 L861.2 694.3 L861.2 689.7 L861.2 685.1" stroke="#1c1c1c" stroke-width="4.3"/>
<path d="M898 713.1 L898 708.5 L898 703.9" stroke="#1c1c1c" stroke-width="4.3"/>
<path d="M852 657.4 L852 662 L856.6 664.4" stroke="#1c1c1c" stroke-width="4.3"/>
<path d="M884.2 733.6 L888.8 736 L888.8 731.4" stroke="#1c1c1c" stroke-width="4.3"/>
<path d="M861.2 629.9 L861.2 625.3 L865.8 627.7 L865.8 623.1" stroke="#1c1c1c" stroke-width="4.3"/>
<path d="M865.8 728.9 L865.8 733.5 L865.8 728.9" stroke="#1c1c1c" stroke-width="4.3"/>
<path d="M898 726.9 L898 722.3 L893.4 719.9" stroke="#1c1c1c" stroke-width="4.3"/>
<path d="M898 634.9 L893.4 632.5" stroke="#1c1c1c" stroke-width="4.3"/>
<path d="M911.8 766.1 L911.8 761.5" stroke="#1c1c1c" stroke-width="4.3"/>
<path d="M911.8 706.3 L916.4 708.6 L921 711" stroke="#1c1c1c" stroke-width="4.3"/>
<path d="M879.6 735.9 L879.6 731.3" stroke="#1c1c1c" stroke-width="4.3"/>
<path d="M884.2 756.6 L884.2 752" stroke="#1c1c1c" stroke-width="4.3"/>
<path d="M870.4 625.4 L875 627.8 L875 623.2" stroke="#1c1c1c" stroke-width="4.3"/>
<path d="M856.6 692 L856.6 687.4" stroke="#1c1c1c" stroke-width="4.3"/>
<path d="M856.6 659.8 L861.2 662.1" stroke="#1c1c1c" stroke-width="4.3"/>
<path d="M893.4 761.3 L893.4 756.7 L893.4 752.1" stroke="#1c1c1c" stroke-width="4.3"/>
<path d="M884.2 683 L879.6 680.7" stroke="#1c1c1c" stroke-width="4.3"/>
<path d="M888.8 740.6 L888.8 745.2 L888.8 749.8 L888.8 745.2 L884.2 742.8" stroke="#1c1c1c" stroke-width="4.3"/>
<path d="M911.8 683.3 L911.8 687.9" stroke="#1c1c1c" stroke-width="4.3"/>
<path d="M879.6 657.7 L879.6 653.1 L884.2 655.4" stroke="#1c1c1c" stroke-width="4.3"/>
<path d="M921 655.8 L921 651.2 L921 655.8" stroke="#1c1c1c" stroke-width="4.3"/>
<path d="M852 634.4 L852 639 L852 643.6 L852 648.2 L852 652.8 L856.6 655.2" stroke="#1c1c1c" stroke-width="4.3"/>
<path d="M879.6 620.9 L884.2 623.2 L888.8 625.6" stroke="#1c1c1c" stroke-width="4.3"/>
<path d="M911.8 664.9 L916.4 667.2 L921 669.6 L921 665" stroke="#1c1c1c" stroke-width="4.3"/>
<path d="M856.6 618.4 L856.6 623 L852 620.6" stroke="#1c1c1c" stroke-width="4.3"/>
<path d="M875 637 L870.4 634.6 L870.4 630" stroke="#1c1c1c" stroke-width="4.3"/>
<path d="M852 625.2 L852 629.8" stroke="#1c1c1c" stroke-width="4.3"/>
<path d="M870.4 694.4 L870.4 699" stroke="#1c1c1c" stroke-width="4.3"/>
<path d="M865.8 678.3 L861.2 675.9" stroke="#1c1c1c" stroke-width="4.3"/>
<path d="M921 683.4 L921 688 L921 692.6" stroke="#1c1c1c" stroke-width="4.3"/>
<path d="M879.6 699.1 L875 696.8" stroke="#1c1c1c" stroke-width="4.3"/>
<path d="M884.2 641.6 L888.8 644" stroke="#1c1c1c" stroke-width="4.3"/>
<path d="M884.2 696.8 L884.2 692.2" stroke="#1c1c1c" stroke-width="4.3"/>
<path d="M911.8 743.1 L911.8 747.7" stroke="#1c1c1c" stroke-width="4.3"/>
<path d="M916.4 759.2 L916.4 763.8" stroke="#1c1c1c" stroke-width="4.3"/>
<path d="M916.4 704 L921 706.4 L916.4 704 L921 706.4" stroke="#1c1c1c" stroke-width="4.3"/>
<path d="M884.2 706 L879.6 703.7" stroke="#1c1c1c" stroke-width="4.3"/>
<path d="M907.2 704 L907.2 699.4" stroke="#1c1c1c" stroke-width="4.3"/>
<path d="M921 697.2 L916.4 694.8" stroke="#1c1c1c" stroke-width="4.3"/>
<path d="M870.4 639.2 L865.8 636.9" stroke="#1c1c1c" stroke-width="4.3"/>
<path d="M902.6 710.8 L907.2 713.2" stroke="#1c1c1c" stroke-width="4.3"/>
<path d="M898 763.7 L902.6 766" stroke="#1c1c1c" stroke-width="4.3"/>
<path d="M902.6 655.6 L902.6 660.2" stroke="#1c1c1c" stroke-width="4.3"/>
<path d="M879.6 625.5 L884.2 627.8 L879.6 625.5" stroke="#1c1c1c" stroke-width="4.3"/>
<path d="M884.2 660 L888.8 662.4" stroke="#1c1c1c" stroke-width="4.3"/>
<path d="M907.2 731.6 L907.2 727" stroke="#1c1c1c" stroke-width="4.3"/>
<path d="M898 749.9 L898 754.5" stroke="#1c1c1c" stroke-width="4.3"/>
<path d="M888.8 676.2 L884.2 673.8" stroke="#1c1c1c" stroke-width="4.3"/>
<path d="M893.4 664.7 L893.4 669.3 L888.8 667 L884.2 664.6 L879.6 662.3 L875 660 L875 655.4 L875 650.8 L875 646.2 L870.4 643.8 L865.8 641.5 L861.2 639.1 L856.6 636.8" stroke="#fff" stroke-width="2.5"/>
<path d="M852 666.6 L856.6 669 L861.2 671.3 L865.8 673.7 L865.8 669.1 L865.8 664.5 L870.4 666.8 L875 669.2 L875 673.8 L875 678.4 L875 683 L875 687.6 L870.4 685.2 L870.4 689.8 L875 692.2 L879.6 694.5" stroke="#fff" stroke-width="2.5"/>
<path d="M911.8 729.3 L916.4 731.6 L916.4 736.2 L916.4 740.8 L916.4 745.4" stroke="#fff" stroke-width="2.5"/>
<path d="M875 706 L875 710.6 L875 715.2 L879.6 717.5 L879.6 722.1 L884.2 724.4" stroke="#fff" stroke-width="2.5"/>
<path d="M888.8 713 L888.8 717.6 L888.8 722.2 L888.8 726.8" stroke="#fff" stroke-width="2.5"/>
<path d="M898 648.7 L893.4 646.3 L893.4 650.9 L893.4 655.5 L893.4 660.1 L898 662.5 L902.6 664.8 L907.2 667.2" stroke="#fff" stroke-width="2.5"/>
<path d="M921 678.8 L916.4 676.4 L911.8 674.1" stroke="#fff" stroke-width="2.5"/>
<path d="M870.4 735.8 L875 738.2 L875 733.6 L875 729 L875 724.4 L870.4 722 L865.8 719.7 L865.8 715.1" stroke="#fff" stroke-width="2.5"/>
<path d="M893.4 742.9 L898 745.3 L898 740.7 L898 736.1 L898 731.5 L893.4 729.1" stroke="#fff" stroke-width="2.5"/>
<path d="M888.8 708.4 L888.8 703.8 L888.8 699.2 L888.8 694.6 L893.4 696.9 L893.4 692.3 L893.4 687.7 L893.4 683.1" stroke="#fff" stroke-width="2.5"/>
<path d="M921 646.6 L916.4 644.2 L916.4 648.8 L916.4 653.4 L916.4 658 L911.8 655.7 L907.2 653.4" stroke="#fff" stroke-width="2.5"/>
<path d="M865.8 646.1 L861.2 643.7 L856.6 641.4 L861.2 643.7 L865.8 646.1" stroke="#fff" stroke-width="2.5"/>
<path d="M907.2 750 L911.8 752.3 L916.4 754.6" stroke="#fff" stroke-width="2.5"/>
<path d="M879.6 749.7 L879.6 745.1" stroke="#fff" stroke-width="2.5"/>
<path d="M870.4 620.8 L865.8 618.5" stroke="#fff" stroke-width="2.5"/>
<path d="M902.6 752.2 L902.6 756.8 L902.6 761.4 L907.2 763.8 L907.2 768.4" stroke="#fff" stroke-width="2.5"/>
<path d="M907.2 685.6 L907.2 681 L907.2 676.4 L907.2 671.8" stroke="#fff" stroke-width="2.5"/>
<path d="M888.8 685.4 L888.8 690 L888.8 685.4" stroke="#fff" stroke-width="2.5"/>
<path d="M902.6 641.8 L907.2 644.2 L911.8 646.5" stroke="#fff" stroke-width="2.5"/>
<path d="M856.6 650.6 L861.2 652.9 L865.8 655.3" stroke="#fff" stroke-width="2.5"/>
<path d="M856.6 678.2 L861.2 680.5 L865.8 682.9 L865.8 687.5 L865.8 692.1 L865.8 696.7 L865.8 701.3" stroke="#fff" stroke-width="2.5"/>
<path d="M879.6 671.5 L879.6 666.9" stroke="#fff" stroke-width="2.5"/>
<path d="M916.4 699.4 L911.8 697.1 L907.2 694.8 L902.6 692.4 L902.6 697 L902.6 701.6 L902.6 706.2 L907.2 708.6 L911.8 710.9 L916.4 713.2 L916.4 717.8 L916.4 722.4 L911.8 720.1 L907.2 717.8 L902.6 715.4" stroke="#fff" stroke-width="2.5"/>
<path d="M898 676.3 L902.6 678.6 L902.6 674 L902.6 678.6 L902.6 683.2 L898 680.9 L898 685.5" stroke="#fff" stroke-width="2.5"/>
<path d="M898 717.7 L902.6 720" stroke="#fff" stroke-width="2.5"/>
<path d="M888.8 639.4 L893.4 641.7 L893.4 637.1 L898 639.5 L893.4 637.1 L888.8 634.8 L884.2 632.4 L879.6 630.1 L879.6 634.7 L879.6 639.3 L879.6 643.9 L879.6 648.5" stroke="#fff" stroke-width="2.5"/>
<path d="M902.6 729.2 L902.6 733.8 L907.2 736.2 L911.8 738.5" stroke="#fff" stroke-width="2.5"/>
<path d="M884.2 650.8 L888.8 653.2" stroke="#fff" stroke-width="2.5"/>
<path d="M861.2 708.1 L861.2 703.5 L861.2 698.9 L861.2 694.3 L861.2 689.7 L861.2 685.1" stroke="#fff" stroke-width="2.5"/>
<path d="M898 713.1 L898 708.5 L898 703.9" stroke="#fff" stroke-width="2.5"/>
<path d="M852 657.4 L852 662 L856.6 664.4" stroke="#fff" stroke-width="2.5"/>
<path d="M884.2 733.6 L888.8 736 L888.8 731.4" stroke="#fff" stroke-width="2.5"/>
<path d="M861.2 629.9 L861.2 625.3 L865.8 627.7 L865.8 623.1" stroke="#fff" stroke-width="2.5"/>
<path d="M865.8 728.9 L865.8 733.5 L865.8 728.9" stroke="#fff" stroke-width="2.5"/>
<path d="M898 726.9 L898 722.3 L893.4 719.9" stroke="#fff" stroke-width="2.5"/>
<path d="M898 634.9 L893.4 632.5" stroke="#fff" stroke-width="2.5"/>
<path d="M911.8 766.1 L911.8 761.5" stroke="#fff" stroke-width="2.5"/>
<path d="M911.8 706.3 L916.4 708.6 L921 711" stroke="#fff" stroke-width="2.5"/>
<path d="M879.6 735.9 L879.6 731.3" stroke="#fff" stroke-width="2.5"/>
<path d="M884.2 756.6 L884.2 752" stroke="#fff" stroke-width="2.5"/>
<path d="M870.4 625.4 L875 627.8 L875 623.2" stroke="#fff" stroke-width="2.5"/>
<path d="M856.6 692 L856.6 687.4" stroke="#fff" stroke-width="2.5"/>
<path d="M856.6 659.8 L861.2 662.1" stroke="#fff" stroke-width="2.5"/>
<path d="M893.4 761.3 L893.4 756.7 L893.4 752.1" stroke="#fff" stroke-width="2.5"/>
<path d="M884.2 683 L879.6 680.7" stroke="#fff" stroke-width="2.5"/>
<path d="M888.8 740.6 L888.8 745.2 L888.8 749.8 L888.8 745.2 L884.2 742.8" stroke="#fff" stroke-width="2.5"/>
<path d="M911.8 683.3 L911.8 687.9" stroke="#fff" stroke-width="2.5"/>
<path d="M879.6 657.7 L879.6 653.1 L884.2 655.4" stroke="#fff" stroke-width="2.5"/>
<path d="M921 655.8 L921 651.2 L921 655.8" stroke="#fff" stroke-width="2.5"/>
<path d="M852 634.4 L852 639 L852 643.6 L852 648.2 L852 652.8 L856.6 655.2" stroke="#fff" stroke-width="2.5"/>
<path d="M879.6 620.9 L884.2 623.2 L888.8 625.6" stroke="#fff" stroke-width="2.5"/>
<path d="M911.8 664.9 L916.4 667.2 L921 669.6 L921 665" stroke="#fff" stroke-width="2.5"/>
<path d="M856.6 618.4 L856.6 623 L852 620.6" stroke="#fff" stroke-width="2.5"/>
<path d="M875 637 L870.4 634.6 L870.4 630" stroke="#fff" stroke-width="2.5"/>
<path d="M852 625.2 L852 629.8" stroke="#fff" stroke-width="2.5"/>
<path d="M870.4 694.4 L870.4 699" stroke="#fff" stroke-width="2.5"/>
<path d="M865.8 678.3 L861.2 675.9" stroke="#fff" stroke-width="2.5"/>
<path d="M921 683.4 L921 688 L921 692.6" stroke="#fff" stroke-width="2.5"/>
<path d="M879.6 699.1 L875 696.8" stroke="#fff" stroke-width="2.5"/>
<path d="M884.2 641.6 L888.8 644" stroke="#fff" stroke-width="2.5"/>
<path d="M884.2 696.8 L884.2 692.2" stroke="#fff" stroke-width="2.5"/>
<path d="M911.8 743.1 L911.8 747.7" stroke="#fff" stroke-width="2.5"/>
<path d="M916.4 759.2 L916.4 763.8" stroke="#fff" stroke-width="2.5"/>
<path d="M916.4 704 L921 706.4 L916.4 704 L921 706.4" stroke="#fff" stroke-width="2.5"/>
<path d="M884.2 706 L879.6 703.7" stroke="#fff" stroke-width="2.5"/>
<path d="M907.2 704 L907.2 699.4" stroke="#fff" stroke-width="2.5"/>
<path d="M921 697.2 L916.4 694.8" stroke="#fff" stroke-width="2.5"/>
<path d="M870.4 639.2 L865.8 636.9" stroke="#fff" stroke-width="2.5"/>
<path d="M902.6 710.8 L907.2 713.2" stroke="#fff" stroke-width="2.5"/>
<path d="M898 763.7 L902.6 766" stroke="#fff" stroke-width="2.5"/>
<path d="M902.6 655.6 L902.6 660.2" stroke="#fff" stroke-width="2.5"/>
<path d="M879.6 625.5 L884.2 627.8 L879.6 625.5" stroke="#fff" stroke-width="2.5"/>
<path d="M884.2 660 L888.8 662.4" stroke="#fff" stroke-width="2.5"/>
<path d="M907.2 731.6 L907.2 727" stroke="#fff" stroke-width="2.5"/>
<path d="M898 749.9 L898 754.5" stroke="#fff" stroke-width="2.5"/>
<path d="M888.8 676.2 L884.2 673.8" stroke="#fff" stroke-width="2.5"/>
</g>
<ellipse cx="861.5" cy="607.2" rx="3" ry="3.3" transform="rotate(0 861.5 607.2)" stroke="#222" stroke-width="1" fill="#fff"/>
<ellipse cx="861.5" cy="607.2" rx="1.6" ry="1.8" transform="rotate(0 861.5 607.2)" stroke="#222" stroke-width="0.8" fill="#fff"/>
<ellipse cx="873.2" cy="612.4" rx="3" ry="3.3" transform="rotate(0 873.2 612.4)" stroke="#222" stroke-width="1" fill="#fff"/>
<ellipse cx="873.2" cy="612.4" rx="1.6" ry="1.8" transform="rotate(0 873.2 612.4)" stroke="#222" stroke-width="0.8" fill="#fff"/>
<ellipse cx="884.8" cy="616.3" rx="3" ry="3.3" transform="rotate(0 884.8 616.3)" stroke="#222" stroke-width="1" fill="#fff"/>
<ellipse cx="884.8" cy="616.3" rx="1.6" ry="1.8" transform="rotate(0 884.8 616.3)" stroke="#222" stroke-width="0.8" fill="#fff"/>
<ellipse cx="849.8" cy="634.5" rx="3" ry="3.3" transform="rotate(0 849.8 634.5)" stroke="#222" stroke-width="1" fill="#fff"/>
<ellipse cx="849.8" cy="634.5" rx="1.6" ry="1.8" transform="rotate(0 849.8 634.5)" stroke="#222" stroke-width="0.8" fill="#fff"/>
<ellipse cx="914.7" cy="634.5" rx="3" ry="3.3" transform="rotate(0 914.7 634.5)" stroke="#222" stroke-width="1" fill="#fff"/>
<ellipse cx="914.7" cy="634.5" rx="1.6" ry="1.8" transform="rotate(0 914.7 634.5)" stroke="#222" stroke-width="0.8" fill="#fff"/>
<ellipse cx="845.9" cy="666.9" rx="3" ry="3.3" transform="rotate(0 845.9 666.9)" stroke="#222" stroke-width="1" fill="#fff"/>
<ellipse cx="845.9" cy="666.9" rx="1.6" ry="1.8" transform="rotate(0 845.9 666.9)" stroke="#222" stroke-width="0.8" fill="#fff"/>
<ellipse cx="855" cy="705.8" rx="3" ry="3.3" transform="rotate(0 855 705.8)" stroke="#222" stroke-width="1" fill="#fff"/>
<ellipse cx="855" cy="705.8" rx="1.6" ry="1.8" transform="rotate(0 855 705.8)" stroke="#222" stroke-width="0.8" fill="#fff"/>
<ellipse cx="912.1" cy="704.5" rx="3" ry="3.3" transform="rotate(0 912.1 704.5)" stroke="#222" stroke-width="1" fill="#fff"/>
<ellipse cx="912.1" cy="704.5" rx="1.6" ry="1.8" transform="rotate(0 912.1 704.5)" stroke="#222" stroke-width="0.8" fill="#fff"/>
<ellipse cx="879.6" cy="707.1" rx="3" ry="3.3" transform="rotate(0 879.6 707.1)" stroke="#222" stroke-width="1" fill="#fff"/>
<ellipse cx="879.6" cy="707.1" rx="1.6" ry="1.8" transform="rotate(0 879.6 707.1)" stroke="#222" stroke-width="0.8" fill="#fff"/>
<ellipse cx="860.2" cy="723.9" rx="3" ry="3.3" transform="rotate(0 860.2 723.9)" stroke="#222" stroke-width="1" fill="#fff"/>
<ellipse cx="860.2" cy="723.9" rx="1.6" ry="1.8" transform="rotate(0 860.2 723.9)" stroke="#222" stroke-width="0.8" fill="#fff"/>
<ellipse cx="866.7" cy="743.4" rx="3" ry="3.3" transform="rotate(0 866.7 743.4)" stroke="#222" stroke-width="1" fill="#fff"/>
<ellipse cx="866.7" cy="743.4" rx="1.6" ry="1.8" transform="rotate(0 866.7 743.4)" stroke="#222" stroke-width="0.8" fill="#fff"/>
<ellipse cx="921.1" cy="738.2" rx="3" ry="3.3" transform="rotate(0 921.1 738.2)" stroke="#222" stroke-width="1" fill="#fff"/>
<ellipse cx="921.1" cy="738.2" rx="1.6" ry="1.8" transform="rotate(0 921.1 738.2)" stroke="#222" stroke-width="0.8" fill="#fff"/>
<ellipse cx="923.7" cy="758.9" rx="3" ry="3.3" transform="rotate(0 923.7 758.9)" stroke="#222" stroke-width="1" fill="#fff"/>
<ellipse cx="923.7" cy="758.9" rx="1.6" ry="1.8" transform="rotate(0 923.7 758.9)" stroke="#222" stroke-width="0.8" fill="#fff"/>
<ellipse cx="897.8" cy="766.7" rx="3" ry="3.3" transform="rotate(0 897.8 766.7)" stroke="#222" stroke-width="1" fill="#fff"/>
<ellipse cx="897.8" cy="766.7" rx="1.6" ry="1.8" transform="rotate(0 897.8 766.7)" stroke="#222" stroke-width="0.8" fill="#fff"/>
<ellipse cx="917.3" cy="779.7" rx="3" ry="3.3" transform="rotate(0 917.3 779.7)" stroke="#222" stroke-width="1" fill="#fff"/>
<ellipse cx="917.3" cy="779.7" rx="1.6" ry="1.8" transform="rotate(0 917.3 779.7)" stroke="#222" stroke-width="0.8" fill="#fff"/>
<ellipse cx="871.9" cy="665.6" rx="3" ry="3.3" transform="rotate(0 871.9 665.6)" stroke="#222" stroke-width="1" fill="#fff"/>
<ellipse cx="871.9" cy="665.6" rx="1.6" ry="1.8" transform="rotate(0 871.9 665.6)" stroke="#222" stroke-width="0.8" fill="#fff"/>
<ellipse cx="895.2" cy="657.8" rx="3" ry="3.3" transform="rotate(0 895.2 657.8)" stroke="#222" stroke-width="1" fill="#fff"/>
<ellipse cx="895.2" cy="657.8" rx="1.6" ry="1.8" transform="rotate(0 895.2 657.8)" stroke="#222" stroke-width="0.8" fill="#fff"/>
<ellipse cx="933.6" cy="655.2" rx="2.6" ry="3.4" transform="rotate(0 933.6 655.2)" stroke="#222" stroke-width="1" fill="#fff"/>
<ellipse cx="933.6" cy="686.3" rx="2.6" ry="3.4" transform="rotate(0 933.6 686.3)" stroke="#222" stroke-width="1" fill="#fff"/>
<ellipse cx="934.1" cy="729.1" rx="2.6" ry="3.4" transform="rotate(0 934.1 729.1)" stroke="#222" stroke-width="1" fill="#fff"/>
<ellipse cx="880.9" cy="707.6" rx="5" ry="5.4" transform="rotate(0 880.9 707.6)" stroke="#222" stroke-width="1" fill="#fff"/>
<ellipse cx="880.9" cy="707.6" rx="3" ry="3.3" transform="rotate(0 880.9 707.6)" stroke="#222" stroke-width="0.9" fill="#fff"/>
<ellipse cx="940.6" cy="742.1" rx="5" ry="6" transform="rotate(0 940.6 742.1)" stroke="#222" stroke-width="1" fill="#fff"/>
<path d="M308.8 465.7 L329.1 475.6 L329.1 471.9 L334 469.4 L340.2 474.4 L344.4 491.7 L339.5 502.1 L343.9 505.3 L345.2 514 L345.2 558.6 L336.5 563.5 L335.3 573.4 L325.3 578.4 L322.9 593.3 L316.7 598.7 L308.8 595.7 Z" stroke="#222" stroke-width="1" fill="#fff" stroke-linejoin="round" />
<path d="M330.3 481.8 L332.8 496.7 L339 501.6" stroke="#222" stroke-width="0.9" fill="none" stroke-linejoin="round" stroke-linecap="round" />
<path d="M329.1 475.6 L330.3 481.8" stroke="#222" stroke-width="0.9" fill="none" stroke-linejoin="round" stroke-linecap="round" />
<ellipse cx="339" cy="511" rx="4.2" ry="4.6" transform="rotate(0 339 511)" stroke="#222" stroke-width="1" fill="#fff"/>
<ellipse cx="339" cy="511" rx="1.9" ry="2.2" transform="rotate(0 339 511)" stroke="#222" stroke-width="0.9" fill="#fff"/>
<ellipse cx="311.7" cy="475.6" rx="1.2" ry="1.4" transform="rotate(0 311.7 475.6)" stroke="#222" stroke-width="0.8" fill="#fff"/>
<ellipse cx="322.9" cy="480.6" rx="1.2" ry="1.4" transform="rotate(0 322.9 480.6)" stroke="#222" stroke-width="0.8" fill="#fff"/>
<ellipse cx="334" cy="489.2" rx="1.2" ry="1.4" transform="rotate(0 334 489.2)" stroke="#222" stroke-width="0.8" fill="#fff"/>
<ellipse cx="317.9" cy="505.3" rx="1.2" ry="1.4" transform="rotate(0 317.9 505.3)" stroke="#222" stroke-width="0.8" fill="#fff"/>
<ellipse cx="330.3" cy="505.3" rx="1.2" ry="1.4" transform="rotate(0 330.3 505.3)" stroke="#222" stroke-width="0.8" fill="#fff"/>
<ellipse cx="326.6" cy="523.9" rx="1.2" ry="1.4" transform="rotate(0 326.6 523.9)" stroke="#222" stroke-width="0.8" fill="#fff"/>
<ellipse cx="314.2" cy="531.3" rx="1.2" ry="1.4" transform="rotate(0 314.2 531.3)" stroke="#222" stroke-width="0.8" fill="#fff"/>
<ellipse cx="335.3" cy="543.7" rx="1.2" ry="1.4" transform="rotate(0 335.3 543.7)" stroke="#222" stroke-width="0.8" fill="#fff"/>
<ellipse cx="320.4" cy="545" rx="1.2" ry="1.4" transform="rotate(0 320.4 545)" stroke="#222" stroke-width="0.8" fill="#fff"/>
<ellipse cx="311.7" cy="558.6" rx="1.2" ry="1.4" transform="rotate(0 311.7 558.6)" stroke="#222" stroke-width="0.8" fill="#fff"/>
<ellipse cx="311.7" cy="561.6" rx="1.2" ry="1.4" transform="rotate(0 311.7 561.6)" stroke="#222" stroke-width="0.8" fill="#fff"/>
<ellipse cx="325.3" cy="568.5" rx="1.2" ry="1.4" transform="rotate(0 325.3 568.5)" stroke="#222" stroke-width="0.8" fill="#fff"/>
<ellipse cx="311.7" cy="583.4" rx="1.2" ry="1.4" transform="rotate(0 311.7 583.4)" stroke="#222" stroke-width="0.8" fill="#fff"/>
<ellipse cx="317.9" cy="592" rx="1.2" ry="1.4" transform="rotate(0 317.9 592)" stroke="#222" stroke-width="0.8" fill="#fff"/>
<ellipse cx="327.8" cy="561.1" rx="1.2" ry="1.4" transform="rotate(0 327.8 561.1)" stroke="#222" stroke-width="0.8" fill="#fff"/>
<ellipse cx="311.7" cy="491.7" rx="1.2" ry="1.4" transform="rotate(0 311.7 491.7)" stroke="#222" stroke-width="0.8" fill="#fff"/>
<path d="M322.9 580.9 L322.9 573.4 L329.1 570.5 L329.1 564.8" stroke="#222" stroke-width="0.8" fill="none" stroke-linejoin="round" stroke-linecap="round" />
<path d="M241.1 426.8 L248.6 422.9 L256.7 424.9 L259.7 429.3 L258.5 434 L253.5 436.3 L253.5 442.7 L248.6 445.2 L241.1 442.2 Z" stroke="#222" stroke-width="1" fill="#fff" stroke-linejoin="round" />
<ellipse cx="245.4" cy="434.3" rx="2.2" ry="2.8" transform="rotate(0 245.4 434.3)" stroke="#222" stroke-width="0.9" fill="#fff"/>
<ellipse cx="245.4" cy="441.7" rx="1.5" ry="1.8" transform="rotate(0 245.4 441.7)" stroke="#222" stroke-width="0.9" fill="#fff"/>
<path d="M248.6 427.3 L253.5 429.8 L253.5 436.3" stroke="#222" stroke-width="0.8" fill="none" stroke-linejoin="round" stroke-linecap="round" />
<path d="M253.5 429.8 L259.2 427.8" stroke="#222" stroke-width="0.8" fill="none" stroke-linejoin="round" stroke-linecap="round" />
<path d="M248.6 445.2 L258.5 439.7 L264.7 442.2 L273.3 444.7 L279.5 452.1 L290.7 459.5 L294.9 455.3 L311.7 463.2 L311.7 467.5 L294.9 468.2 L289.4 474.9 L289.4 600.7 L285.7 592 L283.2 583.4 L283.2 572.2 L267.1 568.5 L253.5 561.1 L252.3 552.4 L248.6 545 L235.4 541.3 L234.5 536.8 L239.9 532.6 L247.3 528.9 L246.8 509.1 L246.8 471.9 L239.9 465.7 L241.1 460.8 L248.6 458.3 Z" stroke="#222" stroke-width="1" fill="#fff" stroke-linejoin="round" />
<ellipse cx="261" cy="449.1" rx="4" ry="3.6" transform="rotate(25 261 449.1)" stroke="#222" stroke-width="1" fill="#fff"/>
<ellipse cx="261" cy="449.1" rx="0.9" ry="0.9" transform="rotate(0 261 449.1)" stroke="#111" stroke-width="0.8" fill="#222"/>
<ellipse cx="268.4" cy="453.6" rx="4" ry="3.6" transform="rotate(25 268.4 453.6)" stroke="#222" stroke-width="1" fill="#fff"/>
<ellipse cx="268.4" cy="453.6" rx="0.9" ry="0.9" transform="rotate(0 268.4 453.6)" stroke="#111" stroke-width="0.8" fill="#222"/>
<path d="M248.6 458.3 L257.2 454.6 L259.7 460.8 L248.6 465.7" stroke="#222" stroke-width="0.8" fill="none" stroke-linejoin="round" stroke-linecap="round" />
<path d="M273.3 444.7 L274.6 450.9 L279.5 452.1" stroke="#222" stroke-width="0.8" fill="none" stroke-linejoin="round" stroke-linecap="round" />
<ellipse cx="290.7" cy="461.3" rx="1.6" ry="1.9" transform="rotate(0 290.7 461.3)" stroke="#222" stroke-width="0.8" fill="#fff"/>
<path d="M254.7 461.7 L266.3 467.6 A3.2 6.5 27 0 1 260.4 479.1 L248.8 473.2 A3.2 6.5 27 0 1 254.7 461.7 Z" stroke="#222" stroke-width="0.9" fill="#fff" stroke-linejoin="round"/>
<path d="M254.7 461.7 A3.2 6.5 27 0 0 248.8 473.2" stroke="#222" stroke-width="0.9" fill="none"/>
<path d="M265.3 469.6 L271.5 472.8 A2.1 4.2 27 0 1 267.7 480.3 L261.5 477.1 A2.1 4.2 27 0 1 265.3 469.6 Z" stroke="#222" stroke-width="0.9" fill="#fff" stroke-linejoin="round"/>
<path d="M272.6 470.7 L285.9 477.6 A3.2 6.5 27 0 1 280 489.1 L266.7 482.3 A3.2 6.5 27 0 1 272.6 470.7 Z" stroke="#222" stroke-width="0.9" fill="#fff" stroke-linejoin="round"/>
<path d="M272.6 470.7 A3.2 6.5 27 0 0 266.7 482.3" stroke="#222" stroke-width="0.9" fill="none"/>
<path d="M285.2 478.9 L290.6 481.6 A2.5 5 27 0 1 286.1 490.5 L280.7 487.8 A2.5 5 27 0 1 285.2 478.9 Z" stroke="#222" stroke-width="0.9" fill="#fff" stroke-linejoin="round"/>
<path d="M254.7 474 L266.3 479.9 A3.2 6.5 27 0 1 260.4 491.5 L248.8 485.6 A3.2 6.5 27 0 1 254.7 474 Z" stroke="#222" stroke-width="0.9" fill="#fff" stroke-linejoin="round"/>
<path d="M254.7 474 A3.2 6.5 27 0 0 248.8 485.6" stroke="#222" stroke-width="0.9" fill="none"/>
<path d="M265.3 482 L271.5 485.2 A2.1 4.2 27 0 1 267.7 492.7 L261.5 489.5 A2.1 4.2 27 0 1 265.3 482 Z" stroke="#222" stroke-width="0.9" fill="#fff" stroke-linejoin="round"/>
<path d="M272.6 483.1 L285.9 489.9 A3.2 6.5 27 0 1 280 501.5 L266.7 494.7 A3.2 6.5 27 0 1 272.6 483.1 Z" stroke="#222" stroke-width="0.9" fill="#fff" stroke-linejoin="round"/>
<path d="M272.6 483.1 A3.2 6.5 27 0 0 266.7 494.7" stroke="#222" stroke-width="0.9" fill="none"/>
<path d="M285.2 491.3 L290.6 494 A2.5 5 27 0 1 286.1 502.9 L280.7 500.2 A2.5 5 27 0 1 285.2 491.3 Z" stroke="#222" stroke-width="0.9" fill="#fff" stroke-linejoin="round"/>
<line x1="274.1" y1="486.2" x2="274.1" y2="493.2" stroke="#262626" stroke-width="3.4" stroke-linecap="round"/>
<line x1="274.1" y1="486.2" x2="274.1" y2="493.2" stroke="#fff" stroke-width="1.8" stroke-linecap="round"/>
<path d="M254.7 486.4 L266.3 492.3 A3.2 6.5 27 0 1 260.4 503.9 L248.8 498 A3.2 6.5 27 0 1 254.7 486.4 Z" stroke="#222" stroke-width="0.9" fill="#fff" stroke-linejoin="round"/>
<path d="M254.7 486.4 A3.2 6.5 27 0 0 248.8 498" stroke="#222" stroke-width="0.9" fill="none"/>
<path d="M265.3 494.4 L271.5 497.6 A2.1 4.2 27 0 1 267.7 505 L261.5 501.9 A2.1 4.2 27 0 1 265.3 494.4 Z" stroke="#222" stroke-width="0.9" fill="#fff" stroke-linejoin="round"/>
<path d="M272.6 495.5 L285.9 502.3 A3.2 6.5 27 0 1 280 513.9 L266.7 507.1 A3.2 6.5 27 0 1 272.6 495.5 Z" stroke="#222" stroke-width="0.9" fill="#fff" stroke-linejoin="round"/>
<path d="M272.6 495.5 A3.2 6.5 27 0 0 266.7 507.1" stroke="#222" stroke-width="0.9" fill="none"/>
<path d="M285.2 503.7 L290.6 506.4 A2.5 5 27 0 1 286.1 515.3 L280.7 512.6 A2.5 5 27 0 1 285.2 503.7 Z" stroke="#222" stroke-width="0.9" fill="#fff" stroke-linejoin="round"/>
<path d="M254.7 498.8 L266.3 504.7 A3.2 6.5 27 0 1 260.4 516.3 L248.8 510.4 A3.2 6.5 27 0 1 254.7 498.8 Z" stroke="#222" stroke-width="0.9" fill="#fff" stroke-linejoin="round"/>
<path d="M254.7 498.8 A3.2 6.5 27 0 0 248.8 510.4" stroke="#222" stroke-width="0.9" fill="none"/>
<path d="M265.3 506.8 L271.5 509.9 A2.1 4.2 27 0 1 267.7 517.4 L261.5 514.2 A2.1 4.2 27 0 1 265.3 506.8 Z" stroke="#222" stroke-width="0.9" fill="#fff" stroke-linejoin="round"/>
<path d="M272.6 507.9 L285.9 514.7 A3.2 6.5 27 0 1 280 526.3 L266.7 519.5 A3.2 6.5 27 0 1 272.6 507.9 Z" stroke="#222" stroke-width="0.9" fill="#fff" stroke-linejoin="round"/>
<path d="M272.6 507.9 A3.2 6.5 27 0 0 266.7 519.5" stroke="#222" stroke-width="0.9" fill="none"/>
<path d="M285.2 516 L290.6 518.8 A2.5 5 27 0 1 286.1 527.7 L280.7 524.9 A2.5 5 27 0 1 285.2 516 Z" stroke="#222" stroke-width="0.9" fill="#fff" stroke-linejoin="round"/>
<line x1="274.1" y1="511" x2="274.1" y2="518" stroke="#262626" stroke-width="3.4" stroke-linecap="round"/>
<line x1="274.1" y1="511" x2="274.1" y2="518" stroke="#fff" stroke-width="1.8" stroke-linecap="round"/>
<path d="M254.7 511.2 L266.3 517.1 A3.2 6.5 27 0 1 260.4 528.7 L248.8 522.8 A3.2 6.5 27 0 1 254.7 511.2 Z" stroke="#222" stroke-width="0.9" fill="#fff" stroke-linejoin="round"/>
<path d="M254.7 511.2 A3.2 6.5 27 0 0 248.8 522.8" stroke="#222" stroke-width="0.9" fill="none"/>
<path d="M265.3 519.1 L271.5 522.3 A2.1 4.2 27 0 1 267.7 529.8 L261.5 526.6 A2.1 4.2 27 0 1 265.3 519.1 Z" stroke="#222" stroke-width="0.9" fill="#fff" stroke-linejoin="round"/>
<path d="M272.6 520.3 L285.9 527.1 A3.2 6.5 27 0 1 280 538.7 L266.7 531.9 A3.2 6.5 27 0 1 272.6 520.3 Z" stroke="#222" stroke-width="0.9" fill="#fff" stroke-linejoin="round"/>
<path d="M272.6 520.3 A3.2 6.5 27 0 0 266.7 531.9" stroke="#222" stroke-width="0.9" fill="none"/>
<path d="M285.2 528.4 L290.6 531.1 A2.5 5 27 0 1 286.1 540.1 L280.7 537.3 A2.5 5 27 0 1 285.2 528.4 Z" stroke="#222" stroke-width="0.9" fill="#fff" stroke-linejoin="round"/>
<path d="M237.1 535.6 L254.9 544.6 A1.8 3.6 27 0 1 251.6 551.1 L233.8 542 A1.8 3.6 27 0 1 237.1 535.6 Z" stroke="#222" stroke-width="0.9" fill="#fff" stroke-linejoin="round"/>
<ellipse cx="235.4" cy="538.8" rx="1.8" ry="3.6" transform="rotate(27 235.4 538.8)" stroke="#222" stroke-width="0.9" fill="#fff"/>
<ellipse cx="254.8" cy="538.8" rx="3.2" ry="3.6" transform="rotate(0 254.8 538.8)" stroke="#222" stroke-width="1" fill="#fff"/>
<ellipse cx="254.8" cy="538.8" rx="1.4" ry="1.6" transform="rotate(0 254.8 538.8)" stroke="#222" stroke-width="0.8" fill="#fff"/>
<ellipse cx="250.3" cy="507.8" rx="2.8" ry="3.2" transform="rotate(0 250.3 507.8)" stroke="#222" stroke-width="1" fill="#fff"/>
<ellipse cx="250.3" cy="507.8" rx="1.2" ry="1.4" transform="rotate(0 250.3 507.8)" stroke="#222" stroke-width="0.8" fill="#fff"/>
<path d="M239.9 532.6 L254.8 533.8 L267.1 541.3 L289.4 548.7" stroke="#222" stroke-width="0.9" fill="none" stroke-linejoin="round" stroke-linecap="round" />
<path d="M252.3 552.4 L267.1 558.6 L283.2 558.6" stroke="#222" stroke-width="0.9" fill="none" stroke-linejoin="round" stroke-linecap="round" />
<path d="M253.5 561.1 L254.8 556.1" stroke="#222" stroke-width="0.8" fill="none" stroke-linejoin="round" stroke-linecap="round" />
<ellipse cx="280.8" cy="556.6" rx="4" ry="4.6" transform="rotate(0 280.8 556.6)" stroke="#222" stroke-width="1" fill="#fff"/>
<ellipse cx="286.5" cy="576.4" rx="3.4" ry="4" transform="rotate(0 286.5 576.4)" stroke="#222" stroke-width="1" fill="#fff"/>
<ellipse cx="267.1" cy="551.7" rx="1.2" ry="1.4" transform="rotate(0 267.1 551.7)" stroke="#222" stroke-width="0.8" fill="#fff"/>
<path d="M289.4 474.9 L294.9 468.2 L308.8 465.7 L308.8 597.7 L294.9 605.6 L289.4 600.7 Z" stroke="#222" stroke-width="1.1" fill="#fff" stroke-linejoin="round" />
<ellipse cx="302.3" cy="483.1" rx="3.9" ry="4.7" transform="rotate(-12 302.3 483.1)" stroke="#222" stroke-width="1.1" fill="#fff"/>
<ellipse cx="294.9" cy="481.1" rx="1.4" ry="1.7" transform="rotate(0 294.9 481.1)" stroke="#222" stroke-width="0.8" fill="#fff"/>
<ellipse cx="293.2" cy="488.5" rx="1.1" ry="1.4" transform="rotate(0 293.2 488.5)" stroke="#222" stroke-width="0.8" fill="#fff"/>
<ellipse cx="302.3" cy="496.7" rx="3.9" ry="4.7" transform="rotate(-12 302.3 496.7)" stroke="#222" stroke-width="1.1" fill="#fff"/>
<ellipse cx="294.9" cy="494.7" rx="1.4" ry="1.7" transform="rotate(0 294.9 494.7)" stroke="#222" stroke-width="0.8" fill="#fff"/>
<ellipse cx="293.2" cy="502.1" rx="1.1" ry="1.4" transform="rotate(0 293.2 502.1)" stroke="#222" stroke-width="0.8" fill="#fff"/>
<ellipse cx="302.3" cy="511" rx="3.9" ry="4.7" transform="rotate(-12 302.3 511)" stroke="#222" stroke-width="1.1" fill="#fff"/>
<ellipse cx="294.9" cy="509.1" rx="1.4" ry="1.7" transform="rotate(0 294.9 509.1)" stroke="#222" stroke-width="0.8" fill="#fff"/>
<ellipse cx="293.2" cy="516.5" rx="1.1" ry="1.4" transform="rotate(0 293.2 516.5)" stroke="#222" stroke-width="0.8" fill="#fff"/>
<ellipse cx="302.3" cy="525.2" rx="3.9" ry="4.7" transform="rotate(-12 302.3 525.2)" stroke="#222" stroke-width="1.1" fill="#fff"/>
<ellipse cx="294.9" cy="523.2" rx="1.4" ry="1.7" transform="rotate(0 294.9 523.2)" stroke="#222" stroke-width="0.8" fill="#fff"/>
<ellipse cx="293.2" cy="530.6" rx="1.1" ry="1.4" transform="rotate(0 293.2 530.6)" stroke="#222" stroke-width="0.8" fill="#fff"/>
<ellipse cx="302.3" cy="540" rx="3.9" ry="4.7" transform="rotate(-12 302.3 540)" stroke="#222" stroke-width="1.1" fill="#fff"/>
<ellipse cx="294.9" cy="538" rx="1.4" ry="1.7" transform="rotate(0 294.9 538)" stroke="#222" stroke-width="0.8" fill="#fff"/>
<ellipse cx="293.2" cy="545.5" rx="1.1" ry="1.4" transform="rotate(0 293.2 545.5)" stroke="#222" stroke-width="0.8" fill="#fff"/>
<ellipse cx="302.3" cy="556.1" rx="3.9" ry="4.7" transform="rotate(-12 302.3 556.1)" stroke="#222" stroke-width="1.1" fill="#fff"/>
<ellipse cx="294.9" cy="554.1" rx="1.4" ry="1.7" transform="rotate(0 294.9 554.1)" stroke="#222" stroke-width="0.8" fill="#fff"/>
<ellipse cx="293.2" cy="561.6" rx="1.1" ry="1.4" transform="rotate(0 293.2 561.6)" stroke="#222" stroke-width="0.8" fill="#fff"/>
<ellipse cx="302.3" cy="572.2" rx="3.9" ry="4.7" transform="rotate(-12 302.3 572.2)" stroke="#222" stroke-width="1.1" fill="#fff"/>
<ellipse cx="294.9" cy="570.2" rx="1.4" ry="1.7" transform="rotate(0 294.9 570.2)" stroke="#222" stroke-width="0.8" fill="#fff"/>
<ellipse cx="293.2" cy="577.7" rx="1.1" ry="1.4" transform="rotate(0 293.2 577.7)" stroke="#222" stroke-width="0.8" fill="#fff"/>
<ellipse cx="302.3" cy="588.3" rx="3.9" ry="4.7" transform="rotate(-12 302.3 588.3)" stroke="#222" stroke-width="1.1" fill="#fff"/>
<ellipse cx="294.9" cy="586.3" rx="1.4" ry="1.7" transform="rotate(0 294.9 586.3)" stroke="#222" stroke-width="0.8" fill="#fff"/>
<ellipse cx="293.2" cy="593.8" rx="1.1" ry="1.4" transform="rotate(0 293.2 593.8)" stroke="#222" stroke-width="0.8" fill="#fff"/>
<ellipse cx="294.9" cy="600.2" rx="1.4" ry="1.7" transform="rotate(0 294.9 600.2)" stroke="#222" stroke-width="0.8" fill="#fff"/>
<path d="M374 526 Q374 523.5 376.5 523.3 L384.5 522.8 Q386.3 523 386 525.5 L385.5 528 L380.3 530.5 L379.7 536.8 Q378.6 538.2 380 539.8 L385.3 537.2 Q386.6 537.2 386.4 538.8 L386 542.2 L380.8 545 L379.7 551.8 Q378.6 553.3 380 554.8 L385.3 552.3 Q386.6 552.3 386.4 553.8 L386 557.3 L380.8 560.1 L379.7 566.9 Q378.6 568.4 380 569.9 L385.3 567.4 Q386.6 567.4 386.4 568.9 L386 572.4 L380.8 575.1 L379.7 581.9 Q378.6 583.4 380 584.9 L385.3 582.4 Q386.6 582.4 386.4 583.9 L386 587.4 L380.8 590.2 L379.7 597 Q378.6 598.5 380 600 L385.3 597.5 Q386.6 597.5 386.4 599 L386 602.5 L380.8 605.2 L379.7 612 Q378.6 613.5 380 615 L385.3 612.5 Q386.6 612.5 386.4 614 L386 617.5 L380.8 620.3 L379.7 627.1 Q378.6 628.6 380 630.1 L385.3 627.6 Q386.6 627.6 386.4 629.1 L386 632.6 L380.8 635.4 L379.7 641.6 L385 639.6 Q386.4 640.1 386 643.1 L385.5 646.1 L380.5 651.6 L376 652.1 Q374 651.6 374 649.1 Z" stroke="#222" stroke-width="1" fill="#fff" stroke-linejoin="round" stroke-linecap="round" />
<ellipse cx="377.2" cy="527.7" rx="1.6" ry="1.9" transform="rotate(-20 377.2 527.7)" stroke="#222" stroke-width="0.85" fill="#fff"/>
<ellipse cx="377.2" cy="542.8" rx="1.6" ry="1.9" transform="rotate(-20 377.2 542.8)" stroke="#222" stroke-width="0.85" fill="#fff"/>
<ellipse cx="383.4" cy="540.5" rx="1" ry="1.3" transform="rotate(0 383.4 540.5)" stroke="#222" stroke-width="0.7" fill="#fff"/>
<ellipse cx="377.2" cy="557.8" rx="1.6" ry="1.9" transform="rotate(-20 377.2 557.8)" stroke="#222" stroke-width="0.85" fill="#fff"/>
<ellipse cx="383.4" cy="555.6" rx="1" ry="1.3" transform="rotate(0 383.4 555.6)" stroke="#222" stroke-width="0.7" fill="#fff"/>
<ellipse cx="377.2" cy="572.9" rx="1.6" ry="1.9" transform="rotate(-20 377.2 572.9)" stroke="#222" stroke-width="0.85" fill="#fff"/>
<ellipse cx="383.4" cy="570.6" rx="1" ry="1.3" transform="rotate(0 383.4 570.6)" stroke="#222" stroke-width="0.7" fill="#fff"/>
<ellipse cx="377.2" cy="587.9" rx="1.6" ry="1.9" transform="rotate(-20 377.2 587.9)" stroke="#222" stroke-width="0.85" fill="#fff"/>
<ellipse cx="383.4" cy="585.7" rx="1" ry="1.3" transform="rotate(0 383.4 585.7)" stroke="#222" stroke-width="0.7" fill="#fff"/>
<ellipse cx="377.2" cy="603" rx="1.6" ry="1.9" transform="rotate(-20 377.2 603)" stroke="#222" stroke-width="0.85" fill="#fff"/>
<ellipse cx="383.4" cy="600.8" rx="1" ry="1.3" transform="rotate(0 383.4 600.8)" stroke="#222" stroke-width="0.7" fill="#fff"/>
<ellipse cx="377.2" cy="618" rx="1.6" ry="1.9" transform="rotate(-20 377.2 618)" stroke="#222" stroke-width="0.85" fill="#fff"/>
<ellipse cx="383.4" cy="615.8" rx="1" ry="1.3" transform="rotate(0 383.4 615.8)" stroke="#222" stroke-width="0.7" fill="#fff"/>
<ellipse cx="377.2" cy="633.1" rx="1.6" ry="1.9" transform="rotate(-20 377.2 633.1)" stroke="#222" stroke-width="0.85" fill="#fff"/>
<ellipse cx="383.4" cy="630.9" rx="1" ry="1.3" transform="rotate(0 383.4 630.9)" stroke="#222" stroke-width="0.7" fill="#fff"/>
<ellipse cx="377.2" cy="648.1" rx="1.6" ry="1.9" transform="rotate(-20 377.2 648.1)" stroke="#222" stroke-width="0.85" fill="#fff"/>
<path d="M304.3 484 L374 526.2" stroke="#333" stroke-width="0.9" fill="none" stroke-dasharray="9 2.5 1.5 2.5"/>
<path d="M304.3 497.7 L374 541.2" stroke="#333" stroke-width="0.9" fill="none" stroke-dasharray="9 2.5 1.5 2.5"/>
<path d="M304.3 512 L374 556.3" stroke="#333" stroke-width="0.9" fill="none" stroke-dasharray="9 2.5 1.5 2.5"/>
<path d="M304.3 526.1 L374 571.4" stroke="#333" stroke-width="0.9" fill="none" stroke-dasharray="9 2.5 1.5 2.5"/>
<path d="M304.3 541 L374 586.4" stroke="#333" stroke-width="0.9" fill="none" stroke-dasharray="9 2.5 1.5 2.5"/>
<path d="M304.3 557.1 L374 601.5" stroke="#333" stroke-width="0.9" fill="none" stroke-dasharray="9 2.5 1.5 2.5"/>
<path d="M304.3 573.2 L374 616.5" stroke="#333" stroke-width="0.9" fill="none" stroke-dasharray="9 2.5 1.5 2.5"/>
<path d="M304.3 589.3 L374 631.6" stroke="#333" stroke-width="0.9" fill="none" stroke-dasharray="9 2.5 1.5 2.5"/>
<path d="M854 114.5 L909.6 82.5" stroke="#333" stroke-width="0.9" fill="none" stroke-dasharray="9 2.5 1.5 2.5"/>
<path d="M165.3 94.5 L177.5 86.4 L192.3 93.2 L233.2 113.8 L225.7 118.1 L218.1 123.4 L204 119.4 L201.1 121.3 L194.2 119.1 L193.6 116.2 L164.7 97.7 Z" stroke="#2a2a2a" stroke-width="1" fill="#fff" stroke-linejoin="round" />
<path d="M201.1 121.3 L205.8 123.4 L201.1 135.1" stroke="#2a2a2a" stroke-width="0.9" fill="none" stroke-linejoin="round" stroke-linecap="round" />
<path d="M233.2 113.8 L238.9 110.9 L254.9 120.4 L255.8 127.5 L252.1 131.7 L242.6 135.5 L240.8 134.2 L231.3 135.5 L192.6 165.3 L190.8 170 L186 173.2 L170.9 166.2 L171.3 158.7 L174.7 153.6 L218.1 123.4 L225.7 118.1 Z" stroke="#2a2a2a" stroke-width="1" fill="#fff" stroke-linejoin="round" />
<path d="M218.1 123.4 L231.3 135.5" stroke="#2a2a2a" stroke-width="0.9" fill="none" stroke-linejoin="round" stroke-linecap="round" />
<path d="M225.7 118.1 L240.8 128.5 L252.1 125.3 L254.9 120.4" stroke="#2a2a2a" stroke-width="0.9" fill="none" stroke-linejoin="round" stroke-linecap="round" />
<path d="M240.8 128.5 L242.6 135.5" stroke="#2a2a2a" stroke-width="0.9" fill="none" stroke-linejoin="round" stroke-linecap="round" />
<path d="M229.4 115.8 L244.5 125.1 L255.5 122.8" stroke="#2a2a2a" stroke-width="0.9" fill="none" stroke-linejoin="round" stroke-linecap="round" />
<path d="M181.3 82.3 L181.3 88.9 L192.3 94 L192.3 83.2 Z" stroke="#2a2a2a" stroke-width="1" fill="#fff" stroke-linejoin="round" />
<line x1="187" y1="85.1" x2="187" y2="91.3" stroke="#2a2a2a" stroke-width="0.9" />
<path d="M167.2 71.3 L176.6 69.4 L201.1 67.2 L204.2 70.6 L203 75.1 L191.7 83.6 L178.5 82.6 L167.2 75.1 Z" stroke="#2a2a2a" stroke-width="1" fill="#fff" stroke-linejoin="round" />
<ellipse cx="184.5" cy="75.9" rx="17.5" ry="8.6" transform="rotate(0 184.5 75.9)" stroke="#2a2a2a" stroke-width="1" fill="#fff"/>
<ellipse cx="184.5" cy="73.4" rx="17.5" ry="8.6" transform="rotate(0 184.5 73.4)" stroke="#2a2a2a" stroke-width="1" fill="#fff"/>
<ellipse cx="184.5" cy="70.9" rx="16.5" ry="8" transform="rotate(0 184.5 70.9)" stroke="#2a2a2a" stroke-width="1" fill="#fff"/>
<ellipse cx="184.5" cy="68.4" rx="15.5" ry="7.5" transform="rotate(0 184.5 68.4)" stroke="#2a2a2a" stroke-width="1" fill="#fff"/>
<path d="M170.6 48.3 L170.6 66.2 L184.2 71.9 L197.4 65.8 L197.4 50.2 L195.1 43.6 L185.1 38.9 Z" stroke="#2a2a2a" stroke-width="1" fill="#fff" stroke-linejoin="round" />
<path d="M170.6 48.3 L174.7 51.7 L185.1 54.5 L197 50.2" stroke="#2a2a2a" stroke-width="0.9" fill="none" stroke-linejoin="round" stroke-linecap="round" />
<line x1="185.1" y1="54.5" x2="184.5" y2="71.3" stroke="#2a2a2a" stroke-width="0.9" />
<ellipse cx="191.3" cy="56.4" rx="1.5" ry="1.8" transform="rotate(0 191.3 56.4)" stroke="#2a2a2a" stroke-width="0.9" fill="#fff"/>
<path d="M201.5 90.2 L205.3 89.4 L214.3 91.7 L220 89.1 L224.2 85.1 L225.3 80.8 L222.8 77.7 L225.7 78.1 L227.9 81.3 L227.9 86.4 L245.5 98.3 L238.9 103.4 L232.8 101.5 L218.1 92.8 L208.7 93.6 L203 92.1 Z" stroke="#2a2a2a" stroke-width="0.9" fill="#fff" stroke-linejoin="round" stroke-linecap="round" />
<ellipse cx="236.4" cy="97.4" rx="2.3" ry="1.7" transform="rotate(0 236.4 97.4)" stroke="#2a2a2a" stroke-width="0.8" fill="#fff"/>
<path d="M168.4 166.6 L170.9 165.3 L188.3 171.2 L190 165.9 L210.2 161.7 L212.3 165.9 L212.3 308.1 L190 320.8 L170.9 311.7 L168.4 307 Z" stroke="#2a2a2a" stroke-width="1" fill="#fff" stroke-linejoin="round" />
<path d="M168.4 166.6 L190 177.2 L212.3 165.9" stroke="#2a2a2a" stroke-width="0.9" fill="none" stroke-linejoin="round" stroke-linecap="round" />
<line x1="190" y1="177.2" x2="190" y2="320.4" stroke="#2a2a2a" stroke-width="1" />
<line x1="174.8" y1="169.7" x2="174.8" y2="313.4" stroke="#2a2a2a" stroke-width="0.9" />
<line x1="182.6" y1="173.3" x2="182.6" y2="317.2" stroke="#2a2a2a" stroke-width="0.9" />
<line x1="170.9" y1="168" x2="170.9" y2="311.3" stroke="#2a2a2a" stroke-width="0.7" />
<line x1="174.8" y1="169.5" x2="190" y2="177.2" stroke="#2a2a2a" stroke-width="0.8" />
<line x1="174.8" y1="178" x2="190" y2="185.7" stroke="#2a2a2a" stroke-width="0.8" />
<line x1="174.8" y1="186.5" x2="190" y2="194.1" stroke="#2a2a2a" stroke-width="0.8" />
<line x1="174.8" y1="195" x2="190" y2="202.6" stroke="#2a2a2a" stroke-width="0.8" />
<line x1="174.8" y1="203.5" x2="190" y2="211.1" stroke="#2a2a2a" stroke-width="0.8" />
<line x1="174.8" y1="212" x2="190" y2="219.6" stroke="#2a2a2a" stroke-width="0.8" />
<line x1="174.8" y1="220.5" x2="190" y2="228.1" stroke="#2a2a2a" stroke-width="0.8" />
<line x1="174.8" y1="228.9" x2="190" y2="236.6" stroke="#2a2a2a" stroke-width="0.8" />
<line x1="174.8" y1="237.4" x2="190" y2="245.1" stroke="#2a2a2a" stroke-width="0.8" />
<line x1="174.8" y1="245.9" x2="190" y2="253.6" stroke="#2a2a2a" stroke-width="0.8" />
<line x1="174.8" y1="254.4" x2="190" y2="262.1" stroke="#2a2a2a" stroke-width="0.8" />
<line x1="174.8" y1="262.9" x2="190" y2="270.5" stroke="#2a2a2a" stroke-width="0.8" />
<line x1="174.8" y1="271.4" x2="190" y2="279" stroke="#2a2a2a" stroke-width="0.8" />
<line x1="174.8" y1="279.9" x2="190" y2="287.5" stroke="#2a2a2a" stroke-width="0.8" />
<line x1="174.8" y1="288.4" x2="190" y2="296" stroke="#2a2a2a" stroke-width="0.8" />
<line x1="174.8" y1="296.9" x2="190" y2="304.5" stroke="#2a2a2a" stroke-width="0.8" />
<line x1="174.8" y1="305.3" x2="190" y2="313" stroke="#2a2a2a" stroke-width="0.8" />
<path d="M190 200.9 L211.3 189.9 L212.5 192.4" stroke="#2a2a2a" stroke-width="0.9" fill="none" stroke-linejoin="round" stroke-linecap="round" />
<path d="M190 200.9 L192.2 196.3" stroke="#2a2a2a" stroke-width="0.8" fill="none" stroke-linejoin="round" stroke-linecap="round" />
<path d="M190 218.8 L211.3 207.7 L212.5 210.3" stroke="#2a2a2a" stroke-width="0.9" fill="none" stroke-linejoin="round" stroke-linecap="round" />
<path d="M190 218.8 L192.2 214.1" stroke="#2a2a2a" stroke-width="0.8" fill="none" stroke-linejoin="round" stroke-linecap="round" />
<path d="M190 236.6 L211.3 225.6 L212.5 228.1" stroke="#2a2a2a" stroke-width="0.9" fill="none" stroke-linejoin="round" stroke-linecap="round" />
<path d="M190 236.6 L192.2 231.9" stroke="#2a2a2a" stroke-width="0.8" fill="none" stroke-linejoin="round" stroke-linecap="round" />
<path d="M190 254.4 L211.3 243.4 L212.5 245.9" stroke="#2a2a2a" stroke-width="0.9" fill="none" stroke-linejoin="round" stroke-linecap="round" />
<path d="M190 254.4 L192.2 249.7" stroke="#2a2a2a" stroke-width="0.8" fill="none" stroke-linejoin="round" stroke-linecap="round" />
<path d="M190 272.2 L211.3 261.2 L212.5 263.8" stroke="#2a2a2a" stroke-width="0.9" fill="none" stroke-linejoin="round" stroke-linecap="round" />
<path d="M190 272.2 L192.2 267.6" stroke="#2a2a2a" stroke-width="0.8" fill="none" stroke-linejoin="round" stroke-linecap="round" />
<path d="M190 290.1 L211.3 279 L212.5 281.6" stroke="#2a2a2a" stroke-width="0.9" fill="none" stroke-linejoin="round" stroke-linecap="round" />
<path d="M190 290.1 L192.2 285.4" stroke="#2a2a2a" stroke-width="0.8" fill="none" stroke-linejoin="round" stroke-linecap="round" />
<path d="M190 307.9 L211.3 296.9 L212.5 299.4" stroke="#2a2a2a" stroke-width="0.9" fill="none" stroke-linejoin="round" stroke-linecap="round" />
<path d="M190 307.9 L192.2 303.2" stroke="#2a2a2a" stroke-width="0.8" fill="none" stroke-linejoin="round" stroke-linecap="round" />
<path d="M139.1 239.6 L155 248 L156.5 253.4 L168.8 259.7 L168.8 265.7 L155 258.2 L151.8 259.3 L145.5 262.5 L142.3 260.4 L142.3 253.4 L137 255.5 L137 247.6 L139.1 245.5 Z" stroke="#2a2a2a" stroke-width="1" fill="#fff" stroke-linejoin="round" />
<path d="M142.3 253.4 L143.8 249.7 L151.8 251.9 L151.8 259.3" stroke="#2a2a2a" stroke-width="0.9" fill="none" stroke-linejoin="round" stroke-linecap="round" />
<path d="M203.8 285.8 L203.8 294.3 L204.9 290.1 L213.4 289 L220.8 294.9 L230.4 289 L249.5 263.5 L241 254 L235.7 260.4 L228.2 273.1 L231.4 278.4 L224 287.9 L214.4 283.3 L212.3 277.3 L203.8 282.6 Z" stroke="#2a2a2a" stroke-width="1" fill="#fff" stroke-linejoin="round" />
<path d="M231.4 278.4 L245.2 259.3" stroke="#2a2a2a" stroke-width="0.9" fill="none" stroke-linejoin="round" stroke-linecap="round" />
<path d="M238.8 265.7 L243.1 256.1" stroke="#2a2a2a" stroke-width="0.9" fill="none" stroke-linejoin="round" stroke-linecap="round" />
<path d="M233.2 37 L237.9 37 L237.9 46.4 L235.5 48.7 L233.2 46.4 Z" stroke="#2a2a2a" stroke-width="0.9" fill="#fff" stroke-linejoin="round" />
<line x1="233.4" y1="40.8" x2="237.7" y2="41.9" stroke="#2a2a2a" stroke-width="0.6" />
<line x1="233.4" y1="42.6" x2="237.7" y2="43.8" stroke="#2a2a2a" stroke-width="0.6" />
<line x1="233.4" y1="44.5" x2="237.7" y2="45.7" stroke="#2a2a2a" stroke-width="0.6" />
<ellipse cx="235.5" cy="36.2" rx="5.3" ry="2.3" transform="rotate(0 235.5 36.2)" stroke="#2a2a2a" stroke-width="0.9" fill="#fff"/>
<path d="M231.7 29.8 L239.2 29.8 L240 35.1 L230.9 35.1 Z" stroke="#2a2a2a" stroke-width="0.9" fill="#fff" stroke-linejoin="round" />
<ellipse cx="235.5" cy="29.8" rx="3.8" ry="1.6" transform="rotate(0 235.5 29.8)" stroke="#2a2a2a" stroke-width="0.9" fill="#fff"/>
<ellipse cx="236" cy="65.8" rx="2.9" ry="1.5" transform="rotate(0 236 65.8)" stroke="#2a2a2a" stroke-width="1.2" fill="#fff"/>
<path d="M235.7 49.2 L235.7 63.8" stroke="#333" stroke-width="0.9" fill="none" stroke-dasharray="9 2.5 1.5 2.5"/>
<path d="M236 68.1 L236.2 95.5" stroke="#333" stroke-width="0.9" fill="none" stroke-dasharray="9 2.5 1.5 2.5"/>
<g font-size="15" fill="#2b2b2b" stroke="none">
<text x="787" y="25.5" text-anchor="start">46210</text>
<text x="264" y="35.2" text-anchor="start">1011AC</text>
<text x="264" y="48.5" text-anchor="start">1140FZ</text>
<text x="260.8" y="70.5" text-anchor="start">1350AH</text>
<text x="270.5" y="102.6" text-anchor="start">46310D</text>
<text x="236" y="224.8" text-anchor="start">46307</text>
<text x="133.9" y="357.9" text-anchor="start">45451B</text>
<text x="193.6" y="360" text-anchor="start">1430JB</text>
<text x="165.5" y="373.8" text-anchor="start">46348</text>
<text x="240.2" y="383.2" text-anchor="start">46258A</text>
<text x="42.5" y="385.2" text-anchor="start">46260A</text>
<text x="92.7" y="415.7" text-anchor="start">46249E</text>
<text x="151.1" y="441" text-anchor="start">44187</text>
<text x="288.2" y="442.7" text-anchor="start">46212J</text>
<text x="336.1" y="434.2" text-anchor="start">46237A</text>
<text x="373.2" y="453.5" text-anchor="start">46237F</text>
<text x="67.7" y="466.2" text-anchor="start">46355</text>
<text x="82.2" y="481.2" text-anchor="start">46260</text>
<text x="124.1" y="495" text-anchor="start">46248</text>
<text x="126.8" y="511.2" text-anchor="start">46272</text>
<text x="99.1" y="555.8" text-anchor="start">46358A</text>
<text x="191.4" y="617.2" text-anchor="start">46259</text>
<text x="55.4" y="644.3" text-anchor="start">1140ES</text>
<text x="118.2" y="642.6" text-anchor="start">1140EW</text>
<text x="301.7" y="644" text-anchor="start">46343A</text>
<text x="189" y="722.1" text-anchor="start">46386</text>
<text x="157.4" y="745.5" text-anchor="start">11403C</text>
<text x="37" y="742.9" text-anchor="start">1140HG</text>
<text x="37" y="758.4" text-anchor="start">1140EM</text>
<text x="611.5" y="55.8" text-anchor="start">46267</text>
<text x="513" y="89.7" text-anchor="start">46229</text>
<text x="544.5" y="108.5" text-anchor="start">46303</text>
<text x="461.1" y="121.5" text-anchor="start">46305</text>
<text x="483.3" y="138.9" text-anchor="start">46231D</text>
<text x="470.5" y="169" text-anchor="start">46305B</text>
<text x="723.4" y="138.2" text-anchor="start">46237A</text>
<text x="537.7" y="184.1" text-anchor="start">46367C</text>
<text x="473" y="217.9" text-anchor="start">46231B</text>
<text x="507.9" y="236.7" text-anchor="start">46378</text>
<text x="551.7" y="265.1" text-anchor="start">46367A</text>
<text x="522.5" y="320.7" text-anchor="start">46231B</text>
<text x="575.3" y="346.3" text-anchor="start">46378</text>
<text x="542.1" y="362.1" text-anchor="start">1433CF</text>
<text x="624.2" y="379.2" text-anchor="start">46269B</text>
<text x="665.5" y="406.2" text-anchor="start">46385A</text>
<text x="561.3" y="430.5" text-anchor="start">46275D</text>
<text x="689.5" y="464.7" text-anchor="start">46358A</text>
<text x="761" y="480.1" text-anchor="start">46255</text>
<text x="661.1" y="514.6" text-anchor="start">46272</text>
<text x="763" y="510.2" text-anchor="start">46260</text>
<text x="437.5" y="517.5" text-anchor="start">1170AA</text>
<text x="422.6" y="532.1" text-anchor="start">46313E</text>
<text x="575.5" y="522.1" text-anchor="start">46303B</text>
<text x="619.3" y="542.3" text-anchor="start">46313B</text>
<text x="559.1" y="573.4" text-anchor="start">46392</text>
<text x="520.8" y="585.7" text-anchor="start">46393A</text>
<text x="596" y="617.9" text-anchor="start">46313C</text>
<text x="512.2" y="634" text-anchor="start">46303B</text>
<text x="549.5" y="663.4" text-anchor="start">46304B</text>
<text x="495.1" y="689.7" text-anchor="start">46392</text>
<text x="415.1" y="700.7" text-anchor="start">46313D</text>
<text x="628.8" y="701.7" text-anchor="start">46313B</text>
<text x="479.7" y="735.2" text-anchor="start">46392</text>
<text x="517.7" y="758.8" text-anchor="start">46304</text>
<text x="384.3" y="755.4" text-anchor="start">46313A</text>
<text x="628.8" y="755.4" text-anchor="start">46313B</text>
<text x="902.5" y="59.9" text-anchor="start">46275C</text>
<text x="820.2" y="92.7" text-anchor="start">1141AA</text>
<text x="875.3" y="273.7" text-anchor="start">46376A</text>
<text x="913" y="294.9" text-anchor="start">46231</text>
<text x="959.3" y="334.8" text-anchor="start">46303C</text>
<text x="1005.9" y="360.2" text-anchor="start">46329</text>
<text x="1080.1" y="340.8" text-anchor="start">46231B</text>
<text x="888.8" y="361.3" text-anchor="start">46378</text>
<text x="856.3" y="410.1" text-anchor="start">46367B</text>
<text x="959.3" y="405.7" text-anchor="start">46231B</text>
<text x="820.5" y="451.9" text-anchor="start">46367B</text>
<text x="928" y="448.2" text-anchor="start">46231B</text>
<text x="855.2" y="468.3" text-anchor="start">46395A</text>
<text x="1020.1" y="441.1" text-anchor="start">46224D</text>
<text x="990.6" y="460.1" text-anchor="start">46311</text>
<text x="961.9" y="475" text-anchor="start">45949</text>
<text x="881.3" y="484.7" text-anchor="start">46231C</text>
<text x="798.9" y="495.2" text-anchor="start">46356</text>
<text x="845.3" y="512.8" text-anchor="start">11403B</text>
<text x="898.1" y="505.6" text-anchor="start">1140EZ</text>
<text x="1004.3" y="513.8" text-anchor="start">46396</text>
<text x="975.8" y="530" text-anchor="start">45949</text>
<text x="1167.4" y="515.9" text-anchor="start">11403C</text>
<text x="1134.5" y="532.6" text-anchor="start">46385B</text>
<text x="1056.5" y="544.5" text-anchor="start">46224D</text>
<text x="1085.2" y="558.1" text-anchor="start">46398</text>
<text x="1027" y="565.1" text-anchor="start">46397</text>
<text x="996.4" y="582.2" text-anchor="start">45949</text>
<text x="1109.2" y="611" text-anchor="start">46399</text>
<text x="1058.9" y="637.2" text-anchor="start">46327B</text>
<text x="1157.3" y="646" text-anchor="start">46396</text>
<text x="1126.7" y="665.7" text-anchor="start">45949</text>
<text x="1117.1" y="681.9" text-anchor="start">46222</text>
<text x="1159.9" y="691" text-anchor="start">46237</text>
<text x="1082.1" y="722.1" text-anchor="start">46371</text>
<text x="1040.1" y="733.4" text-anchor="start">46266A</text>
<text x="1073.8" y="753.1" text-anchor="start">46394A</text>
<text x="1142.4" y="769.3" text-anchor="start">46231B</text>
<text x="1145.5" y="796" text-anchor="start">46231B</text>
<text x="1106.1" y="817" text-anchor="start">46231B</text>
<text x="1020" y="827" text-anchor="start">46226</text>
<text x="984.6" y="806.5" text-anchor="start">46381</text>
<text x="852.1" y="825.3" text-anchor="start">46306</text>
<text x="781.7" y="806.9" text-anchor="start">46326</text>
<text x="732.3" y="789" text-anchor="start">46324B</text>
<text x="811.9" y="746.1" text-anchor="start">46239</text>
<text x="730.1" y="737.8" text-anchor="start">1601DF</text>
<text x="799.6" y="696.3" text-anchor="start">46330</text>
<text x="784.8" y="626.3" text-anchor="start">45954C</text>
<text x="748.9" y="604.9" text-anchor="start">46236</text>
<text x="710" y="583.8" text-anchor="start">46231E</text>
</g></svg></body></html>
